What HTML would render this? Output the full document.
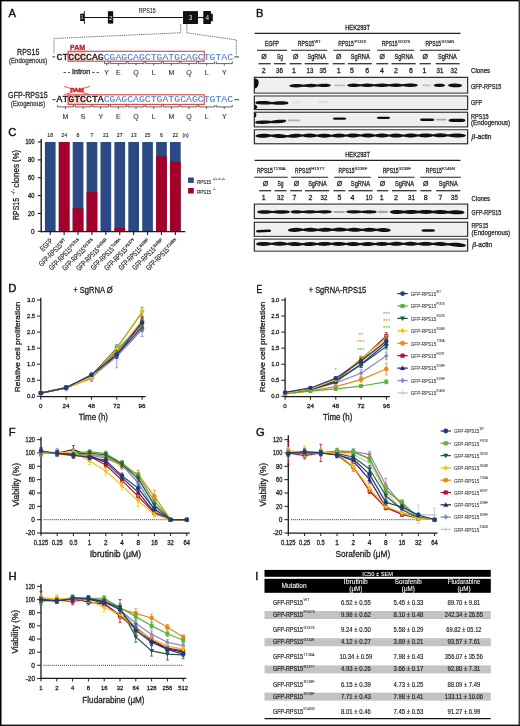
<!DOCTYPE html>
<html><head><meta charset="utf-8"><style>
html,body{margin:0;padding:0;background:#fff;width:520px;height:726px;overflow:hidden}
svg{display:block;will-change:transform;font-family:"Liberation Sans",sans-serif}
</style></head><body>
<svg width="520" height="726" viewBox="0 0 520 726">
<rect width="520" height="726" fill="#fff"/>
<text x="8.60" y="16.90" font-size="11.2" fill="#111" stroke="#111" stroke-width="0.4">A</text>
<text x="255.90" y="17.30" font-size="11.2" fill="#111" stroke="#111" stroke-width="0.4">B</text>
<text x="8.30" y="136.30" font-size="11.2" fill="#111" stroke="#111" stroke-width="0.4">C</text>
<text x="8.30" y="292.40" font-size="11.2" fill="#111" stroke="#111" stroke-width="0.4">D</text>
<text x="256.50" y="292.60" font-size="11.2" textLength="5.60" lengthAdjust="spacingAndGlyphs" fill="#111" stroke="#111" stroke-width="0.4">E</text>
<text x="8.80" y="436.30" font-size="11.2" fill="#111" stroke="#111" stroke-width="0.4">F</text>
<text x="255.90" y="436.30" font-size="11.2" fill="#111" stroke="#111" stroke-width="0.4">G</text>
<text x="8.60" y="579.60" font-size="11.2" fill="#111" stroke="#111" stroke-width="0.4">H</text>
<text x="255.20" y="580.00" font-size="11.2" fill="#111" stroke="#111" stroke-width="0.4">I</text>
<text x="138.80" y="12.60" font-size="6.8" textLength="16.80" lengthAdjust="spacingAndGlyphs" fill="#222" stroke="#222" stroke-width="0.1">RPS15</text>
<line x1="84.00" y1="17.50" x2="183.50" y2="17.50" stroke="#111" stroke-width="1.1"/>
<line x1="197.50" y1="17.50" x2="203.80" y2="17.50" stroke="#111" stroke-width="1.1"/>
<rect x="80.20" y="13.70" width="3.90" height="7.30" fill="#111"/>
<line x1="84.40" y1="11.10" x2="84.40" y2="23.90" stroke="#111" stroke-width="0.9"/>
<rect x="107.90" y="11.20" width="5.30" height="12.40" fill="#111"/>
<rect x="183.00" y="11.10" width="15.00" height="12.90" fill="#111"/>
<path d="M203.3,11.1 H210.9 V13.8 H212.8 V21.3 H210.9 V23.9 H203.3 Z" fill="#111"/>
<text x="82.20" y="19.30" font-size="4.8" text-anchor="middle" fill="#e8e8e8">1</text>
<text x="110.60" y="19.90" font-size="6.0" text-anchor="middle" fill="#e8e8e8">2</text>
<text x="190.50" y="20.00" font-size="6.4" text-anchor="middle" fill="#e8e8e8">3</text>
<text x="207.20" y="20.00" font-size="6.4" text-anchor="middle" fill="#e8e8e8">4</text>
<path d="M180.7,24 V32.8 L54,38.5 V53.8" fill="none" stroke="#444" stroke-width="0.8" stroke-dasharray="1.1,0.8"/>
<path d="M186.8,24 V32.8 L236.3,39.9 V54.8" fill="none" stroke="#444" stroke-width="0.8" stroke-dasharray="1.1,0.8"/>
<text x="17.10" y="55.00" font-size="9.0" textLength="22.20" lengthAdjust="spacingAndGlyphs" fill="#222" stroke="#222" stroke-width="0.28">RPS15</text>
<text x="8.90" y="62.50" font-size="6.6" textLength="38.50" lengthAdjust="spacingAndGlyphs" fill="#444" stroke="#444" stroke-width="0.28">(Endogenous)</text>
<rect x="68.10" y="51.30" width="18.40" height="9.90" fill="#f8d2d2"/>
<g transform="translate(0,59.6) scale(1,0.84) translate(0,-59.6)">
<text x="56.60 62.48 68.37 74.25 80.13 86.02 91.90 97.78" y="59.6" font-family="Liberation Mono" font-size="9.8" fill="#1a1a1a" stroke="#1a1a1a" stroke-width="0.4">CTCCCCAG</text>
<text x="103.66 109.55 115.43 121.31 127.20 133.08 138.96 144.84 150.73 156.61 162.49 168.38 174.26 180.14 186.03 191.91 197.79 203.67 209.56 215.44 221.32 227.21" y="59.6" font-family="Liberation Mono" font-size="9.8" fill="#4f7fd0" stroke="#4f7fd0" stroke-width="0.1">CGAGCAGCTGATGCAGCTGTAC</text>
</g>
<rect x="68.1" y="51.3" width="136.1" height="9.9" fill="none" stroke="#df4848" stroke-width="1.15"/>
<line x1="52.30" y1="56.90" x2="55.20" y2="56.90" stroke="#222" stroke-width="0.9"/>
<line x1="234.40" y1="56.90" x2="239.00" y2="56.90" stroke="#222" stroke-width="0.9"/>
<text x="70.00" y="49.80" font-size="6.5" textLength="15.00" lengthAdjust="spacingAndGlyphs" font-weight="bold" fill="#b92025" stroke="#b92025" stroke-width="0.28">PAM</text>
<text x="106.61" y="74.50" font-size="7.0" text-anchor="middle" fill="#333" stroke="#333" stroke-width="0.12">Y</text>
<text x="118.37" y="74.50" font-size="7.0" text-anchor="middle" fill="#333" stroke="#333" stroke-width="0.12">E</text>
<text x="136.02" y="74.50" font-size="7.0" text-anchor="middle" fill="#333" stroke="#333" stroke-width="0.12">Q</text>
<text x="153.67" y="74.50" font-size="7.0" text-anchor="middle" fill="#333" stroke="#333" stroke-width="0.12">L</text>
<text x="171.32" y="74.50" font-size="7.0" text-anchor="middle" fill="#333" stroke="#333" stroke-width="0.12">M</text>
<text x="188.97" y="74.50" font-size="7.0" text-anchor="middle" fill="#333" stroke="#333" stroke-width="0.12">Q</text>
<text x="206.62" y="74.50" font-size="7.0" text-anchor="middle" fill="#333" stroke="#333" stroke-width="0.12">L</text>
<text x="224.27" y="74.50" font-size="7.0" text-anchor="middle" fill="#333" stroke="#333" stroke-width="0.12">Y</text>
<path d="M104.46,61.4V63.6H108.75V61.4M106.61,63.6V65.5M110.35,61.4V63.6H126.40V61.4M118.37,63.6V65.5M128.00,61.4V63.6H144.04V61.4M136.02,63.6V65.5M145.65,61.4V63.6H161.69V61.4M153.67,63.6V65.5M163.29,61.4V63.6H179.34V61.4M171.32,63.6V65.5M180.94,61.4V63.6H196.99V61.4M188.97,63.6V65.5M198.59,61.4V63.6H214.64V61.4M206.62,63.6V65.5M216.24,61.4V63.6H232.29V61.4M224.27,63.6V65.5" fill="none" stroke="#3a3a3a" stroke-width="0.8"/>
<text x="63.50" y="73.90" font-size="7.0" textLength="35.30" lengthAdjust="spacingAndGlyphs" fill="#222" stroke="#222" stroke-width="0.28">- - Intron - -</text>
<text x="8.10" y="98.20" font-size="9.0" textLength="39.70" lengthAdjust="spacingAndGlyphs" fill="#222" stroke="#222" stroke-width="0.28">GFP-RPS15</text>
<text x="10.70" y="106.30" font-size="6.6" textLength="34.50" lengthAdjust="spacingAndGlyphs" fill="#444" stroke="#444" stroke-width="0.28">(Exogenous)</text>
<rect x="68.10" y="94.80" width="17.80" height="9.60" fill="#f8d2d2"/>
<g transform="translate(0,102.5) scale(1,0.84) translate(0,-102.5)">
<text x="56.60 62.48 68.37 74.25 80.13 86.02 91.90 97.78" y="102.5" font-family="Liberation Mono" font-size="9.8" fill="#1a1a1a" stroke="#1a1a1a" stroke-width="0.4">ATGTCCTA</text>
<text x="103.66 109.55 115.43 121.31 127.20 133.08 138.96 144.84 150.73 156.61 162.49 168.38 174.26 180.14 186.03 191.91 197.79 203.67 209.56 215.44 221.32 227.21" y="102.5" font-family="Liberation Mono" font-size="9.8" fill="#4f7fd0" stroke="#4f7fd0" stroke-width="0.1">CGAGCAGCTGATGCAGCTGTAC</text>
</g>
<rect x="68.1" y="94.8" width="136.1" height="9.6" fill="none" stroke="#df4848" stroke-width="1.15"/>
<line x1="52.30" y1="99.70" x2="55.60" y2="99.70" stroke="#222" stroke-width="0.9"/>
<line x1="234.40" y1="99.70" x2="239.00" y2="99.70" stroke="#222" stroke-width="0.9"/>
<text x="70.20" y="91.80" font-size="5.2" textLength="13.80" lengthAdjust="spacingAndGlyphs" font-weight="bold" fill="#c02025" stroke="#c02025" stroke-width="0.28">PAM</text>
<path d="M64.2,86.4 L89.8,94.7 M64.2,94.9 L89.9,86.2" fill="none" stroke="#d42a2a" stroke-width="0.8"/>
<text x="65.42" y="118.90" font-size="7.0" text-anchor="middle" fill="#333" stroke="#333" stroke-width="0.12">M</text>
<text x="83.07" y="118.90" font-size="7.0" text-anchor="middle" fill="#333" stroke="#333" stroke-width="0.12">S</text>
<text x="100.72" y="118.90" font-size="7.0" text-anchor="middle" fill="#333" stroke="#333" stroke-width="0.12">Y</text>
<text x="118.37" y="118.90" font-size="7.0" text-anchor="middle" fill="#333" stroke="#333" stroke-width="0.12">E</text>
<text x="136.02" y="118.90" font-size="7.0" text-anchor="middle" fill="#333" stroke="#333" stroke-width="0.12">Q</text>
<text x="153.67" y="118.90" font-size="7.0" text-anchor="middle" fill="#333" stroke="#333" stroke-width="0.12">L</text>
<text x="171.32" y="118.90" font-size="7.0" text-anchor="middle" fill="#333" stroke="#333" stroke-width="0.12">M</text>
<text x="188.97" y="118.90" font-size="7.0" text-anchor="middle" fill="#333" stroke="#333" stroke-width="0.12">Q</text>
<text x="206.62" y="118.90" font-size="7.0" text-anchor="middle" fill="#333" stroke="#333" stroke-width="0.12">L</text>
<text x="224.27" y="118.90" font-size="7.0" text-anchor="middle" fill="#333" stroke="#333" stroke-width="0.12">Y</text>
<path d="M57.40,105.0V106.9H73.45V105.0M65.42,106.9V109.0M75.05,105.0V106.9H91.10V105.0M83.07,106.9V109.0M92.70,105.0V106.9H108.75V105.0M100.72,106.9V109.0M110.35,105.0V106.9H126.40V105.0M118.37,106.9V109.0M128.00,105.0V106.9H144.04V105.0M136.02,106.9V109.0M145.65,105.0V106.9H161.69V105.0M153.67,106.9V109.0M163.29,105.0V106.9H179.34V105.0M171.32,106.9V109.0M180.94,105.0V106.9H196.99V105.0M188.97,106.9V109.0M198.59,105.0V106.9H214.64V105.0M206.62,106.9V109.0M216.24,105.0V106.9H232.29V105.0M224.27,106.9V109.0" fill="none" stroke="#3a3a3a" stroke-width="0.8"/>
<defs><filter id="bl" x="-10%" y="-100%" width="120%" height="300%"><feGaussianBlur stdDeviation="0.55"/></filter><filter id="bl2" x="-10%" y="-100%" width="120%" height="300%"><feGaussianBlur stdDeviation="0.9"/></filter></defs>
<text x="345.20" y="29.50" font-size="6.6" textLength="24.80" lengthAdjust="spacingAndGlyphs" fill="#222" stroke="#222" stroke-width="0.28">HEK293T</text>
<line x1="254.60" y1="33.40" x2="460.50" y2="33.40" stroke="#222" stroke-width="1.1"/>
<text x="265.00" y="45.90" font-size="6.7" textLength="14.00" lengthAdjust="spacingAndGlyphs" fill="#222" stroke="#222" stroke-width="0.28">EGFP</text>
<line x1="257.00" y1="50.30" x2="287.00" y2="50.30" stroke="#222" stroke-width="1.1"/>
<text x="263.90" y="59.20" font-size="7.0" text-anchor="middle" fill="#222" stroke="#222" stroke-width="0.28">Ø</text>
<line x1="258.50" y1="63.70" x2="270.80" y2="63.70" stroke="#333" stroke-width="1.3"/>
<text x="277.00" y="59.20" font-size="7.0" textLength="5.90" lengthAdjust="spacingAndGlyphs" fill="#222" stroke="#222" stroke-width="0.28">Sg</text>
<line x1="273.80" y1="63.70" x2="285.70" y2="63.70" stroke="#333" stroke-width="1.3"/>
<text x="263.80" y="73.00" font-size="7.0" text-anchor="middle" fill="#222" stroke="#222" stroke-width="0.28">2</text>
<text x="279.50" y="73.00" font-size="7.0" text-anchor="middle" textLength="6.80" lengthAdjust="spacingAndGlyphs" fill="#222" stroke="#222" stroke-width="0.28">36</text>
<text x="297.80" y="45.90" font-size="6.7" textLength="16.40" lengthAdjust="spacingAndGlyphs" fill="#222" stroke="#222" stroke-width="0.28">RPS15</text>
<text x="314.50" y="42.50" font-size="4.1" textLength="6.20" lengthAdjust="spacingAndGlyphs" fill="#222" stroke="#222" stroke-width="0.15">WT</text>
<line x1="291.30" y1="50.30" x2="327.30" y2="50.30" stroke="#222" stroke-width="1.1"/>
<text x="295.70" y="59.20" font-size="7.0" text-anchor="middle" fill="#222" stroke="#222" stroke-width="0.28">Ø</text>
<line x1="289.70" y1="63.70" x2="301.50" y2="63.70" stroke="#333" stroke-width="1.3"/>
<text x="307.60" y="59.20" font-size="7.0" textLength="18.40" lengthAdjust="spacingAndGlyphs" fill="#222" stroke="#222" stroke-width="0.28">SgRNA</text>
<line x1="304.60" y1="63.70" x2="328.50" y2="63.70" stroke="#333" stroke-width="1.3"/>
<text x="294.00" y="73.00" font-size="7.0" text-anchor="middle" fill="#222" stroke="#222" stroke-width="0.28">1</text>
<text x="310.00" y="73.00" font-size="7.0" text-anchor="middle" textLength="6.80" lengthAdjust="spacingAndGlyphs" fill="#222" stroke="#222" stroke-width="0.28">13</text>
<text x="323.00" y="73.00" font-size="7.0" text-anchor="middle" textLength="6.80" lengthAdjust="spacingAndGlyphs" fill="#222" stroke="#222" stroke-width="0.28">35</text>
<text x="338.20" y="45.90" font-size="6.7" textLength="15.50" lengthAdjust="spacingAndGlyphs" fill="#222" stroke="#222" stroke-width="0.28">RPS15</text>
<text x="354.50" y="42.50" font-size="4.1" textLength="11.50" lengthAdjust="spacingAndGlyphs" fill="#222" stroke="#222" stroke-width="0.15">P131S</text>
<line x1="333.30" y1="50.30" x2="370.20" y2="50.30" stroke="#222" stroke-width="1.1"/>
<text x="338.70" y="59.20" font-size="7.0" text-anchor="middle" fill="#222" stroke="#222" stroke-width="0.28">Ø</text>
<line x1="332.70" y1="63.70" x2="344.70" y2="63.70" stroke="#333" stroke-width="1.3"/>
<text x="350.80" y="59.20" font-size="7.0" textLength="18.90" lengthAdjust="spacingAndGlyphs" fill="#222" stroke="#222" stroke-width="0.28">SgRNA</text>
<line x1="347.80" y1="63.70" x2="371.90" y2="63.70" stroke="#333" stroke-width="1.3"/>
<text x="338.80" y="73.00" font-size="7.0" text-anchor="middle" fill="#222" stroke="#222" stroke-width="0.28">1</text>
<text x="352.00" y="73.00" font-size="7.0" text-anchor="middle" fill="#222" stroke="#222" stroke-width="0.28">5</text>
<text x="367.30" y="73.00" font-size="7.0" text-anchor="middle" fill="#222" stroke="#222" stroke-width="0.28">6</text>
<text x="381.90" y="45.90" font-size="6.7" textLength="15.50" lengthAdjust="spacingAndGlyphs" fill="#222" stroke="#222" stroke-width="0.28">RPS15</text>
<text x="398.00" y="42.50" font-size="4.1" textLength="12.00" lengthAdjust="spacingAndGlyphs" fill="#222" stroke="#222" stroke-width="0.15">G132S</text>
<line x1="377.30" y1="50.30" x2="414.20" y2="50.30" stroke="#222" stroke-width="1.1"/>
<text x="382.30" y="59.20" font-size="7.0" text-anchor="middle" fill="#222" stroke="#222" stroke-width="0.28">Ø</text>
<line x1="376.20" y1="63.70" x2="388.40" y2="63.70" stroke="#333" stroke-width="1.3"/>
<text x="394.50" y="59.20" font-size="7.0" textLength="18.70" lengthAdjust="spacingAndGlyphs" fill="#222" stroke="#222" stroke-width="0.28">SgRNA</text>
<line x1="391.50" y1="63.70" x2="415.70" y2="63.70" stroke="#333" stroke-width="1.3"/>
<text x="382.00" y="73.00" font-size="7.0" text-anchor="middle" fill="#222" stroke="#222" stroke-width="0.28">4</text>
<text x="396.00" y="73.00" font-size="7.0" text-anchor="middle" fill="#222" stroke="#222" stroke-width="0.28">2</text>
<text x="410.90" y="73.00" font-size="7.0" text-anchor="middle" fill="#222" stroke="#222" stroke-width="0.28">6</text>
<text x="425.40" y="45.90" font-size="6.7" textLength="15.50" lengthAdjust="spacingAndGlyphs" fill="#222" stroke="#222" stroke-width="0.28">RPS15</text>
<text x="441.60" y="42.50" font-size="4.1" textLength="12.50" lengthAdjust="spacingAndGlyphs" fill="#222" stroke="#222" stroke-width="0.15">G134R</text>
<line x1="419.70" y1="50.30" x2="460.00" y2="50.30" stroke="#222" stroke-width="1.1"/>
<text x="425.30" y="59.20" font-size="7.0" text-anchor="middle" fill="#222" stroke="#222" stroke-width="0.28">Ø</text>
<line x1="419.70" y1="63.70" x2="430.80" y2="63.70" stroke="#333" stroke-width="1.3"/>
<text x="437.90" y="59.20" font-size="7.0" textLength="19.00" lengthAdjust="spacingAndGlyphs" fill="#222" stroke="#222" stroke-width="0.28">SgRNA</text>
<line x1="435.70" y1="63.70" x2="459.70" y2="63.70" stroke="#333" stroke-width="1.3"/>
<text x="424.50" y="73.00" font-size="7.0" text-anchor="middle" fill="#222" stroke="#222" stroke-width="0.28">1</text>
<text x="440.00" y="73.00" font-size="7.0" text-anchor="middle" textLength="6.80" lengthAdjust="spacingAndGlyphs" fill="#222" stroke="#222" stroke-width="0.28">31</text>
<text x="454.00" y="73.00" font-size="7.0" text-anchor="middle" textLength="6.80" lengthAdjust="spacingAndGlyphs" fill="#222" stroke="#222" stroke-width="0.28">32</text>
<text x="345.20" y="156.50" font-size="6.6" textLength="24.80" lengthAdjust="spacingAndGlyphs" fill="#222" stroke="#222" stroke-width="0.28">HEK293T</text>
<line x1="254.60" y1="160.40" x2="460.50" y2="160.40" stroke="#222" stroke-width="1.1"/>
<text x="256.90" y="172.90" font-size="6.7" textLength="16.00" lengthAdjust="spacingAndGlyphs" fill="#222" stroke="#222" stroke-width="0.28">RPS15</text>
<text x="273.20" y="169.50" font-size="4.1" textLength="12.50" lengthAdjust="spacingAndGlyphs" fill="#222" stroke="#222" stroke-width="0.15">T136A</text>
<line x1="254.30" y1="177.30" x2="287.70" y2="177.30" stroke="#222" stroke-width="1.1"/>
<text x="265.60" y="186.20" font-size="7.0" text-anchor="middle" fill="#222" stroke="#222" stroke-width="0.28">Ø</text>
<line x1="259.20" y1="190.70" x2="271.20" y2="190.70" stroke="#333" stroke-width="1.3"/>
<text x="277.60" y="186.20" font-size="7.0" textLength="6.00" lengthAdjust="spacingAndGlyphs" fill="#222" stroke="#222" stroke-width="0.28">Sg</text>
<line x1="274.60" y1="190.70" x2="286.60" y2="190.70" stroke="#333" stroke-width="1.3"/>
<text x="263.80" y="200.00" font-size="7.0" text-anchor="middle" fill="#222" stroke="#222" stroke-width="0.28">1</text>
<text x="280.40" y="200.00" font-size="7.0" text-anchor="middle" textLength="6.80" lengthAdjust="spacingAndGlyphs" fill="#222" stroke="#222" stroke-width="0.28">32</text>
<text x="295.00" y="172.90" font-size="6.7" textLength="16.00" lengthAdjust="spacingAndGlyphs" fill="#222" stroke="#222" stroke-width="0.28">RPS15</text>
<text x="311.30" y="169.50" font-size="4.1" textLength="13.30" lengthAdjust="spacingAndGlyphs" fill="#222" stroke="#222" stroke-width="0.15">H137Y</text>
<line x1="291.20" y1="177.30" x2="328.20" y2="177.30" stroke="#222" stroke-width="1.1"/>
<text x="296.40" y="186.20" font-size="7.0" text-anchor="middle" fill="#222" stroke="#222" stroke-width="0.28">Ø</text>
<line x1="290.30" y1="190.70" x2="302.00" y2="190.70" stroke="#333" stroke-width="1.3"/>
<text x="308.20" y="186.20" font-size="7.0" textLength="18.40" lengthAdjust="spacingAndGlyphs" fill="#222" stroke="#222" stroke-width="0.28">SgRNA</text>
<line x1="305.00" y1="190.70" x2="329.20" y2="190.70" stroke="#333" stroke-width="1.3"/>
<text x="294.40" y="200.00" font-size="7.0" text-anchor="middle" fill="#222" stroke="#222" stroke-width="0.28">7</text>
<text x="310.50" y="200.00" font-size="7.0" text-anchor="middle" fill="#222" stroke="#222" stroke-width="0.28">2</text>
<text x="324.00" y="200.00" font-size="7.0" text-anchor="middle" textLength="6.80" lengthAdjust="spacingAndGlyphs" fill="#222" stroke="#222" stroke-width="0.28">32</text>
<text x="338.50" y="172.90" font-size="6.7" textLength="16.00" lengthAdjust="spacingAndGlyphs" fill="#222" stroke="#222" stroke-width="0.28">RPS15</text>
<text x="354.80" y="169.50" font-size="4.1" textLength="12.50" lengthAdjust="spacingAndGlyphs" fill="#222" stroke="#222" stroke-width="0.15">S138F</text>
<line x1="334.20" y1="177.30" x2="370.80" y2="177.30" stroke="#222" stroke-width="1.1"/>
<text x="339.50" y="186.20" font-size="7.0" text-anchor="middle" fill="#222" stroke="#222" stroke-width="0.28">Ø</text>
<line x1="333.50" y1="190.70" x2="345.30" y2="190.70" stroke="#333" stroke-width="1.3"/>
<text x="350.80" y="186.20" font-size="7.0" textLength="19.20" lengthAdjust="spacingAndGlyphs" fill="#222" stroke="#222" stroke-width="0.28">SgRNA</text>
<line x1="348.40" y1="190.70" x2="372.70" y2="190.70" stroke="#333" stroke-width="1.3"/>
<text x="339.50" y="200.00" font-size="7.0" text-anchor="middle" fill="#222" stroke="#222" stroke-width="0.28">5</text>
<text x="352.50" y="200.00" font-size="7.0" text-anchor="middle" fill="#222" stroke="#222" stroke-width="0.28">4</text>
<text x="369.00" y="200.00" font-size="7.0" text-anchor="middle" textLength="6.80" lengthAdjust="spacingAndGlyphs" fill="#222" stroke="#222" stroke-width="0.28">10</text>
<text x="382.70" y="172.90" font-size="6.7" textLength="16.00" lengthAdjust="spacingAndGlyphs" fill="#222" stroke="#222" stroke-width="0.28">RPS15</text>
<text x="399.00" y="169.50" font-size="4.1" textLength="12.00" lengthAdjust="spacingAndGlyphs" fill="#222" stroke="#222" stroke-width="0.15">S139F</text>
<line x1="378.00" y1="177.30" x2="414.60" y2="177.30" stroke="#222" stroke-width="1.1"/>
<text x="382.60" y="186.20" font-size="7.0" text-anchor="middle" fill="#222" stroke="#222" stroke-width="0.28">Ø</text>
<line x1="377.00" y1="190.70" x2="388.40" y2="190.70" stroke="#333" stroke-width="1.3"/>
<text x="395.00" y="186.20" font-size="7.0" textLength="19.00" lengthAdjust="spacingAndGlyphs" fill="#222" stroke="#222" stroke-width="0.28">SgRNA</text>
<line x1="392.00" y1="190.70" x2="416.60" y2="190.70" stroke="#333" stroke-width="1.3"/>
<text x="381.60" y="200.00" font-size="7.0" text-anchor="middle" fill="#222" stroke="#222" stroke-width="0.28">1</text>
<text x="396.00" y="200.00" font-size="7.0" text-anchor="middle" fill="#222" stroke="#222" stroke-width="0.28">2</text>
<text x="411.50" y="200.00" font-size="7.0" text-anchor="middle" textLength="6.80" lengthAdjust="spacingAndGlyphs" fill="#222" stroke="#222" stroke-width="0.28">31</text>
<text x="425.80" y="172.90" font-size="6.7" textLength="16.00" lengthAdjust="spacingAndGlyphs" fill="#222" stroke="#222" stroke-width="0.28">RPS15</text>
<text x="442.00" y="169.50" font-size="4.1" textLength="13.00" lengthAdjust="spacingAndGlyphs" fill="#222" stroke="#222" stroke-width="0.15">K145N</text>
<line x1="420.30" y1="177.30" x2="460.80" y2="177.30" stroke="#222" stroke-width="1.1"/>
<text x="425.70" y="186.20" font-size="7.0" text-anchor="middle" fill="#222" stroke="#222" stroke-width="0.28">Ø</text>
<line x1="420.30" y1="190.70" x2="431.50" y2="190.70" stroke="#333" stroke-width="1.3"/>
<text x="438.80" y="186.20" font-size="7.0" textLength="18.90" lengthAdjust="spacingAndGlyphs" fill="#222" stroke="#222" stroke-width="0.28">SgRNA</text>
<line x1="436.20" y1="190.70" x2="460.30" y2="190.70" stroke="#333" stroke-width="1.3"/>
<text x="425.70" y="200.00" font-size="7.0" text-anchor="middle" fill="#222" stroke="#222" stroke-width="0.28">8</text>
<text x="440.50" y="200.00" font-size="7.0" text-anchor="middle" fill="#222" stroke="#222" stroke-width="0.28">7</text>
<text x="454.50" y="200.00" font-size="7.0" text-anchor="middle" textLength="6.80" lengthAdjust="spacingAndGlyphs" fill="#222" stroke="#222" stroke-width="0.28">35</text>
<rect x="254.40" y="77.40" width="213.20" height="15.60" fill="#efefef" stroke="#2b2b2b" stroke-width="1.3"/>
<rect x="255.30" y="78.30" width="211.40" height="13.80" fill="none" stroke="#f6f6f6" stroke-width="0.7"/>
<rect x="254.40" y="96.10" width="213.20" height="13.40" fill="#efefef" stroke="#2b2b2b" stroke-width="1.3"/>
<rect x="255.30" y="97.00" width="211.40" height="11.60" fill="none" stroke="#f6f6f6" stroke-width="0.7"/>
<rect x="254.40" y="112.30" width="213.20" height="14.50" fill="#efefef" stroke="#2b2b2b" stroke-width="1.3"/>
<rect x="255.30" y="113.20" width="211.40" height="12.70" fill="none" stroke="#f6f6f6" stroke-width="0.7"/>
<rect x="254.40" y="129.90" width="213.20" height="13.80" fill="#efefef" stroke="#2b2b2b" stroke-width="1.3"/>
<rect x="255.30" y="130.80" width="211.40" height="12.00" fill="none" stroke="#f6f6f6" stroke-width="0.7"/>
<path d="M254.6,78.2 Q259.5,79 258.6,83.5 Q258,88 254.6,88.6 Z" fill="#111" filter="url(#bl)"/>
<path d="M289.20,85.80 L290.04,85.09 L290.87,84.67 L291.71,84.43 L292.54,84.32 L293.38,84.21 L294.22,84.13 L295.05,84.07 L295.89,84.03 L296.72,84.01 L297.56,84.02 L298.40,84.05 L299.23,84.11 L300.07,84.18 L300.90,84.27 L301.74,84.38 L302.58,84.49 L303.41,84.62 L304.25,84.59 L305.08,84.44 L305.92,84.29 L306.76,84.16 L307.59,84.05 L308.43,83.96 L309.26,83.89 L310.10,83.85 L310.94,83.84 L311.77,83.86 L312.61,83.91 L313.44,83.98 L314.28,84.08 L315.12,84.19 L315.95,84.31 L316.79,84.45 L317.62,84.44 L318.46,84.29 L319.30,84.15 L320.13,84.02 L320.97,83.90 L321.80,83.81 L322.64,83.74 L323.48,83.70 L324.31,83.68 L325.15,83.69 L325.98,83.73 L326.82,83.79 L327.66,83.87 L328.49,83.97 L329.33,84.20 L330.16,84.60 L331.00,85.30 L331.00,85.30 L330.16,86.02 L329.33,86.44 L328.49,86.69 L327.66,86.81 L326.82,86.91 L325.98,86.99 L325.15,87.05 L324.31,87.08 L323.48,87.08 L322.64,87.06 L321.80,87.01 L320.97,86.94 L320.13,86.84 L319.30,86.73 L318.46,86.61 L317.62,86.48 L316.79,86.49 L315.95,86.65 L315.12,86.79 L314.28,86.92 L313.44,87.04 L312.61,87.13 L311.77,87.20 L310.94,87.24 L310.10,87.25 L309.26,87.23 L308.43,87.18 L307.59,87.11 L306.76,87.02 L305.92,86.91 L305.08,86.78 L304.25,86.65 L303.41,86.64 L302.58,86.79 L301.74,86.92 L300.90,87.05 L300.07,87.16 L299.23,87.25 L298.40,87.33 L297.56,87.38 L296.72,87.41 L295.89,87.41 L295.05,87.39 L294.22,87.35 L293.38,87.29 L292.54,87.20 L291.71,87.11 L290.87,86.89 L290.04,86.49 L289.20,85.80Z" fill="#111" opacity="1.0"/>
<path d="M333.80,85.40 Q333.80,84.44 335.71,84.44 L343.49,84.44 Q345.40,84.44 345.40,85.40 Q345.40,86.36 343.49,86.36 L335.71,86.36 Q333.80,86.36 333.80,85.40Z" fill="#111" opacity="0.22" filter="url(#bl)"/>
<path d="M347.00,85.30 L347.84,84.59 L348.67,84.17 L349.51,83.94 L350.34,83.82 L351.18,83.73 L352.01,83.66 L352.85,83.61 L353.68,83.59 L354.52,83.60 L355.35,83.64 L356.19,83.70 L357.02,83.78 L357.86,83.89 L358.69,84.01 L359.53,84.15 L360.36,84.29 L361.20,84.23 L362.04,84.08 L362.87,83.95 L363.71,83.83 L364.54,83.73 L365.38,83.65 L366.21,83.60 L367.05,83.57 L367.88,83.58 L368.72,83.60 L369.55,83.66 L370.39,83.74 L371.22,83.84 L372.06,83.96 L372.89,84.09 L373.73,84.23 L374.56,84.25 L375.40,84.12 L376.24,84.00 L377.07,83.88 L377.91,83.78 L378.74,83.69 L379.58,83.63 L380.41,83.58 L381.25,83.56 L382.08,83.55 L382.92,83.57 L383.75,83.62 L384.59,83.68 L385.42,83.76 L386.26,83.86 L387.09,83.97 L387.93,84.10 L388.76,84.22 L389.60,84.22 L390.44,84.08 L391.27,83.94 L392.11,83.82 L392.94,83.71 L393.78,83.63 L394.61,83.57 L395.45,83.54 L396.28,83.53 L397.12,83.56 L397.95,83.61 L398.79,83.68 L399.62,83.78 L400.46,83.90 L401.29,84.03 L402.13,84.17 L402.96,84.23 L403.80,84.10 L404.64,83.98 L405.47,83.86 L406.31,83.76 L407.14,83.67 L407.98,83.60 L408.81,83.55 L409.65,83.52 L410.48,83.51 L411.32,83.52 L412.15,83.56 L412.99,83.61 L413.82,83.69 L414.66,83.78 L415.49,83.88 L416.33,84.10 L417.16,84.50 L418.00,85.20 L418.00,85.20 L417.16,85.90 L416.33,86.30 L415.49,86.52 L414.66,86.63 L413.82,86.72 L412.99,86.80 L412.15,86.86 L411.32,86.89 L410.48,86.91 L409.65,86.90 L408.81,86.88 L407.98,86.83 L407.14,86.76 L406.31,86.67 L405.47,86.57 L404.64,86.46 L403.80,86.34 L402.96,86.21 L402.13,86.27 L401.29,86.41 L400.46,86.55 L399.62,86.67 L398.79,86.77 L397.95,86.85 L397.12,86.90 L396.28,86.93 L395.45,86.93 L394.61,86.90 L393.78,86.84 L392.94,86.76 L392.11,86.66 L391.27,86.54 L390.44,86.40 L389.60,86.26 L388.76,86.26 L387.93,86.39 L387.09,86.51 L386.26,86.63 L385.42,86.73 L384.59,86.81 L383.75,86.88 L382.92,86.93 L382.08,86.95 L381.25,86.95 L380.41,86.93 L379.58,86.88 L378.74,86.82 L377.91,86.73 L377.07,86.63 L376.24,86.52 L375.40,86.40 L374.56,86.27 L373.73,86.29 L372.89,86.44 L372.06,86.57 L371.22,86.69 L370.39,86.80 L369.55,86.88 L368.72,86.93 L367.88,86.97 L367.05,86.97 L366.21,86.94 L365.38,86.89 L364.54,86.82 L363.71,86.72 L362.87,86.60 L362.04,86.47 L361.20,86.33 L360.36,86.27 L359.53,86.42 L358.69,86.55 L357.86,86.68 L357.02,86.79 L356.19,86.88 L355.35,86.94 L354.52,86.98 L353.68,86.99 L352.85,86.97 L352.01,86.93 L351.18,86.86 L350.34,86.77 L349.51,86.66 L348.67,86.42 L347.84,86.01 L347.00,85.30Z" fill="#111" opacity="1.0"/>
<path d="M422.00,85.40 Q422.00,84.44 423.91,84.44 L429.09,84.44 Q431.00,84.44 431.00,85.40 Q431.00,86.36 429.09,86.36 L423.91,86.36 Q422.00,86.36 422.00,85.40Z" fill="#111" opacity="0.2" filter="url(#bl)"/>
<path d="M433.50,85.30 L434.34,84.56 L435.19,84.14 L436.03,83.93 L436.87,83.83 L437.71,83.76 L438.56,83.72 L439.40,83.70 L440.24,83.72 L441.09,83.76 L441.93,83.83 L442.77,83.93 L443.61,84.14 L444.46,84.56 L445.30,85.30 L445.30,85.30 L444.46,86.04 L443.61,86.46 L442.77,86.67 L441.93,86.77 L441.09,86.84 L440.24,86.88 L439.40,86.90 L438.56,86.88 L437.71,86.84 L436.87,86.77 L436.03,86.67 L435.19,86.46 L434.34,86.04 L433.50,85.30Z" fill="#111" opacity="1.0"/>
<path d="M447.90,85.30 L448.75,84.56 L449.59,84.12 L450.44,83.88 L451.29,83.76 L452.14,83.67 L452.98,83.60 L453.83,83.56 L454.68,83.55 L455.52,83.56 L456.37,83.61 L457.22,83.69 L458.06,83.79 L458.91,83.92 L459.76,84.07 L460.61,84.35 L461.45,84.82 L462.30,85.60 L462.30,85.60 L461.45,86.34 L460.61,86.78 L459.76,87.02 L458.91,87.14 L458.06,87.23 L457.22,87.30 L456.37,87.34 L455.52,87.35 L454.68,87.34 L453.83,87.29 L452.98,87.21 L452.14,87.11 L451.29,86.98 L450.44,86.83 L449.59,86.55 L448.75,86.08 L447.90,85.30Z" fill="#111" opacity="1.0"/>
<path d="M255.00,102.70 L255.84,101.80 L256.68,101.39 L257.52,101.29 L258.36,101.19 L259.20,101.11 L260.04,101.04 L260.88,100.98 L261.72,100.94 L262.56,100.91 L263.40,100.90 L264.24,100.91 L265.08,100.93 L265.92,101.02 L266.76,101.12 L267.60,101.24 L268.44,101.37 L269.28,101.51 L270.12,101.65 L270.96,101.81 L271.80,101.96 L272.64,101.91 L273.48,101.80 L274.32,101.69 L275.16,101.59 L276.00,101.50 L276.84,101.42 L277.68,101.35 L278.52,101.30 L279.36,101.27 L280.20,101.25 L281.04,101.25 L281.88,101.27 L282.72,101.31 L283.56,101.36 L284.40,101.43 L285.24,101.50 L286.08,101.59 L286.92,101.69 L287.76,102.10 L288.60,103.00 L288.60,103.00 L287.76,103.91 L286.92,104.33 L286.08,104.44 L285.24,104.54 L284.40,104.62 L283.56,104.70 L282.72,104.76 L281.88,104.81 L281.04,104.84 L280.20,104.85 L279.36,104.84 L278.52,104.82 L277.68,104.78 L276.84,104.73 L276.00,104.66 L275.16,104.58 L274.32,104.48 L273.48,104.38 L272.64,104.28 L271.80,104.21 L270.96,104.27 L270.12,104.33 L269.28,104.38 L268.44,104.42 L267.60,104.46 L266.76,104.48 L265.92,104.48 L265.08,104.47 L264.24,104.49 L263.40,104.50 L262.56,104.49 L261.72,104.46 L260.88,104.42 L260.04,104.36 L259.20,104.29 L258.36,104.21 L257.52,104.11 L256.68,104.01 L255.84,103.60 L255.00,102.70Z" fill="#111" opacity="1.0"/>
<path d="M254.6,104.2 Q257.6,105.5 257.2,107.2 Q256.5,109 254.6,109.3 Z" fill="#111" filter="url(#bl)"/>
<path d="M292.00,102.50 Q292.00,101.72 293.57,101.72 L298.43,101.72 Q300.00,101.72 300.00,102.50 Q300.00,103.28 298.43,103.28 L293.57,103.28 Q292.00,103.28 292.00,102.50Z" fill="#111" opacity="0.08" filter="url(#bl)"/>
<path d="M318.00,102.00 Q318.00,101.22 319.57,101.22 L326.43,101.22 Q328.00,101.22 328.00,102.00 Q328.00,102.78 326.43,102.78 L319.57,102.78 Q318.00,102.78 318.00,102.00Z" fill="#111" opacity="0.1" filter="url(#bl)"/>
<path d="M254.6,112.8 L256.4,113.2 L256.0,117 L254.6,117.2 Z" fill="#111" filter="url(#bl)"/>
<path d="M255.00,122.40 L255.85,121.48 L256.70,121.06 L257.55,120.95 L258.39,120.85 L259.24,120.75 L260.09,120.67 L260.94,120.60 L261.79,120.55 L262.64,120.51 L263.49,120.49 L264.34,120.48 L265.18,120.49 L266.03,120.52 L266.88,120.56 L267.73,120.61 L268.58,120.67 L269.43,120.74 L270.28,120.81 L271.12,120.88 L271.97,120.74 L272.82,120.57 L273.67,120.42 L274.52,120.27 L275.37,120.13 L276.22,120.01 L277.06,119.90 L277.91,119.82 L278.76,119.75 L279.61,119.69 L280.46,119.66 L281.31,119.64 L282.16,119.64 L283.01,119.66 L283.85,119.68 L284.70,119.72 L285.55,120.05 L286.40,120.90 L286.40,120.90 L285.55,121.87 L284.70,122.33 L283.85,122.48 L283.01,122.63 L282.16,122.76 L281.31,122.88 L280.46,122.99 L279.61,123.08 L278.76,123.15 L277.91,123.20 L277.06,123.23 L276.22,123.24 L275.37,123.24 L274.52,123.23 L273.67,123.20 L272.82,123.17 L271.97,123.13 L271.12,123.10 L270.28,123.23 L269.43,123.34 L268.58,123.45 L267.73,123.56 L266.88,123.65 L266.03,123.73 L265.18,123.80 L264.34,123.85 L263.49,123.89 L262.64,123.91 L261.79,123.91 L260.94,123.90 L260.09,123.87 L259.24,123.83 L258.39,123.78 L257.55,123.72 L256.70,123.65 L255.85,123.28 L255.00,122.40Z" fill="#111" opacity="1.0"/>
<path d="M287.50,120.30 Q287.50,119.47 289.15,119.47 L298.85,119.47 Q300.50,119.47 300.50,120.30 Q300.50,121.13 298.85,121.13 L289.15,121.13 Q287.50,121.13 287.50,120.30Z" fill="#111" opacity="0.28" filter="url(#bl)"/>
<path d="M332.90,118.70 Q332.90,117.57 335.16,117.57 L344.04,117.57 Q346.30,117.57 346.30,118.70 Q346.30,119.83 344.04,119.83 L335.16,119.83 Q332.90,119.83 332.90,118.70Z" fill="#111" opacity="1.0" filter="url(#bl)"/>
<path d="M376.70,117.80 Q376.70,116.71 378.88,116.71 L388.02,116.71 Q390.20,116.71 390.20,117.80 Q390.20,118.89 388.02,118.89 L378.88,118.89 Q376.70,118.89 376.70,117.80Z" fill="#111" opacity="1.0" filter="url(#bl)"/>
<path d="M420.00,119.70 Q420.00,118.44 422.52,118.44 L431.88,118.44 Q434.40,118.44 434.40,119.70 Q434.40,120.96 431.88,120.96 L422.52,120.96 Q420.00,120.96 420.00,119.70Z" fill="#111" opacity="1.0" filter="url(#bl)"/>
<path d="M435.80,119.70 Q435.80,118.83 437.54,118.83 L444.76,118.83 Q446.50,118.83 446.50,119.70 Q446.50,120.57 444.76,120.57 L437.54,120.57 Q435.80,120.57 435.80,119.70Z" fill="#111" opacity="0.32" filter="url(#bl)"/>
<path d="M448.60,120.30 Q448.60,118.69 451.82,118.69 L462.18,118.69 Q465.40,118.69 465.40,120.30 Q465.40,121.91 462.18,121.91 L451.82,121.91 Q448.60,121.91 448.60,120.30Z" fill="#111" opacity="1.0" filter="url(#bl)"/>
<path d="M255.20,135.99 L256.03,135.25 L256.87,134.78 L257.70,134.49 L258.54,134.33 L259.37,134.18 L260.20,134.05 L261.04,133.94 L261.87,133.86 L262.71,133.80 L263.54,133.77 L264.37,133.77 L265.21,133.79 L266.04,133.84 L266.88,133.92 L267.71,134.01 L268.54,134.12 L269.38,134.25 L270.21,134.40 L271.05,134.61 L271.88,134.66 L272.71,134.53 L273.55,134.40 L274.38,134.29 L275.22,134.19 L276.05,134.11 L276.88,134.06 L277.72,134.02 L278.55,134.02 L279.39,134.04 L280.22,134.09 L281.05,134.16 L281.89,134.27 L282.72,134.40 L283.56,134.55 L284.39,134.72 L285.22,134.88 L286.06,135.00 L286.89,135.12 L287.73,135.16 L288.56,134.93 L289.39,134.71 L290.23,134.50 L291.06,134.31 L291.90,134.15 L292.73,134.00 L293.56,133.89 L294.40,133.81 L295.23,133.76 L296.07,133.74 L296.90,133.75 L297.73,133.79 L298.57,133.86 L299.40,133.95 L300.24,134.07 L301.07,134.25 L301.90,134.43 L302.74,134.51 L303.57,134.33 L304.41,134.16 L305.24,134.00 L306.07,133.86 L306.91,133.74 L307.74,133.65 L308.58,133.59 L309.41,133.57 L310.24,133.57 L311.08,133.62 L311.91,133.69 L312.75,133.80 L313.58,133.93 L314.41,134.09 L315.25,134.26 L316.08,134.45 L316.92,134.64 L317.75,134.50 L318.58,134.32 L319.42,134.15 L320.25,134.01 L321.09,133.88 L321.92,133.78 L322.75,133.71 L323.59,133.67 L324.42,133.66 L325.26,133.69 L326.09,133.76 L326.92,133.85 L327.76,133.97 L328.59,134.12 L329.43,134.29 L330.26,134.47 L331.09,134.65 L331.93,134.63 L332.76,134.44 L333.60,134.25 L334.43,134.08 L335.26,133.93 L336.10,133.81 L336.93,133.71 L337.77,133.65 L338.60,133.61 L339.43,133.62 L340.27,133.65 L341.10,133.72 L341.94,133.82 L342.77,133.95 L343.60,134.09 L344.44,134.26 L345.27,134.43 L346.11,134.57 L346.94,134.37 L347.77,134.18 L348.61,134.00 L349.44,133.84 L350.28,133.71 L351.11,133.60 L351.94,133.52 L352.78,133.48 L353.61,133.47 L354.45,133.49 L355.28,133.55 L356.11,133.63 L356.95,133.75 L357.78,133.89 L358.62,134.05 L359.45,134.22 L360.28,134.40 L361.12,134.32 L361.95,134.14 L362.78,133.97 L363.62,133.81 L364.45,133.68 L365.29,133.57 L366.12,133.50 L366.95,133.45 L367.79,133.44 L368.62,133.46 L369.46,133.52 L370.29,133.61 L371.12,133.72 L371.96,133.87 L372.79,134.03 L373.63,134.21 L374.46,134.40 L375.29,134.46 L376.13,134.27 L376.96,134.09 L377.80,133.92 L378.63,133.78 L379.46,133.66 L380.30,133.58 L381.13,133.53 L381.97,133.51 L382.80,133.53 L383.63,133.59 L384.47,133.68 L385.30,133.80 L386.14,133.95 L386.97,134.12 L387.80,134.31 L388.64,134.51 L389.47,134.49 L390.31,134.31 L391.14,134.14 L391.97,133.98 L392.81,133.84 L393.64,133.73 L394.48,133.65 L395.31,133.60 L396.14,133.58 L396.98,133.60 L397.81,133.65 L398.65,133.73 L399.48,133.84 L400.31,133.98 L401.15,134.13 L401.98,134.30 L402.82,134.47 L403.65,134.59 L404.48,134.39 L405.32,134.21 L406.15,134.03 L406.99,133.88 L407.82,133.75 L408.65,133.64 L409.49,133.57 L410.32,133.53 L411.16,133.52 L411.99,133.55 L412.82,133.61 L413.66,133.70 L414.49,133.82 L415.33,133.96 L416.16,134.12 L416.99,134.30 L417.83,134.48 L418.66,134.36 L419.50,134.18 L420.33,134.01 L421.16,133.85 L422.00,133.70 L422.83,133.59 L423.67,133.50 L424.50,133.44 L425.33,133.41 L426.17,133.41 L427.00,133.45 L427.84,133.51 L428.67,133.61 L429.50,133.73 L430.34,133.87 L431.17,134.02 L432.01,134.19 L432.84,134.37 L433.67,134.25 L434.51,134.06 L435.34,133.89 L436.18,133.73 L437.01,133.59 L437.84,133.47 L438.68,133.39 L439.51,133.33 L440.35,133.30 L441.18,133.32 L442.01,133.38 L442.85,133.46 L443.68,133.57 L444.52,133.70 L445.35,133.86 L446.18,134.03 L447.02,134.22 L447.85,134.41 L448.69,134.33 L449.52,134.19 L450.35,134.05 L451.19,133.93 L452.02,133.82 L452.86,133.72 L453.69,133.63 L454.52,133.57 L455.36,133.52 L456.19,133.50 L457.03,133.50 L457.86,133.52 L458.69,133.56 L459.53,133.62 L460.36,133.70 L461.20,133.80 L462.03,133.91 L462.86,134.04 L463.70,134.18 L464.53,134.44 L465.37,134.88 L466.20,135.60 L466.20,135.60 L465.37,136.30 L464.53,136.72 L463.70,136.96 L462.86,137.09 L462.03,137.20 L461.20,137.29 L460.36,137.37 L459.53,137.43 L458.69,137.48 L457.86,137.50 L457.03,137.50 L456.19,137.47 L455.36,137.43 L454.52,137.37 L453.69,137.28 L452.86,137.18 L452.02,137.06 L451.19,136.93 L450.35,136.78 L449.52,136.63 L448.69,136.47 L447.85,136.37 L447.02,136.55 L446.18,136.71 L445.35,136.86 L444.52,137.00 L443.68,137.12 L442.85,137.21 L442.01,137.27 L441.18,137.30 L440.35,137.30 L439.51,137.28 L438.68,137.23 L437.84,137.16 L437.01,137.05 L436.18,136.93 L435.34,136.78 L434.51,136.62 L433.67,136.45 L432.84,136.34 L432.01,136.53 L431.17,136.71 L430.34,136.88 L429.50,137.03 L428.67,137.16 L427.84,137.27 L427.00,137.35 L426.17,137.39 L425.33,137.41 L424.50,137.39 L423.67,137.35 L422.83,137.27 L422.00,137.17 L421.16,137.04 L420.33,136.89 L419.50,136.73 L418.66,136.56 L417.83,136.46 L416.99,136.65 L416.16,136.84 L415.33,137.01 L414.49,137.16 L413.66,137.30 L412.82,137.40 L411.99,137.47 L411.16,137.51 L410.32,137.52 L409.49,137.49 L408.65,137.43 L407.82,137.34 L406.99,137.22 L406.15,137.07 L405.32,136.91 L404.48,136.74 L403.65,136.56 L402.82,136.68 L401.98,136.87 L401.15,137.05 L400.31,137.22 L399.48,137.35 L398.65,137.45 L397.81,137.53 L396.98,137.57 L396.14,137.58 L395.31,137.55 L394.48,137.50 L393.64,137.41 L392.81,137.29 L391.97,137.14 L391.14,136.98 L390.31,136.79 L389.47,136.60 L388.64,136.58 L387.80,136.77 L386.97,136.95 L386.14,137.11 L385.30,137.25 L384.47,137.37 L383.63,137.45 L382.80,137.50 L381.97,137.51 L381.13,137.49 L380.30,137.43 L379.46,137.33 L378.63,137.21 L377.80,137.06 L376.96,136.88 L376.13,136.69 L375.29,136.50 L374.46,136.54 L373.63,136.73 L372.79,136.90 L371.96,137.05 L371.12,137.19 L370.29,137.30 L369.46,137.38 L368.62,137.42 L367.79,137.44 L366.95,137.42 L366.12,137.37 L365.29,137.28 L364.45,137.17 L363.62,137.02 L362.78,136.86 L361.95,136.68 L361.12,136.50 L360.28,136.40 L359.45,136.59 L358.62,136.78 L357.78,136.96 L356.95,137.11 L356.11,137.24 L355.28,137.35 L354.45,137.42 L353.61,137.46 L352.78,137.47 L351.94,137.44 L351.11,137.38 L350.28,137.29 L349.44,137.17 L348.61,137.03 L347.77,136.87 L346.94,136.69 L346.11,136.51 L345.27,136.66 L344.44,136.85 L343.60,137.04 L342.77,137.20 L341.94,137.34 L341.10,137.46 L340.27,137.54 L339.43,137.59 L338.60,137.61 L337.77,137.60 L336.93,137.55 L336.10,137.47 L335.26,137.36 L334.43,137.23 L333.60,137.07 L332.76,136.91 L331.93,136.73 L331.09,136.73 L330.26,136.93 L329.43,137.10 L328.59,137.26 L327.76,137.40 L326.92,137.51 L326.09,137.59 L325.26,137.64 L324.42,137.66 L323.59,137.65 L322.75,137.60 L321.92,137.52 L321.09,137.40 L320.25,137.27 L319.42,137.10 L318.58,136.93 L317.75,136.74 L316.92,136.58 L316.08,136.76 L315.25,136.94 L314.41,137.10 L313.58,137.25 L312.75,137.37 L311.91,137.47 L311.08,137.53 L310.24,137.56 L309.41,137.56 L308.58,137.52 L307.74,137.45 L306.91,137.35 L306.07,137.22 L305.24,137.07 L304.41,136.90 L303.57,136.72 L302.74,136.52 L301.90,136.59 L301.07,136.77 L300.24,136.93 L299.40,137.12 L298.57,137.30 L297.73,137.45 L296.90,137.58 L296.07,137.68 L295.23,137.75 L294.40,137.79 L293.56,137.80 L292.73,137.77 L291.90,137.72 L291.06,137.64 L290.23,137.54 L289.39,137.42 L288.56,137.29 L287.73,137.15 L286.89,137.27 L286.06,137.49 L285.22,137.69 L284.39,137.82 L283.56,137.92 L282.72,137.99 L281.89,138.04 L281.05,138.07 L280.22,138.07 L279.39,138.04 L278.55,137.98 L277.72,137.90 L276.88,137.79 L276.05,137.65 L275.22,137.49 L274.38,137.32 L273.55,137.13 L272.71,136.92 L271.88,136.72 L271.05,136.69 L270.21,136.82 L269.38,136.98 L268.54,137.16 L267.71,137.31 L266.88,137.45 L266.04,137.57 L265.21,137.66 L264.37,137.73 L263.54,137.77 L262.71,137.79 L261.87,137.77 L261.04,137.74 L260.20,137.67 L259.37,137.59 L258.54,137.49 L257.70,137.36 L256.87,137.12 L256.03,136.69 L255.20,135.99Z" fill="#111" opacity="1.0"/>
<text x="471.00" y="73.00" font-size="7.1" textLength="19.20" lengthAdjust="spacingAndGlyphs" fill="#222" stroke="#222" stroke-width="0.25">Clones</text>
<text x="471.00" y="88.90" font-size="7.1" textLength="30.40" lengthAdjust="spacingAndGlyphs" fill="#222" stroke="#222" stroke-width="0.25">GFP-RPS15</text>
<text x="471.00" y="105.00" font-size="7.1" textLength="11.00" lengthAdjust="spacingAndGlyphs" fill="#222" stroke="#222" stroke-width="0.25">GFP</text>
<text x="471.00" y="118.80" font-size="7.1" textLength="17.70" lengthAdjust="spacingAndGlyphs" fill="#222" stroke="#222" stroke-width="0.25">RPS15</text>
<text x="471.00" y="125.30" font-size="7.1" textLength="39.20" lengthAdjust="spacingAndGlyphs" fill="#222" stroke="#222" stroke-width="0.25">(Endogenous)</text>
<text x="471.5" y="139.0" font-size="7.1" fill="#222" stroke="#222" stroke-width="0.25" textLength="20" lengthAdjust="spacingAndGlyphs"><tspan font-style="italic">β</tspan>-actin</text>
<rect x="254.40" y="204.20" width="213.20" height="14.30" fill="#efefef" stroke="#2b2b2b" stroke-width="1.3"/>
<rect x="255.30" y="205.10" width="211.40" height="12.50" fill="none" stroke="#f6f6f6" stroke-width="0.7"/>
<rect x="254.40" y="222.30" width="213.20" height="13.90" fill="#efefef" stroke="#2b2b2b" stroke-width="1.3"/>
<rect x="255.30" y="223.20" width="211.40" height="12.10" fill="none" stroke="#f6f6f6" stroke-width="0.7"/>
<rect x="254.40" y="239.20" width="213.20" height="11.80" fill="#efefef" stroke="#2b2b2b" stroke-width="1.3"/>
<rect x="255.30" y="240.10" width="211.40" height="10.00" fill="none" stroke="#f6f6f6" stroke-width="0.7"/>
<path d="M257.00,212.00 L257.85,211.28 L258.70,210.85 L259.55,210.62 L260.41,210.50 L261.26,210.39 L262.11,210.31 L262.96,210.24 L263.81,210.20 L264.66,210.18 L265.51,210.18 L266.36,210.21 L267.22,210.27 L268.07,210.34 L268.92,210.44 L269.77,210.55 L270.62,210.68 L271.47,210.81 L272.32,210.96 L273.17,210.91 L274.03,210.78 L274.88,210.66 L275.73,210.54 L276.58,210.44 L277.43,210.34 L278.28,210.26 L279.13,210.20 L279.98,210.16 L280.84,210.13 L281.69,210.13 L282.54,210.14 L283.39,210.17 L284.24,210.22 L285.09,210.29 L285.94,210.38 L286.79,210.47 L287.65,210.58 L288.50,210.79 L289.35,211.20 L290.20,211.90 L290.20,211.90 L289.35,212.61 L288.50,213.02 L287.65,213.23 L286.79,213.35 L285.94,213.45 L285.09,213.54 L284.24,213.61 L283.39,213.67 L282.54,213.71 L281.69,213.72 L280.84,213.72 L279.98,213.70 L279.13,213.66 L278.28,213.61 L277.43,213.53 L276.58,213.44 L275.73,213.34 L274.88,213.23 L274.03,213.11 L273.17,212.99 L272.32,212.95 L271.47,213.10 L270.62,213.24 L269.77,213.37 L268.92,213.49 L268.07,213.59 L267.22,213.67 L266.36,213.73 L265.51,213.77 L264.66,213.78 L263.81,213.76 L262.96,213.72 L262.11,213.66 L261.26,213.58 L260.41,213.48 L259.55,213.36 L258.70,213.14 L257.85,212.71 L257.00,212.00Z" fill="#111" opacity="1.0"/>
<path d="M290.20,211.90 L291.04,211.20 L291.87,210.78 L292.71,210.56 L293.54,210.45 L294.38,210.37 L295.22,210.32 L296.05,210.29 L296.89,210.29 L297.72,210.32 L298.56,210.37 L299.40,210.46 L300.23,210.56 L301.07,210.68 L301.90,210.81 L302.74,210.90 L303.58,210.78 L304.41,210.67 L305.25,210.56 L306.08,210.47 L306.92,210.39 L307.76,210.32 L308.59,210.28 L309.43,210.26 L310.26,210.25 L311.10,210.27 L311.94,210.31 L312.77,210.37 L313.61,210.45 L314.44,210.54 L315.28,210.64 L316.12,210.75 L316.95,210.87 L317.79,210.79 L318.62,210.68 L319.46,210.57 L320.30,210.47 L321.13,210.39 L321.97,210.32 L322.80,210.27 L323.64,210.23 L324.48,210.22 L325.31,210.22 L326.15,210.25 L326.98,210.30 L327.82,210.36 L328.66,210.44 L329.49,210.53 L330.33,210.73 L331.16,211.11 L332.00,211.80 L332.00,211.80 L331.16,212.49 L330.33,212.88 L329.49,213.08 L328.66,213.18 L327.82,213.26 L326.98,213.33 L326.15,213.38 L325.31,213.41 L324.48,213.42 L323.64,213.41 L322.80,213.38 L321.97,213.33 L321.13,213.26 L320.30,213.18 L319.46,213.09 L318.62,212.99 L317.79,212.88 L316.95,212.81 L316.12,212.93 L315.28,213.04 L314.44,213.15 L313.61,213.24 L312.77,213.32 L311.94,213.38 L311.10,213.43 L310.26,213.45 L309.43,213.45 L308.59,213.43 L307.76,213.39 L306.92,213.33 L306.08,213.26 L305.25,213.17 L304.41,213.06 L303.58,212.95 L302.74,212.84 L301.90,212.94 L301.07,213.07 L300.23,213.19 L299.40,213.30 L298.56,213.39 L297.72,213.45 L296.89,213.48 L296.05,213.48 L295.22,213.46 L294.38,213.41 L293.54,213.33 L292.71,213.23 L291.87,213.01 L291.04,212.60 L290.20,211.90Z" fill="#111" opacity="1.0"/>
<path d="M333.00,211.90 Q333.00,210.90 335.00,210.90 L343.30,210.90 Q345.30,210.90 345.30,211.90 Q345.30,212.90 343.30,212.90 L335.00,212.90 Q333.00,212.90 333.00,211.90Z" fill="#111" opacity="0.3" filter="url(#bl)"/>
<path d="M346.00,211.80 L346.84,211.12 L347.68,210.74 L348.51,210.54 L349.35,210.45 L350.19,210.38 L351.03,210.31 L351.86,210.27 L352.70,210.24 L353.54,210.23 L354.38,210.23 L355.22,210.26 L356.05,210.30 L356.89,210.36 L357.73,210.43 L358.57,210.52 L359.41,210.62 L360.24,210.72 L361.08,210.83 L361.92,210.86 L362.76,210.75 L363.59,210.65 L364.43,210.55 L365.27,210.47 L366.11,210.40 L366.95,210.34 L367.78,210.30 L368.62,210.28 L369.46,210.28 L370.30,210.29 L371.14,210.33 L371.97,210.38 L372.81,210.45 L373.65,210.53 L374.49,210.62 L375.32,210.83 L376.16,211.21 L377.00,211.90 L377.00,211.90 L376.16,212.58 L375.32,212.96 L374.49,213.16 L373.65,213.25 L372.81,213.33 L371.97,213.39 L371.14,213.44 L370.30,213.46 L369.46,213.48 L368.62,213.47 L367.78,213.44 L366.95,213.39 L366.11,213.33 L365.27,213.25 L364.43,213.16 L363.59,213.06 L362.76,212.96 L361.92,212.84 L361.08,212.87 L360.24,212.97 L359.41,213.07 L358.57,213.16 L357.73,213.24 L356.89,213.31 L356.05,213.37 L355.22,213.40 L354.38,213.42 L353.54,213.42 L352.70,213.41 L351.86,213.37 L351.03,213.32 L350.19,213.25 L349.35,213.17 L348.51,213.07 L347.68,212.87 L346.84,212.49 L346.00,211.80Z" fill="#111" opacity="1.0"/>
<path d="M377.50,211.90 Q377.50,210.86 379.59,210.86 L386.11,210.86 Q388.20,210.86 388.20,211.90 Q388.20,212.94 386.11,212.94 L379.59,212.94 Q377.50,212.94 377.50,211.90Z" fill="#111" opacity="0.32" filter="url(#bl)"/>
<path d="M389.70,212.00 L390.54,211.12 L391.38,210.63 L392.22,210.38 L393.07,210.26 L393.91,210.15 L394.75,210.07 L395.59,210.02 L396.43,209.99 L397.27,209.98 L398.12,210.01 L398.96,210.06 L399.80,210.13 L400.64,210.22 L401.48,210.34 L402.32,210.47 L403.17,210.60 L404.01,210.75 L404.85,210.63 L405.69,210.49 L406.53,210.36 L407.37,210.24 L408.21,210.13 L409.06,210.05 L409.90,209.99 L410.74,209.95 L411.58,209.95 L412.42,209.97 L413.26,210.01 L414.11,210.08 L414.95,210.17 L415.79,210.28 L416.63,210.40 L417.47,210.54 L418.31,210.68 L419.16,210.63 L420.00,210.49 L420.84,210.35 L421.68,210.23 L422.52,210.12 L423.36,210.03 L424.20,209.96 L425.05,209.92 L425.89,209.91 L426.73,209.92 L427.57,209.96 L428.41,210.02 L429.25,210.11 L430.10,210.22 L430.94,210.35 L431.78,210.50 L432.62,210.65 L433.46,210.69 L434.30,210.56 L435.14,210.44 L435.99,210.33 L436.83,210.24 L437.67,210.16 L438.51,210.10 L439.35,210.06 L440.19,210.05 L441.04,210.06 L441.88,210.10 L442.72,210.16 L443.56,210.24 L444.40,210.35 L445.24,210.47 L446.09,210.60 L446.93,210.75 L447.77,210.90 L448.61,210.89 L449.45,210.78 L450.29,210.67 L451.13,210.57 L451.98,210.48 L452.82,210.40 L453.66,210.34 L454.50,210.30 L455.34,210.28 L456.18,210.28 L457.03,210.30 L457.87,210.34 L458.71,210.39 L459.55,210.47 L460.39,210.56 L461.23,210.67 L462.08,210.79 L462.92,211.04 L463.76,211.53 L464.60,212.40 L464.60,212.40 L463.76,213.25 L462.92,213.71 L462.08,213.93 L461.23,214.03 L460.39,214.11 L459.55,214.18 L458.71,214.24 L457.87,214.27 L457.03,214.28 L456.18,214.28 L455.34,214.25 L454.50,214.21 L453.66,214.14 L452.82,214.06 L451.98,213.96 L451.13,213.84 L450.29,213.72 L449.45,213.58 L448.61,213.45 L447.77,213.41 L446.93,213.54 L446.09,213.66 L445.24,213.77 L444.40,213.87 L443.56,213.95 L442.72,214.01 L441.88,214.04 L441.04,214.06 L440.19,214.04 L439.35,214.01 L438.51,213.95 L437.67,213.86 L436.83,213.76 L435.99,213.64 L435.14,213.51 L434.30,213.36 L433.46,213.21 L432.62,213.22 L431.78,213.35 L430.94,213.47 L430.10,213.59 L429.25,213.69 L428.41,213.78 L427.57,213.85 L426.73,213.89 L425.89,213.91 L425.05,213.90 L424.20,213.86 L423.36,213.80 L422.52,213.72 L421.68,213.62 L420.84,213.50 L420.00,213.36 L419.16,213.22 L418.31,213.18 L417.47,213.32 L416.63,213.46 L415.79,213.59 L414.95,213.71 L414.11,213.80 L413.26,213.87 L412.42,213.92 L411.58,213.94 L410.74,213.94 L409.90,213.91 L409.06,213.86 L408.21,213.78 L407.37,213.68 L406.53,213.56 L405.69,213.43 L404.85,213.29 L404.01,213.18 L403.17,213.33 L402.32,213.47 L401.48,213.60 L400.64,213.72 L399.80,213.82 L398.96,213.90 L398.12,213.95 L397.27,213.98 L396.43,213.98 L395.59,213.95 L394.75,213.90 L393.91,213.83 L393.07,213.73 L392.22,213.61 L391.38,213.36 L390.54,212.87 L389.70,212.00Z" fill="#111" opacity="1.0"/>
<path d="M256.00,231.20 Q256.00,229.94 258.52,229.94 L268.68,229.44 Q271.20,229.44 271.20,230.70 Q271.20,231.96 268.68,231.96 L258.52,232.46 Q256.00,232.46 256.00,231.20Z" fill="#111" opacity="1.0" filter="url(#bl)"/>
<path d="M287.60,230.20 L288.43,229.41 L289.27,228.91 L290.10,228.61 L290.94,228.44 L291.77,228.28 L292.60,228.15 L293.44,228.04 L294.27,227.95 L295.10,227.90 L295.94,227.87 L296.77,227.87 L297.61,227.91 L298.44,227.96 L299.27,228.04 L300.11,228.14 L300.94,228.30 L301.78,228.47 L302.61,228.65 L303.44,228.64 L304.28,228.48 L305.11,228.32 L305.95,228.18 L306.78,228.06 L307.61,227.95 L308.45,227.88 L309.28,227.83 L310.11,227.80 L310.95,227.81 L311.78,227.85 L312.62,227.92 L313.45,228.02 L314.28,228.14 L315.12,228.28 L315.95,228.44 L316.79,228.62 L317.62,228.80 L318.45,228.79 L319.29,228.62 L320.12,228.45 L320.95,228.29 L321.79,228.14 L322.62,228.02 L323.46,227.92 L324.29,227.86 L325.12,227.82 L325.96,227.82 L326.79,227.85 L327.63,227.92 L328.46,228.01 L329.29,228.12 L330.13,228.26 L330.96,228.41 L331.80,228.57 L332.63,228.68 L333.46,228.49 L334.30,228.31 L335.13,228.13 L335.96,227.98 L336.80,227.85 L337.63,227.74 L338.47,227.66 L339.30,227.62 L340.13,227.61 L340.97,227.65 L341.80,227.72 L342.64,227.83 L343.47,227.96 L344.30,228.11 L345.14,228.28 L345.97,228.47 L346.80,228.66 L347.64,228.58 L348.47,228.42 L349.31,228.28 L350.14,228.14 L350.97,228.03 L351.81,227.93 L352.64,227.86 L353.48,227.83 L354.31,227.82 L355.14,227.84 L355.98,227.89 L356.81,227.97 L357.65,228.07 L358.48,228.20 L359.31,228.36 L360.15,228.52 L360.98,228.68 L361.81,228.85 L362.65,228.74 L363.48,228.56 L364.32,228.39 L365.15,228.23 L365.98,228.10 L366.82,227.99 L367.65,227.91 L368.49,227.86 L369.32,227.84 L370.15,227.85 L370.99,227.90 L371.82,227.97 L372.65,228.08 L373.49,228.20 L374.32,228.35 L375.16,228.52 L375.99,228.72 L376.82,228.79 L377.66,228.63 L378.49,228.49 L379.33,228.36 L380.16,228.25 L380.99,228.16 L381.83,228.10 L382.66,228.07 L383.50,228.07 L384.33,228.10 L385.16,228.16 L386.00,228.26 L386.83,228.38 L387.66,228.53 L388.50,228.71 L389.33,229.01 L390.17,229.51 L391.00,230.30 L391.00,230.30 L390.17,231.04 L389.33,231.48 L388.50,231.74 L387.66,231.86 L386.83,231.96 L386.00,232.03 L385.16,232.07 L384.33,232.08 L383.50,232.06 L382.66,232.01 L381.83,231.93 L380.99,231.81 L380.16,231.67 L379.33,231.51 L378.49,231.33 L377.66,231.13 L376.82,230.93 L375.99,230.94 L375.16,231.09 L374.32,231.26 L373.49,231.42 L372.65,231.56 L371.82,231.67 L370.99,231.76 L370.15,231.81 L369.32,231.84 L368.49,231.83 L367.65,231.79 L366.82,231.72 L365.98,231.62 L365.15,231.50 L364.32,231.35 L363.48,231.19 L362.65,231.02 L361.81,230.93 L360.98,231.11 L360.15,231.28 L359.31,231.42 L358.48,231.55 L357.65,231.66 L356.81,231.74 L355.98,231.79 L355.14,231.82 L354.31,231.81 L353.48,231.78 L352.64,231.71 L351.81,231.62 L350.97,231.50 L350.14,231.36 L349.31,231.20 L348.47,231.03 L347.64,230.85 L346.80,230.74 L345.97,230.91 L345.14,231.07 L344.30,231.22 L343.47,231.34 L342.64,231.45 L341.80,231.53 L340.97,231.58 L340.13,231.60 L339.30,231.61 L338.47,231.58 L337.63,231.53 L336.80,231.45 L335.96,231.34 L335.13,231.21 L334.30,231.07 L333.46,230.91 L332.63,230.74 L331.80,230.88 L330.96,231.06 L330.13,231.24 L329.29,231.40 L328.46,231.54 L327.63,231.66 L326.79,231.74 L325.96,231.80 L325.12,231.82 L324.29,231.81 L323.46,231.77 L322.62,231.70 L321.79,231.60 L320.95,231.48 L320.12,231.34 L319.29,231.17 L318.45,230.98 L317.62,230.96 L316.79,231.12 L315.95,231.28 L315.12,231.42 L314.28,231.54 L313.45,231.65 L312.62,231.73 L311.78,231.78 L310.95,231.81 L310.11,231.80 L309.28,231.76 L308.45,231.69 L307.61,231.60 L306.78,231.48 L305.95,231.34 L305.11,231.18 L304.28,231.01 L303.44,230.83 L302.61,230.81 L301.78,230.96 L300.94,231.12 L300.11,231.26 L299.27,231.42 L298.44,231.56 L297.61,231.69 L296.77,231.79 L295.94,231.86 L295.10,231.90 L294.27,231.91 L293.44,231.89 L292.60,231.85 L291.77,231.78 L290.94,231.69 L290.10,231.59 L289.27,231.35 L288.43,230.92 L287.60,230.20Z" fill="#111" opacity="1.0"/>
<path d="M421.50,230.60 Q421.50,229.34 424.02,229.34 L432.48,229.34 Q435.00,229.34 435.00,230.60 Q435.00,231.86 432.48,231.86 L424.02,231.86 Q421.50,231.86 421.50,230.60Z" fill="#111" opacity="1.0" filter="url(#bl)"/>
<path d="M255.80,244.00 L256.63,243.26 L257.47,242.80 L258.30,242.51 L259.14,242.36 L259.97,242.22 L260.81,242.10 L261.64,242.01 L262.48,241.95 L263.31,241.91 L264.15,241.90 L264.98,241.92 L265.82,241.97 L266.65,242.05 L267.49,242.15 L268.32,242.27 L269.16,242.41 L269.99,242.56 L270.83,242.72 L271.66,242.82 L272.50,242.64 L273.33,242.46 L274.17,242.30 L275.00,242.15 L275.84,242.01 L276.67,241.90 L277.51,241.81 L278.34,241.75 L279.18,241.71 L280.01,241.71 L280.85,241.76 L281.68,241.84 L282.52,241.94 L283.35,242.07 L284.19,242.22 L285.02,242.38 L285.86,242.56 L286.69,242.75 L287.53,242.93 L288.36,242.77 L289.20,242.61 L290.03,242.47 L290.87,242.34 L291.70,242.23 L292.54,242.15 L293.37,242.09 L294.21,242.07 L295.04,242.08 L295.88,242.11 L296.71,242.18 L297.55,242.28 L298.38,242.41 L299.22,242.56 L300.05,242.73 L300.89,242.89 L301.72,243.06 L302.56,243.20 L303.39,243.00 L304.23,242.81 L305.06,242.63 L305.90,242.47 L306.73,242.33 L307.57,242.21 L308.40,242.13 L309.23,242.08 L310.07,242.07 L310.90,242.09 L311.74,242.14 L312.57,242.22 L313.41,242.33 L314.24,242.47 L315.08,242.62 L315.91,242.79 L316.75,242.97 L317.58,242.88 L318.42,242.69 L319.25,242.50 L320.09,242.33 L320.92,242.18 L321.76,242.06 L322.59,241.97 L323.43,241.90 L324.26,241.88 L325.10,241.88 L325.93,241.92 L326.77,242.00 L327.60,242.10 L328.44,242.22 L329.27,242.37 L330.11,242.54 L330.94,242.73 L331.78,242.80 L332.61,242.63 L333.45,242.45 L334.28,242.30 L335.12,242.16 L335.95,242.05 L336.79,241.96 L337.62,241.91 L338.46,241.89 L339.29,241.90 L340.13,241.95 L340.96,242.03 L341.80,242.14 L342.63,242.28 L343.47,242.44 L344.30,242.62 L345.14,242.81 L345.97,243.00 L346.81,242.84 L347.64,242.66 L348.48,242.50 L349.31,242.35 L350.15,242.23 L350.98,242.13 L351.82,242.07 L352.65,242.04 L353.49,242.04 L354.32,242.07 L355.16,242.14 L355.99,242.24 L356.83,242.37 L357.66,242.52 L358.50,242.69 L359.33,242.88 L360.17,243.07 L361.00,243.03 L361.83,242.84 L362.67,242.65 L363.50,242.49 L364.34,242.34 L365.17,242.22 L366.01,242.13 L366.84,242.07 L367.68,242.04 L368.51,242.05 L369.35,242.09 L370.18,242.17 L371.02,242.27 L371.85,242.40 L372.69,242.55 L373.52,242.72 L374.36,242.90 L375.19,242.99 L376.03,242.79 L376.86,242.60 L377.70,242.42 L378.53,242.26 L379.37,242.13 L380.20,242.03 L381.04,241.97 L381.87,241.94 L382.71,241.94 L383.54,241.99 L384.38,242.06 L385.21,242.17 L386.05,242.31 L386.88,242.47 L387.72,242.64 L388.55,242.83 L389.39,242.84 L390.22,242.65 L391.06,242.46 L391.89,242.30 L392.73,242.15 L393.56,242.02 L394.40,241.93 L395.23,241.86 L396.07,241.83 L396.90,241.83 L397.74,241.87 L398.57,241.94 L399.41,242.04 L400.24,242.17 L401.08,242.33 L401.91,242.50 L402.75,242.69 L403.58,242.84 L404.42,242.65 L405.25,242.47 L406.09,242.31 L406.92,242.16 L407.76,242.03 L408.59,241.93 L409.43,241.87 L410.26,241.83 L411.10,241.83 L411.93,241.86 L412.77,241.93 L413.60,242.03 L414.43,242.15 L415.27,242.30 L416.10,242.47 L416.94,242.65 L417.77,242.84 L418.61,242.76 L419.44,242.59 L420.28,242.42 L421.11,242.27 L421.95,242.13 L422.78,242.02 L423.62,241.94 L424.45,241.89 L425.29,241.86 L426.12,241.87 L426.96,241.92 L427.79,241.99 L428.63,242.09 L429.46,242.22 L430.30,242.36 L431.13,242.53 L431.97,242.70 L432.80,242.89 L433.64,242.79 L434.47,242.62 L435.31,242.45 L436.14,242.30 L436.98,242.17 L437.81,242.06 L438.65,241.97 L439.48,241.92 L440.32,241.92 L441.15,241.96 L441.99,242.04 L442.82,242.15 L443.66,242.29 L444.49,242.46 L445.33,242.64 L446.16,242.84 L447.00,243.06 L447.83,243.28 L448.67,243.23 L449.50,243.12 L450.34,243.02 L451.17,242.92 L452.01,242.84 L452.84,242.77 L453.68,242.72 L454.51,242.68 L455.35,242.68 L456.18,242.72 L457.02,242.78 L457.85,242.87 L458.69,242.97 L459.52,243.10 L460.36,243.25 L461.19,243.41 L462.03,243.60 L462.86,243.79 L463.70,244.00 L464.53,244.33 L465.37,244.83 L466.20,245.60 L466.20,245.60 L465.37,246.25 L464.53,246.61 L463.70,246.78 L462.86,246.84 L462.03,246.88 L461.19,246.91 L460.36,246.93 L459.52,246.92 L458.69,246.90 L457.85,246.85 L457.02,246.78 L456.18,246.69 L455.35,246.58 L454.51,246.47 L453.68,246.36 L452.84,246.23 L452.01,246.08 L451.17,245.92 L450.34,245.74 L449.50,245.56 L448.67,245.38 L447.83,245.25 L447.00,245.40 L446.16,245.53 L445.33,245.66 L444.49,245.76 L443.66,245.85 L442.82,245.91 L441.99,245.94 L441.15,245.94 L440.32,245.91 L439.48,245.87 L438.65,245.82 L437.81,245.73 L436.98,245.62 L436.14,245.48 L435.31,245.33 L434.47,245.16 L433.64,244.97 L432.80,244.88 L431.97,245.06 L431.13,245.23 L430.30,245.39 L429.46,245.53 L428.63,245.65 L427.79,245.75 L426.96,245.82 L426.12,245.86 L425.29,245.86 L424.45,245.84 L423.62,245.78 L422.78,245.69 L421.95,245.58 L421.11,245.44 L420.28,245.28 L419.44,245.11 L418.61,244.93 L417.77,244.85 L416.94,245.03 L416.10,245.21 L415.27,245.37 L414.43,245.52 L413.60,245.64 L412.77,245.73 L411.93,245.80 L411.10,245.82 L410.26,245.82 L409.43,245.78 L408.59,245.71 L407.76,245.61 L406.92,245.48 L406.09,245.32 L405.25,245.15 L404.42,244.97 L403.58,244.78 L402.75,244.93 L401.91,245.11 L401.08,245.28 L400.24,245.43 L399.41,245.57 L398.57,245.68 L397.74,245.76 L396.90,245.81 L396.07,245.83 L395.23,245.81 L394.40,245.76 L393.56,245.68 L392.73,245.56 L391.89,245.43 L391.06,245.27 L390.22,245.10 L389.39,244.92 L388.55,244.94 L387.72,245.14 L386.88,245.33 L386.05,245.50 L385.21,245.65 L384.38,245.77 L383.54,245.86 L382.71,245.92 L381.87,245.94 L381.04,245.92 L380.20,245.86 L379.37,245.78 L378.53,245.66 L377.70,245.51 L376.86,245.35 L376.03,245.17 L375.19,244.98 L374.36,245.09 L373.52,245.28 L372.69,245.46 L371.85,245.62 L371.02,245.76 L370.18,245.88 L369.35,245.97 L368.51,246.02 L367.68,246.04 L366.84,246.03 L366.01,245.98 L365.17,245.90 L364.34,245.79 L363.50,245.66 L362.67,245.51 L361.83,245.34 L361.00,245.16 L360.17,245.12 L359.33,245.31 L358.50,245.48 L357.66,245.63 L356.83,245.77 L355.99,245.88 L355.16,245.96 L354.32,246.02 L353.49,246.03 L352.65,246.02 L351.82,245.97 L350.98,245.89 L350.15,245.77 L349.31,245.63 L348.48,245.47 L347.64,245.29 L346.81,245.10 L345.97,244.92 L345.14,245.10 L344.30,245.27 L343.47,245.43 L342.63,245.58 L341.80,245.70 L340.96,245.79 L340.13,245.85 L339.29,245.89 L338.46,245.88 L337.62,245.85 L336.79,245.77 L335.95,245.67 L335.12,245.54 L334.28,245.39 L333.45,245.21 L332.61,245.03 L331.78,244.83 L330.94,244.89 L330.11,245.06 L329.27,245.25 L328.44,245.42 L327.60,245.57 L326.77,245.69 L325.93,245.79 L325.10,245.85 L324.26,245.88 L323.43,245.87 L322.59,245.83 L321.76,245.76 L320.92,245.66 L320.09,245.53 L319.25,245.39 L318.42,245.22 L317.58,245.05 L316.75,244.98 L315.91,245.18 L315.08,245.37 L314.24,245.55 L313.41,245.71 L312.57,245.84 L311.74,245.95 L310.90,246.02 L310.07,246.06 L309.23,246.07 L308.40,246.04 L307.57,245.98 L306.73,245.89 L305.90,245.78 L305.06,245.64 L304.23,245.48 L303.39,245.31 L302.56,245.13 L301.72,245.30 L300.89,245.49 L300.05,245.66 L299.22,245.80 L298.38,245.91 L297.55,245.99 L296.71,246.05 L295.88,246.08 L295.04,246.08 L294.21,246.04 L293.37,245.97 L292.54,245.88 L291.70,245.75 L290.87,245.60 L290.03,245.43 L289.20,245.25 L288.36,245.05 L287.53,244.84 L286.69,244.98 L285.86,245.13 L285.02,245.27 L284.19,245.39 L283.35,245.50 L282.52,245.58 L281.68,245.65 L280.85,245.68 L280.01,245.70 L279.18,245.71 L278.34,245.69 L277.51,245.65 L276.67,245.58 L275.84,245.49 L275.00,245.38 L274.17,245.25 L273.33,245.10 L272.50,244.95 L271.66,244.79 L270.83,244.90 L269.99,245.09 L269.16,245.26 L268.32,245.42 L267.49,245.56 L266.65,245.68 L265.82,245.78 L264.98,245.85 L264.15,245.89 L263.31,245.90 L262.48,245.89 L261.64,245.84 L260.81,245.77 L259.97,245.68 L259.14,245.56 L258.30,245.42 L257.47,245.16 L256.63,244.72 L255.80,244.00Z" fill="#111" opacity="1.0"/>
<text x="471.50" y="200.80" font-size="7.1" textLength="18.60" lengthAdjust="spacingAndGlyphs" fill="#222" stroke="#222" stroke-width="0.25">Clones</text>
<text x="471.50" y="215.20" font-size="7.1" textLength="29.70" lengthAdjust="spacingAndGlyphs" fill="#222" stroke="#222" stroke-width="0.25">GFP-RPS15</text>
<text x="471.50" y="227.70" font-size="7.1" textLength="16.80" lengthAdjust="spacingAndGlyphs" fill="#222" stroke="#222" stroke-width="0.25">RPS15</text>
<text x="471.50" y="234.60" font-size="7.1" textLength="38.50" lengthAdjust="spacingAndGlyphs" fill="#222" stroke="#222" stroke-width="0.25">(Endogenous)</text>
<text x="472.3" y="247.3" font-size="7.1" fill="#222" stroke="#222" stroke-width="0.25" textLength="19.8" lengthAdjust="spacingAndGlyphs"><tspan font-style="italic">β</tspan>-actin</text>
<rect x="44.90" y="142.00" width="10.70" height="89.30" fill="#2b4a85"/>
<text x="50.25" y="137.40" font-size="5.2" text-anchor="middle" fill="#222" stroke="#222" stroke-width="0.1">18</text>
<rect x="58.80" y="142.00" width="10.70" height="89.30" fill="#2b4a85"/>
<rect x="58.80" y="142.00" width="10.70" height="89.30" fill="#a3002b"/>
<text x="64.15" y="137.40" font-size="5.2" text-anchor="middle" fill="#222" stroke="#222" stroke-width="0.1">24</text>
<rect x="72.70" y="142.00" width="10.70" height="89.30" fill="#2b4a85"/>
<rect x="72.70" y="208.26" width="10.70" height="23.04" fill="#a3002b"/>
<text x="78.05" y="137.40" font-size="5.2" text-anchor="middle" fill="#222" stroke="#222" stroke-width="0.1">8</text>
<rect x="86.60" y="142.00" width="10.70" height="89.30" fill="#2b4a85"/>
<rect x="86.60" y="192.01" width="10.70" height="39.29" fill="#a3002b"/>
<text x="91.95" y="137.40" font-size="5.2" text-anchor="middle" fill="#222" stroke="#222" stroke-width="0.1">7</text>
<rect x="100.50" y="142.00" width="10.70" height="89.30" fill="#2b4a85"/>
<text x="105.85" y="137.40" font-size="5.2" text-anchor="middle" fill="#222" stroke="#222" stroke-width="0.1">21</text>
<rect x="114.40" y="142.00" width="10.70" height="89.30" fill="#2b4a85"/>
<rect x="114.40" y="227.73" width="10.70" height="3.57" fill="#a3002b"/>
<text x="119.75" y="137.40" font-size="5.2" text-anchor="middle" fill="#222" stroke="#222" stroke-width="0.1">27</text>
<rect x="128.30" y="142.00" width="10.70" height="89.30" fill="#2b4a85"/>
<text x="133.65" y="137.40" font-size="5.2" text-anchor="middle" fill="#222" stroke="#222" stroke-width="0.1">13</text>
<rect x="142.20" y="142.00" width="10.70" height="89.30" fill="#2b4a85"/>
<text x="147.55" y="137.40" font-size="5.2" text-anchor="middle" fill="#222" stroke="#222" stroke-width="0.1">25</text>
<rect x="156.10" y="142.00" width="10.70" height="89.30" fill="#2b4a85"/>
<rect x="156.10" y="156.29" width="10.70" height="75.01" fill="#a3002b"/>
<text x="161.45" y="137.40" font-size="5.2" text-anchor="middle" fill="#222" stroke="#222" stroke-width="0.1">6</text>
<rect x="170.00" y="142.00" width="10.70" height="89.30" fill="#2b4a85"/>
<rect x="170.00" y="161.65" width="10.70" height="69.65" fill="#a3002b"/>
<text x="175.35" y="137.40" font-size="5.2" text-anchor="middle" fill="#222" stroke="#222" stroke-width="0.1">22</text>
<text x="182.60" y="137.40" font-size="5.0" fill="#222" stroke="#222" stroke-width="0.1">(n)</text>
<line x1="41.20" y1="138.90" x2="41.20" y2="232.30" stroke="#1a1a1a" stroke-width="1.4"/>
<line x1="40.50" y1="231.60" x2="185.30" y2="231.60" stroke="#1a1a1a" stroke-width="1.4"/>
<line x1="37.80" y1="231.30" x2="41.20" y2="231.30" stroke="#1a1a1a" stroke-width="1.1"/>
<text x="34.50" y="233.50" font-size="6.4" text-anchor="end" fill="#222" stroke="#222" stroke-width="0.28">0</text>
<line x1="37.80" y1="213.44" x2="41.20" y2="213.44" stroke="#1a1a1a" stroke-width="1.1"/>
<text x="34.50" y="215.64" font-size="6.4" text-anchor="end" textLength="6.50" lengthAdjust="spacingAndGlyphs" fill="#222" stroke="#222" stroke-width="0.28">20</text>
<line x1="37.80" y1="195.58" x2="41.20" y2="195.58" stroke="#1a1a1a" stroke-width="1.1"/>
<text x="34.50" y="197.78" font-size="6.4" text-anchor="end" textLength="6.50" lengthAdjust="spacingAndGlyphs" fill="#222" stroke="#222" stroke-width="0.28">40</text>
<line x1="37.80" y1="177.72" x2="41.20" y2="177.72" stroke="#1a1a1a" stroke-width="1.1"/>
<text x="34.50" y="179.92" font-size="6.4" text-anchor="end" textLength="6.50" lengthAdjust="spacingAndGlyphs" fill="#222" stroke="#222" stroke-width="0.28">60</text>
<line x1="37.80" y1="159.86" x2="41.20" y2="159.86" stroke="#1a1a1a" stroke-width="1.1"/>
<text x="34.50" y="162.06" font-size="6.4" text-anchor="end" textLength="6.50" lengthAdjust="spacingAndGlyphs" fill="#222" stroke="#222" stroke-width="0.28">80</text>
<line x1="37.80" y1="142.00" x2="41.20" y2="142.00" stroke="#1a1a1a" stroke-width="1.1"/>
<text x="34.50" y="144.20" font-size="6.4" text-anchor="end" textLength="9.10" lengthAdjust="spacingAndGlyphs" fill="#222" stroke="#222" stroke-width="0.28">100</text>
<line x1="50.25" y1="231.60" x2="50.25" y2="235.00" stroke="#1a1a1a" stroke-width="1.1"/>
<line x1="64.15" y1="231.60" x2="64.15" y2="235.00" stroke="#1a1a1a" stroke-width="1.1"/>
<line x1="78.05" y1="231.60" x2="78.05" y2="235.00" stroke="#1a1a1a" stroke-width="1.1"/>
<line x1="91.95" y1="231.60" x2="91.95" y2="235.00" stroke="#1a1a1a" stroke-width="1.1"/>
<line x1="105.85" y1="231.60" x2="105.85" y2="235.00" stroke="#1a1a1a" stroke-width="1.1"/>
<line x1="119.75" y1="231.60" x2="119.75" y2="235.00" stroke="#1a1a1a" stroke-width="1.1"/>
<line x1="133.65" y1="231.60" x2="133.65" y2="235.00" stroke="#1a1a1a" stroke-width="1.1"/>
<line x1="147.55" y1="231.60" x2="147.55" y2="235.00" stroke="#1a1a1a" stroke-width="1.1"/>
<line x1="161.45" y1="231.60" x2="161.45" y2="235.00" stroke="#1a1a1a" stroke-width="1.1"/>
<line x1="175.35" y1="231.60" x2="175.35" y2="235.00" stroke="#1a1a1a" stroke-width="1.1"/>
<g transform="translate(18.5,220.0) rotate(-90)" fill="#1a1a1a" stroke="#1a1a1a" stroke-width="0.25"><text x="0" y="0" font-size="8.3" textLength="22" lengthAdjust="spacingAndGlyphs">RPS15</text><text x="25.1" y="-3.6" font-size="4.6" textLength="5.5" lengthAdjust="spacingAndGlyphs" stroke-width="0.12">-/-</text><text x="32.5" y="0" font-size="8.3" textLength="23.5" lengthAdjust="spacingAndGlyphs">clones</text><text x="58.1" y="0" font-size="8.3" textLength="12" lengthAdjust="spacingAndGlyphs">(%)</text></g>
<rect x="188.10" y="177.50" width="5.70" height="5.40" fill="#2b4a85"/>
<rect x="188.10" y="188.00" width="5.70" height="5.50" fill="#a3002b"/>
<text x="197.00" y="183.60" font-size="6.2" textLength="14.10" lengthAdjust="spacingAndGlyphs" fill="#222" stroke="#222" stroke-width="0.15">RPS15</text>
<text x="212.90" y="179.60" font-size="3.2" textLength="12.10" lengthAdjust="spacingAndGlyphs" fill="#333" stroke="#333" stroke-width="0.06">+/+ or +/-</text>
<text x="197.00" y="194.20" font-size="6.2" textLength="14.10" lengthAdjust="spacingAndGlyphs" fill="#222" stroke="#222" stroke-width="0.15">RPS15</text>
<text x="212.90" y="190.20" font-size="3.2" textLength="2.60" lengthAdjust="spacingAndGlyphs" fill="#333" stroke="#333" stroke-width="0.06">-/-</text>
<g transform="translate(53.25,241.6) rotate(-45)" fill="#1a1a1a" stroke="#1a1a1a" stroke-width="0.15"><text x="0" y="0" font-size="7.6" text-anchor="end" textLength="14.5" lengthAdjust="spacingAndGlyphs">EGFP</text></g>
<g transform="translate(67.15,241.6) rotate(-45)" fill="#1a1a1a" stroke="#1a1a1a" stroke-width="0.15"><text x="-6.51" y="0" font-size="7.6" text-anchor="end" textLength="29.3" lengthAdjust="spacingAndGlyphs">GFP-RPS15</text><text x="-6.01" y="-2.6" font-size="4.2" textLength="6.01" lengthAdjust="spacingAndGlyphs" stroke-width="0.18">WT</text></g>
<g transform="translate(81.05,241.6) rotate(-45)" fill="#1a1a1a" stroke="#1a1a1a" stroke-width="0.15"><text x="-12.10" y="0" font-size="7.6" text-anchor="end" textLength="29.3" lengthAdjust="spacingAndGlyphs">GFP-RPS15</text><text x="-11.60" y="-2.6" font-size="4.2" textLength="11.60" lengthAdjust="spacingAndGlyphs" stroke-width="0.18">P131S</text></g>
<g transform="translate(94.95,241.6) rotate(-45)" fill="#1a1a1a" stroke="#1a1a1a" stroke-width="0.15"><text x="-12.53" y="0" font-size="7.6" text-anchor="end" textLength="29.3" lengthAdjust="spacingAndGlyphs">GFP-RPS15</text><text x="-12.03" y="-2.6" font-size="4.2" textLength="12.03" lengthAdjust="spacingAndGlyphs" stroke-width="0.18">G132S</text></g>
<g transform="translate(108.85,241.6) rotate(-45)" fill="#1a1a1a" stroke="#1a1a1a" stroke-width="0.15"><text x="-12.74" y="0" font-size="7.6" text-anchor="end" textLength="29.3" lengthAdjust="spacingAndGlyphs">GFP-RPS15</text><text x="-12.24" y="-2.6" font-size="4.2" textLength="12.24" lengthAdjust="spacingAndGlyphs" stroke-width="0.18">G134R</text></g>
<g transform="translate(122.75,241.6) rotate(-45)" fill="#1a1a1a" stroke="#1a1a1a" stroke-width="0.15"><text x="-11.88" y="0" font-size="7.6" text-anchor="end" textLength="29.3" lengthAdjust="spacingAndGlyphs">GFP-RPS15</text><text x="-11.38" y="-2.6" font-size="4.2" textLength="11.38" lengthAdjust="spacingAndGlyphs" stroke-width="0.18">T136A</text></g>
<g transform="translate(136.65,241.6) rotate(-45)" fill="#1a1a1a" stroke="#1a1a1a" stroke-width="0.15"><text x="-12.31" y="0" font-size="7.6" text-anchor="end" textLength="29.3" lengthAdjust="spacingAndGlyphs">GFP-RPS15</text><text x="-11.81" y="-2.6" font-size="4.2" textLength="11.81" lengthAdjust="spacingAndGlyphs" stroke-width="0.18">H137Y</text></g>
<g transform="translate(150.55,241.6) rotate(-45)" fill="#1a1a1a" stroke="#1a1a1a" stroke-width="0.15"><text x="-11.88" y="0" font-size="7.6" text-anchor="end" textLength="29.3" lengthAdjust="spacingAndGlyphs">GFP-RPS15</text><text x="-11.38" y="-2.6" font-size="4.2" textLength="11.38" lengthAdjust="spacingAndGlyphs" stroke-width="0.18">S138F</text></g>
<g transform="translate(164.45,241.6) rotate(-45)" fill="#1a1a1a" stroke="#1a1a1a" stroke-width="0.15"><text x="-11.88" y="0" font-size="7.6" text-anchor="end" textLength="29.3" lengthAdjust="spacingAndGlyphs">GFP-RPS15</text><text x="-11.38" y="-2.6" font-size="4.2" textLength="11.38" lengthAdjust="spacingAndGlyphs" stroke-width="0.18">S139F</text></g>
<g transform="translate(178.35,241.6) rotate(-45)" fill="#1a1a1a" stroke="#1a1a1a" stroke-width="0.15"><text x="-12.31" y="0" font-size="7.6" text-anchor="end" textLength="29.3" lengthAdjust="spacingAndGlyphs">GFP-RPS15</text><text x="-11.81" y="-2.6" font-size="4.2" textLength="11.81" lengthAdjust="spacingAndGlyphs" stroke-width="0.18">K145N</text></g>
<line x1="40.80" y1="297.70" x2="40.80" y2="397.20" stroke="#1a1a1a" stroke-width="1.3"/>
<line x1="40.30" y1="396.60" x2="145.60" y2="396.60" stroke="#1a1a1a" stroke-width="1.3"/>
<line x1="36.90" y1="396.30" x2="40.80" y2="396.30" stroke="#1a1a1a" stroke-width="1.0"/>
<text x="35.10" y="398.40" font-size="6.0" text-anchor="end" textLength="8.20" lengthAdjust="spacingAndGlyphs" fill="#222" stroke="#222" stroke-width="0.28">0.0</text>
<line x1="36.90" y1="380.25" x2="40.80" y2="380.25" stroke="#1a1a1a" stroke-width="1.0"/>
<text x="35.10" y="382.35" font-size="6.0" text-anchor="end" textLength="8.20" lengthAdjust="spacingAndGlyphs" fill="#222" stroke="#222" stroke-width="0.28">0.5</text>
<line x1="36.90" y1="364.20" x2="40.80" y2="364.20" stroke="#1a1a1a" stroke-width="1.0"/>
<text x="35.10" y="366.30" font-size="6.0" text-anchor="end" textLength="8.20" lengthAdjust="spacingAndGlyphs" fill="#222" stroke="#222" stroke-width="0.28">1.0</text>
<line x1="36.90" y1="348.15" x2="40.80" y2="348.15" stroke="#1a1a1a" stroke-width="1.0"/>
<text x="35.10" y="350.25" font-size="6.0" text-anchor="end" textLength="8.20" lengthAdjust="spacingAndGlyphs" fill="#222" stroke="#222" stroke-width="0.28">1.5</text>
<line x1="36.90" y1="332.10" x2="40.80" y2="332.10" stroke="#1a1a1a" stroke-width="1.0"/>
<text x="35.10" y="334.20" font-size="6.0" text-anchor="end" textLength="8.20" lengthAdjust="spacingAndGlyphs" fill="#222" stroke="#222" stroke-width="0.28">2.0</text>
<line x1="36.90" y1="316.05" x2="40.80" y2="316.05" stroke="#1a1a1a" stroke-width="1.0"/>
<text x="35.10" y="318.15" font-size="6.0" text-anchor="end" textLength="8.20" lengthAdjust="spacingAndGlyphs" fill="#222" stroke="#222" stroke-width="0.28">2.5</text>
<line x1="36.90" y1="300.00" x2="40.80" y2="300.00" stroke="#1a1a1a" stroke-width="1.0"/>
<text x="35.10" y="302.10" font-size="6.0" text-anchor="end" textLength="8.20" lengthAdjust="spacingAndGlyphs" fill="#222" stroke="#222" stroke-width="0.28">3.0</text>
<line x1="40.80" y1="396.60" x2="40.80" y2="399.70" stroke="#1a1a1a" stroke-width="1.0"/>
<text x="40.80" y="408.20" font-size="6.2" text-anchor="middle" fill="#222" stroke="#222" stroke-width="0.28">0</text>
<line x1="66.13" y1="396.60" x2="66.13" y2="399.70" stroke="#1a1a1a" stroke-width="1.0"/>
<text x="66.13" y="408.20" font-size="6.2" text-anchor="middle" textLength="7.00" lengthAdjust="spacingAndGlyphs" fill="#222" stroke="#222" stroke-width="0.28">24</text>
<line x1="91.46" y1="396.60" x2="91.46" y2="399.70" stroke="#1a1a1a" stroke-width="1.0"/>
<text x="91.46" y="408.20" font-size="6.2" text-anchor="middle" textLength="7.00" lengthAdjust="spacingAndGlyphs" fill="#222" stroke="#222" stroke-width="0.28">48</text>
<line x1="116.79" y1="396.60" x2="116.79" y2="399.70" stroke="#1a1a1a" stroke-width="1.0"/>
<text x="116.79" y="408.20" font-size="6.2" text-anchor="middle" textLength="7.00" lengthAdjust="spacingAndGlyphs" fill="#222" stroke="#222" stroke-width="0.28">72</text>
<line x1="142.12" y1="396.60" x2="142.12" y2="399.70" stroke="#1a1a1a" stroke-width="1.0"/>
<text x="142.12" y="408.20" font-size="6.2" text-anchor="middle" textLength="7.00" lengthAdjust="spacingAndGlyphs" fill="#222" stroke="#222" stroke-width="0.28">96</text>
<text x="78.80" y="420.40" font-size="8.2" textLength="29.20" lengthAdjust="spacingAndGlyphs" fill="#222" stroke="#222" stroke-width="0.28">Time (h)</text>
<text x="73.20" y="293.20" font-size="8.2" textLength="39.60" lengthAdjust="spacingAndGlyphs" fill="#222" stroke="#222" stroke-width="0.28">+ SgRNA Ø</text>
<text transform="translate(20.00,392.20) rotate(-90)" font-size="7.9" fill="#222" stroke="#222" stroke-width="0.28" textLength="90.6" lengthAdjust="spacingAndGlyphs">Relative cell proliferation</text>
<path d="M40.80,393.09 L66.13,388.28 L91.46,376.40 L116.79,355.21 L142.12,328.25" fill="none" stroke="#c6c6c6" stroke-width="1.2" stroke-linejoin="round"/>
<path d="M40.80,392.45V393.73M39.30,392.45H42.30M39.30,393.73H42.30" stroke="#c6c6c6" stroke-width="0.8" fill="none"/>
<path d="M66.13,386.99V389.56M64.63,386.99H67.63M64.63,389.56H67.63" stroke="#c6c6c6" stroke-width="0.8" fill="none"/>
<path d="M91.46,374.79V378.00M89.96,374.79H92.96M89.96,378.00H92.96" stroke="#c6c6c6" stroke-width="0.8" fill="none"/>
<path d="M116.79,352.00V358.42M115.29,352.00H118.29M115.29,358.42H118.29" stroke="#c6c6c6" stroke-width="0.8" fill="none"/>
<path d="M142.12,324.40V332.10M140.62,324.40H143.62M140.62,332.10H143.62" stroke="#c6c6c6" stroke-width="0.8" fill="none"/>
<path d="M38.65,393.09H42.95M40.80,390.94V395.24" stroke="#c6c6c6" stroke-width="0.9"/>
<path d="M63.98,388.28H68.28M66.13,386.13V390.43" stroke="#c6c6c6" stroke-width="0.9"/>
<path d="M89.31,376.40H93.61M91.46,374.25V378.55" stroke="#c6c6c6" stroke-width="0.9"/>
<path d="M114.64,355.21H118.94M116.79,353.06V357.36" stroke="#c6c6c6" stroke-width="0.9"/>
<path d="M139.97,328.25H144.27M142.12,326.10V330.40" stroke="#c6c6c6" stroke-width="0.9"/>
<path d="M40.80,393.09 L66.13,388.28 L91.46,377.04 L116.79,356.50 L142.12,329.53" fill="none" stroke="#8c86cc" stroke-width="1.2" stroke-linejoin="round"/>
<path d="M40.80,392.45V393.73M39.30,392.45H42.30M39.30,393.73H42.30" stroke="#8c86cc" stroke-width="0.8" fill="none"/>
<path d="M66.13,385.71V390.84M64.63,385.71H67.63M64.63,390.84H67.63" stroke="#8c86cc" stroke-width="0.8" fill="none"/>
<path d="M91.46,373.19V380.89M89.96,373.19H92.96M89.96,380.89H92.96" stroke="#8c86cc" stroke-width="0.8" fill="none"/>
<path d="M116.79,345.26V367.73M115.29,345.26H118.29M115.29,367.73H118.29" stroke="#8c86cc" stroke-width="0.8" fill="none"/>
<path d="M142.12,322.47V336.59M140.62,322.47H143.62M140.62,336.59H143.62" stroke="#8c86cc" stroke-width="0.8" fill="none"/>
<path d="M40.80,390.51L42.95,393.09L40.80,395.67L38.65,393.09Z" fill="#8c86cc"/>
<path d="M66.13,385.70L68.28,388.28L66.13,390.86L63.98,388.28Z" fill="#8c86cc"/>
<path d="M91.46,374.46L93.61,377.04L91.46,379.62L89.31,377.04Z" fill="#8c86cc"/>
<path d="M116.79,353.92L118.94,356.50L116.79,359.08L114.64,356.50Z" fill="#8c86cc"/>
<path d="M142.12,326.95L144.27,329.53L142.12,332.11L139.97,329.53Z" fill="#8c86cc"/>
<path d="M40.80,393.09 L66.13,387.95 L91.46,376.40 L116.79,354.57 L142.12,326.96" fill="none" stroke="#3c1f6c" stroke-width="1.2" stroke-linejoin="round"/>
<path d="M40.80,392.45V393.73M39.30,392.45H42.30M39.30,393.73H42.30" stroke="#3c1f6c" stroke-width="0.8" fill="none"/>
<path d="M66.13,386.67V389.24M64.63,386.67H67.63M64.63,389.24H67.63" stroke="#3c1f6c" stroke-width="0.8" fill="none"/>
<path d="M91.46,374.79V378.00M89.96,374.79H92.96M89.96,378.00H92.96" stroke="#3c1f6c" stroke-width="0.8" fill="none"/>
<path d="M116.79,351.36V357.78M115.29,351.36H118.29M115.29,357.78H118.29" stroke="#3c1f6c" stroke-width="0.8" fill="none"/>
<path d="M142.12,323.11V330.82M140.62,323.11H143.62M140.62,330.82H143.62" stroke="#3c1f6c" stroke-width="0.8" fill="none"/>
<path d="M38.43,394.81L43.16,394.81L40.80,390.73Z" fill="#3c1f6c"/>
<path d="M63.76,389.67L68.49,389.67L66.13,385.59Z" fill="#3c1f6c"/>
<path d="M89.09,378.12L93.82,378.12L91.46,374.03Z" fill="#3c1f6c"/>
<path d="M114.42,356.29L119.15,356.29L116.79,352.20Z" fill="#3c1f6c"/>
<path d="M139.75,328.68L144.49,328.68L142.12,324.60Z" fill="#3c1f6c"/>
<path d="M40.80,393.09 L66.13,387.63 L91.46,376.08 L116.79,350.72 L142.12,323.75" fill="none" stroke="#b0102d" stroke-width="1.2" stroke-linejoin="round"/>
<path d="M40.80,392.45V393.73M39.30,392.45H42.30M39.30,393.73H42.30" stroke="#b0102d" stroke-width="0.8" fill="none"/>
<path d="M66.13,386.35V388.92M64.63,386.35H67.63M64.63,388.92H67.63" stroke="#b0102d" stroke-width="0.8" fill="none"/>
<path d="M91.46,374.47V377.68M89.96,374.47H92.96M89.96,377.68H92.96" stroke="#b0102d" stroke-width="0.8" fill="none"/>
<path d="M116.79,347.51V353.93M115.29,347.51H118.29M115.29,353.93H118.29" stroke="#b0102d" stroke-width="0.8" fill="none"/>
<path d="M142.12,318.94V328.57M140.62,318.94H143.62M140.62,328.57H143.62" stroke="#b0102d" stroke-width="0.8" fill="none"/>
<rect x="38.86" y="391.16" width="3.87" height="3.87" fill="#b0102d"/>
<rect x="64.19" y="385.70" width="3.87" height="3.87" fill="#b0102d"/>
<rect x="89.52" y="374.14" width="3.87" height="3.87" fill="#b0102d"/>
<rect x="114.85" y="348.78" width="3.87" height="3.87" fill="#b0102d"/>
<rect x="140.19" y="321.82" width="3.87" height="3.87" fill="#b0102d"/>
<path d="M40.80,393.09 L66.13,387.95 L91.46,378.32 L116.79,352.64 L142.12,320.54" fill="none" stroke="#e88a17" stroke-width="1.2" stroke-linejoin="round"/>
<path d="M40.80,392.45V393.73M39.30,392.45H42.30M39.30,393.73H42.30" stroke="#e88a17" stroke-width="0.8" fill="none"/>
<path d="M66.13,386.35V389.56M64.63,386.35H67.63M64.63,389.56H67.63" stroke="#e88a17" stroke-width="0.8" fill="none"/>
<path d="M91.46,375.11V381.53M89.96,375.11H92.96M89.96,381.53H92.96" stroke="#e88a17" stroke-width="0.8" fill="none"/>
<path d="M116.79,348.79V356.50M115.29,348.79H118.29M115.29,356.50H118.29" stroke="#e88a17" stroke-width="0.8" fill="none"/>
<path d="M142.12,315.73V325.36M140.62,315.73H143.62M140.62,325.36H143.62" stroke="#e88a17" stroke-width="0.8" fill="none"/>
<circle cx="40.80" cy="393.09" r="2.26" fill="#e88a17"/>
<circle cx="66.13" cy="387.95" r="2.26" fill="#e88a17"/>
<circle cx="91.46" cy="378.32" r="2.26" fill="#e88a17"/>
<circle cx="116.79" cy="352.64" r="2.26" fill="#e88a17"/>
<circle cx="142.12" cy="320.54" r="2.26" fill="#e88a17"/>
<path d="M40.80,393.09 L66.13,387.95 L91.46,376.40 L116.79,349.75 L142.12,325.68" fill="none" stroke="#5cb040" stroke-width="1.2" stroke-linejoin="round"/>
<path d="M40.80,392.45V393.73M39.30,392.45H42.30M39.30,393.73H42.30" stroke="#5cb040" stroke-width="0.8" fill="none"/>
<path d="M66.13,386.67V389.24M64.63,386.67H67.63M64.63,389.24H67.63" stroke="#5cb040" stroke-width="0.8" fill="none"/>
<path d="M91.46,374.79V378.00M89.96,374.79H92.96M89.96,378.00H92.96" stroke="#5cb040" stroke-width="0.8" fill="none"/>
<path d="M116.79,346.55V352.97M115.29,346.55H118.29M115.29,352.97H118.29" stroke="#5cb040" stroke-width="0.8" fill="none"/>
<path d="M142.12,319.90V331.46M140.62,319.90H143.62M140.62,331.46H143.62" stroke="#5cb040" stroke-width="0.8" fill="none"/>
<rect x="38.86" y="391.16" width="3.87" height="3.87" fill="#5cb040"/>
<rect x="64.19" y="386.02" width="3.87" height="3.87" fill="#5cb040"/>
<rect x="89.52" y="374.46" width="3.87" height="3.87" fill="#5cb040"/>
<rect x="114.85" y="347.82" width="3.87" height="3.87" fill="#5cb040"/>
<rect x="140.19" y="323.75" width="3.87" height="3.87" fill="#5cb040"/>
<path d="M40.80,393.09 L66.13,387.63 L91.46,375.76 L116.79,348.15 L142.12,312.20" fill="none" stroke="#1f5a47" stroke-width="1.2" stroke-linejoin="round"/>
<path d="M40.80,392.45V393.73M39.30,392.45H42.30M39.30,393.73H42.30" stroke="#1f5a47" stroke-width="0.8" fill="none"/>
<path d="M66.13,386.03V389.24M64.63,386.03H67.63M64.63,389.24H67.63" stroke="#1f5a47" stroke-width="0.8" fill="none"/>
<path d="M91.46,374.15V377.36M89.96,374.15H92.96M89.96,377.36H92.96" stroke="#1f5a47" stroke-width="0.8" fill="none"/>
<path d="M116.79,344.94V351.36M115.29,344.94H118.29M115.29,351.36H118.29" stroke="#1f5a47" stroke-width="0.8" fill="none"/>
<path d="M142.12,307.38V317.01M140.62,307.38H143.62M140.62,317.01H143.62" stroke="#1f5a47" stroke-width="0.8" fill="none"/>
<path d="M38.43,391.37L43.16,391.37L40.80,395.46Z" fill="#1f5a47"/>
<path d="M63.76,385.91L68.49,385.91L66.13,390.00Z" fill="#1f5a47"/>
<path d="M89.09,374.04L93.82,374.04L91.46,378.12Z" fill="#1f5a47"/>
<path d="M114.42,346.43L119.15,346.43L116.79,350.51Z" fill="#1f5a47"/>
<path d="M139.75,310.48L144.49,310.48L142.12,314.56Z" fill="#1f5a47"/>
<path d="M40.80,393.09 L66.13,387.63 L91.46,377.04 L116.79,348.79 L142.12,311.24" fill="none" stroke="#f2c316" stroke-width="1.2" stroke-linejoin="round"/>
<path d="M40.80,392.45V393.73M39.30,392.45H42.30M39.30,393.73H42.30" stroke="#f2c316" stroke-width="0.8" fill="none"/>
<path d="M66.13,386.35V388.92M64.63,386.35H67.63M64.63,388.92H67.63" stroke="#f2c316" stroke-width="0.8" fill="none"/>
<path d="M91.46,375.44V378.65M89.96,375.44H92.96M89.96,378.65H92.96" stroke="#f2c316" stroke-width="0.8" fill="none"/>
<path d="M116.79,345.58V352.00M115.29,345.58H118.29M115.29,352.00H118.29" stroke="#f2c316" stroke-width="0.8" fill="none"/>
<path d="M142.12,307.38V315.09M140.62,307.38H143.62M140.62,315.09H143.62" stroke="#f2c316" stroke-width="0.8" fill="none"/>
<path d="M40.80,390.51L42.95,393.09L40.80,395.67L38.65,393.09Z" fill="#f2c316"/>
<path d="M66.13,385.05L68.28,387.63L66.13,390.21L63.98,387.63Z" fill="#f2c316"/>
<path d="M91.46,374.46L93.61,377.04L91.46,379.62L89.31,377.04Z" fill="#f2c316"/>
<path d="M116.79,346.21L118.94,348.79L116.79,351.37L114.64,348.79Z" fill="#f2c316"/>
<path d="M142.12,308.66L144.27,311.24L142.12,313.81L139.97,311.24Z" fill="#f2c316"/>
<path d="M40.80,393.09 L66.13,387.63 L91.46,374.79 L116.79,354.57 L142.12,322.47" fill="none" stroke="#1f3c7c" stroke-width="1.2" stroke-linejoin="round"/>
<path d="M40.80,392.13V394.05M39.30,392.13H42.30M39.30,394.05H42.30" stroke="#1f3c7c" stroke-width="0.8" fill="none"/>
<path d="M66.13,386.03V389.24M64.63,386.03H67.63M64.63,389.24H67.63" stroke="#1f3c7c" stroke-width="0.8" fill="none"/>
<path d="M91.46,373.19V376.40M89.96,373.19H92.96M89.96,376.40H92.96" stroke="#1f3c7c" stroke-width="0.8" fill="none"/>
<path d="M116.79,350.72V358.42M115.29,350.72H118.29M115.29,358.42H118.29" stroke="#1f3c7c" stroke-width="0.8" fill="none"/>
<path d="M142.12,317.66V327.29M140.62,317.66H143.62M140.62,327.29H143.62" stroke="#1f3c7c" stroke-width="0.8" fill="none"/>
<circle cx="40.80" cy="393.09" r="2.26" fill="#1f3c7c"/>
<circle cx="66.13" cy="387.63" r="2.26" fill="#1f3c7c"/>
<circle cx="91.46" cy="374.79" r="2.26" fill="#1f3c7c"/>
<circle cx="116.79" cy="354.57" r="2.26" fill="#1f3c7c"/>
<circle cx="142.12" cy="322.47" r="2.26" fill="#1f3c7c"/>
<line x1="285.10" y1="297.70" x2="285.10" y2="397.20" stroke="#1a1a1a" stroke-width="1.3"/>
<line x1="284.60" y1="396.60" x2="389.90" y2="396.60" stroke="#1a1a1a" stroke-width="1.3"/>
<line x1="281.20" y1="396.30" x2="285.10" y2="396.30" stroke="#1a1a1a" stroke-width="1.0"/>
<text x="279.40" y="398.40" font-size="6.0" text-anchor="end" textLength="8.20" lengthAdjust="spacingAndGlyphs" fill="#222" stroke="#222" stroke-width="0.28">0.0</text>
<line x1="281.20" y1="380.25" x2="285.10" y2="380.25" stroke="#1a1a1a" stroke-width="1.0"/>
<text x="279.40" y="382.35" font-size="6.0" text-anchor="end" textLength="8.20" lengthAdjust="spacingAndGlyphs" fill="#222" stroke="#222" stroke-width="0.28">0.5</text>
<line x1="281.20" y1="364.20" x2="285.10" y2="364.20" stroke="#1a1a1a" stroke-width="1.0"/>
<text x="279.40" y="366.30" font-size="6.0" text-anchor="end" textLength="8.20" lengthAdjust="spacingAndGlyphs" fill="#222" stroke="#222" stroke-width="0.28">1.0</text>
<line x1="281.20" y1="348.15" x2="285.10" y2="348.15" stroke="#1a1a1a" stroke-width="1.0"/>
<text x="279.40" y="350.25" font-size="6.0" text-anchor="end" textLength="8.20" lengthAdjust="spacingAndGlyphs" fill="#222" stroke="#222" stroke-width="0.28">1.5</text>
<line x1="281.20" y1="332.10" x2="285.10" y2="332.10" stroke="#1a1a1a" stroke-width="1.0"/>
<text x="279.40" y="334.20" font-size="6.0" text-anchor="end" textLength="8.20" lengthAdjust="spacingAndGlyphs" fill="#222" stroke="#222" stroke-width="0.28">2.0</text>
<line x1="281.20" y1="316.05" x2="285.10" y2="316.05" stroke="#1a1a1a" stroke-width="1.0"/>
<text x="279.40" y="318.15" font-size="6.0" text-anchor="end" textLength="8.20" lengthAdjust="spacingAndGlyphs" fill="#222" stroke="#222" stroke-width="0.28">2.5</text>
<line x1="281.20" y1="300.00" x2="285.10" y2="300.00" stroke="#1a1a1a" stroke-width="1.0"/>
<text x="279.40" y="302.10" font-size="6.0" text-anchor="end" textLength="8.20" lengthAdjust="spacingAndGlyphs" fill="#222" stroke="#222" stroke-width="0.28">3.0</text>
<line x1="285.10" y1="396.60" x2="285.10" y2="399.70" stroke="#1a1a1a" stroke-width="1.0"/>
<text x="285.10" y="408.20" font-size="6.2" text-anchor="middle" fill="#222" stroke="#222" stroke-width="0.28">0</text>
<line x1="310.43" y1="396.60" x2="310.43" y2="399.70" stroke="#1a1a1a" stroke-width="1.0"/>
<text x="310.43" y="408.20" font-size="6.2" text-anchor="middle" textLength="7.00" lengthAdjust="spacingAndGlyphs" fill="#222" stroke="#222" stroke-width="0.28">24</text>
<line x1="335.76" y1="396.60" x2="335.76" y2="399.70" stroke="#1a1a1a" stroke-width="1.0"/>
<text x="335.76" y="408.20" font-size="6.2" text-anchor="middle" textLength="7.00" lengthAdjust="spacingAndGlyphs" fill="#222" stroke="#222" stroke-width="0.28">48</text>
<line x1="361.09" y1="396.60" x2="361.09" y2="399.70" stroke="#1a1a1a" stroke-width="1.0"/>
<text x="361.09" y="408.20" font-size="6.2" text-anchor="middle" textLength="7.00" lengthAdjust="spacingAndGlyphs" fill="#222" stroke="#222" stroke-width="0.28">72</text>
<line x1="386.42" y1="396.60" x2="386.42" y2="399.70" stroke="#1a1a1a" stroke-width="1.0"/>
<text x="386.42" y="408.20" font-size="6.2" text-anchor="middle" textLength="7.00" lengthAdjust="spacingAndGlyphs" fill="#222" stroke="#222" stroke-width="0.28">96</text>
<text x="323.10" y="420.40" font-size="8.2" textLength="29.20" lengthAdjust="spacingAndGlyphs" fill="#222" stroke="#222" stroke-width="0.28">Time (h)</text>
<text x="308.70" y="293.20" font-size="8.2" textLength="57.50" lengthAdjust="spacingAndGlyphs" fill="#222" stroke="#222" stroke-width="0.28">+ SgRNA-RPS15</text>
<text transform="translate(264.60,392.20) rotate(-90)" font-size="7.9" fill="#222" stroke="#222" stroke-width="0.28" textLength="90.6" lengthAdjust="spacingAndGlyphs">Relative cell proliferation</text>
<path d="M285.10,393.09 L310.40,389.24 L335.70,380.89 L361.00,361.63 L386.30,341.73" fill="none" stroke="#c6c6c6" stroke-width="1.2" stroke-linejoin="round"/>
<path d="M285.10,392.45V393.73M283.60,392.45H286.60M283.60,393.73H286.60" stroke="#c6c6c6" stroke-width="0.8" fill="none"/>
<path d="M310.40,388.28V390.20M308.90,388.28H311.90M308.90,390.20H311.90" stroke="#c6c6c6" stroke-width="0.8" fill="none"/>
<path d="M335.70,379.61V382.18M334.20,379.61H337.20M334.20,382.18H337.20" stroke="#c6c6c6" stroke-width="0.8" fill="none"/>
<path d="M361.00,358.42V364.84M359.50,358.42H362.50M359.50,364.84H362.50" stroke="#c6c6c6" stroke-width="0.8" fill="none"/>
<path d="M386.30,338.52V344.94M384.80,338.52H387.80M384.80,344.94H387.80" stroke="#c6c6c6" stroke-width="0.8" fill="none"/>
<path d="M282.95,393.09H287.25M285.10,390.94V395.24" stroke="#c6c6c6" stroke-width="0.9"/>
<path d="M308.25,389.24H312.55M310.40,387.09V391.39" stroke="#c6c6c6" stroke-width="0.9"/>
<path d="M333.55,380.89H337.85M335.70,378.74V383.04" stroke="#c6c6c6" stroke-width="0.9"/>
<path d="M358.85,361.63H363.15M361.00,359.48V363.78" stroke="#c6c6c6" stroke-width="0.9"/>
<path d="M384.15,341.73H388.45M386.30,339.58V343.88" stroke="#c6c6c6" stroke-width="0.9"/>
<path d="M285.10,393.09 L310.40,389.88 L335.70,382.82 L361.00,373.19 L386.30,355.85" fill="none" stroke="#8c86cc" stroke-width="1.2" stroke-linejoin="round"/>
<path d="M285.10,392.45V393.73M283.60,392.45H286.60M283.60,393.73H286.60" stroke="#8c86cc" stroke-width="0.8" fill="none"/>
<path d="M310.40,388.92V390.84M308.90,388.92H311.90M308.90,390.84H311.90" stroke="#8c86cc" stroke-width="0.8" fill="none"/>
<path d="M335.70,381.53V384.10M334.20,381.53H337.20M334.20,384.10H337.20" stroke="#8c86cc" stroke-width="0.8" fill="none"/>
<path d="M361.00,369.34V377.04M359.50,369.34H362.50M359.50,377.04H362.50" stroke="#8c86cc" stroke-width="0.8" fill="none"/>
<path d="M386.30,352.00V359.71M384.80,352.00H387.80M384.80,359.71H387.80" stroke="#8c86cc" stroke-width="0.8" fill="none"/>
<path d="M285.10,390.51L287.25,393.09L285.10,395.67L282.95,393.09Z" fill="#8c86cc"/>
<path d="M310.40,387.30L312.55,389.88L310.40,392.46L308.25,389.88Z" fill="#8c86cc"/>
<path d="M335.70,380.24L337.85,382.82L335.70,385.40L333.55,382.82Z" fill="#8c86cc"/>
<path d="M361.00,370.61L363.15,373.19L361.00,375.77L358.85,373.19Z" fill="#8c86cc"/>
<path d="M386.30,353.27L388.45,355.85L386.30,358.43L384.15,355.85Z" fill="#8c86cc"/>
<path d="M285.10,393.09 L310.40,389.88 L335.70,381.86 L361.00,364.20 L386.30,343.34" fill="none" stroke="#3c1f6c" stroke-width="1.2" stroke-linejoin="round"/>
<path d="M285.10,392.45V393.73M283.60,392.45H286.60M283.60,393.73H286.60" stroke="#3c1f6c" stroke-width="0.8" fill="none"/>
<path d="M310.40,388.92V390.84M308.90,388.92H311.90M308.90,390.84H311.90" stroke="#3c1f6c" stroke-width="0.8" fill="none"/>
<path d="M335.70,380.57V383.14M334.20,380.57H337.20M334.20,383.14H337.20" stroke="#3c1f6c" stroke-width="0.8" fill="none"/>
<path d="M361.00,360.99V367.41M359.50,360.99H362.50M359.50,367.41H362.50" stroke="#3c1f6c" stroke-width="0.8" fill="none"/>
<path d="M386.30,339.48V347.19M384.80,339.48H387.80M384.80,347.19H387.80" stroke="#3c1f6c" stroke-width="0.8" fill="none"/>
<path d="M282.74,394.81L287.47,394.81L285.10,390.73Z" fill="#3c1f6c"/>
<path d="M308.04,391.60L312.77,391.60L310.40,387.51Z" fill="#3c1f6c"/>
<path d="M333.34,383.58L338.07,383.58L335.70,379.49Z" fill="#3c1f6c"/>
<path d="M358.63,365.92L363.37,365.92L361.00,361.83Z" fill="#3c1f6c"/>
<path d="M383.94,345.06L388.67,345.06L386.30,340.97Z" fill="#3c1f6c"/>
<path d="M285.10,393.09 L310.40,389.24 L335.70,380.25 L361.00,359.71 L386.30,335.95" fill="none" stroke="#b0102d" stroke-width="1.2" stroke-linejoin="round"/>
<path d="M285.10,392.45V393.73M283.60,392.45H286.60M283.60,393.73H286.60" stroke="#b0102d" stroke-width="0.8" fill="none"/>
<path d="M310.40,388.28V390.20M308.90,388.28H311.90M308.90,390.20H311.90" stroke="#b0102d" stroke-width="0.8" fill="none"/>
<path d="M335.70,378.97V381.53M334.20,378.97H337.20M334.20,381.53H337.20" stroke="#b0102d" stroke-width="0.8" fill="none"/>
<path d="M361.00,356.50V362.92M359.50,356.50H362.50M359.50,362.92H362.50" stroke="#b0102d" stroke-width="0.8" fill="none"/>
<path d="M386.30,332.74V339.16M384.80,332.74H387.80M384.80,339.16H387.80" stroke="#b0102d" stroke-width="0.8" fill="none"/>
<rect x="283.17" y="391.16" width="3.87" height="3.87" fill="#b0102d"/>
<rect x="308.47" y="387.30" width="3.87" height="3.87" fill="#b0102d"/>
<rect x="333.77" y="378.31" width="3.87" height="3.87" fill="#b0102d"/>
<rect x="359.06" y="357.77" width="3.87" height="3.87" fill="#b0102d"/>
<rect x="384.37" y="334.02" width="3.87" height="3.87" fill="#b0102d"/>
<path d="M285.10,393.73 L310.40,390.84 L335.70,386.67 L361.00,379.61 L386.30,369.01" fill="none" stroke="#e88a17" stroke-width="1.2" stroke-linejoin="round"/>
<path d="M285.10,393.09V394.37M283.60,393.09H286.60M283.60,394.37H286.60" stroke="#e88a17" stroke-width="0.8" fill="none"/>
<path d="M310.40,389.88V391.81M308.90,389.88H311.90M308.90,391.81H311.90" stroke="#e88a17" stroke-width="0.8" fill="none"/>
<path d="M335.70,385.39V387.95M334.20,385.39H337.20M334.20,387.95H337.20" stroke="#e88a17" stroke-width="0.8" fill="none"/>
<path d="M361.00,377.04V382.18M359.50,377.04H362.50M359.50,382.18H362.50" stroke="#e88a17" stroke-width="0.8" fill="none"/>
<path d="M386.30,363.24V374.79M384.80,363.24H387.80M384.80,374.79H387.80" stroke="#e88a17" stroke-width="0.8" fill="none"/>
<circle cx="285.10" cy="393.73" r="2.26" fill="#e88a17"/>
<circle cx="310.40" cy="390.84" r="2.26" fill="#e88a17"/>
<circle cx="335.70" cy="386.67" r="2.26" fill="#e88a17"/>
<circle cx="361.00" cy="379.61" r="2.26" fill="#e88a17"/>
<circle cx="386.30" cy="369.01" r="2.26" fill="#e88a17"/>
<path d="M285.10,393.73 L310.40,391.16 L335.70,388.92 L361.00,386.03 L386.30,381.86" fill="none" stroke="#5cb040" stroke-width="1.2" stroke-linejoin="round"/>
<path d="M285.10,393.09V394.37M283.60,393.09H286.60M283.60,394.37H286.60" stroke="#5cb040" stroke-width="0.8" fill="none"/>
<path d="M310.40,390.52V391.81M308.90,390.52H311.90M308.90,391.81H311.90" stroke="#5cb040" stroke-width="0.8" fill="none"/>
<path d="M335.70,387.95V389.88M334.20,387.95H337.20M334.20,389.88H337.20" stroke="#5cb040" stroke-width="0.8" fill="none"/>
<path d="M361.00,385.06V386.99M359.50,385.06H362.50M359.50,386.99H362.50" stroke="#5cb040" stroke-width="0.8" fill="none"/>
<path d="M386.30,379.93V383.78M384.80,379.93H387.80M384.80,383.78H387.80" stroke="#5cb040" stroke-width="0.8" fill="none"/>
<rect x="283.17" y="391.80" width="3.87" height="3.87" fill="#5cb040"/>
<rect x="308.47" y="389.23" width="3.87" height="3.87" fill="#5cb040"/>
<rect x="333.77" y="386.98" width="3.87" height="3.87" fill="#5cb040"/>
<rect x="359.06" y="384.09" width="3.87" height="3.87" fill="#5cb040"/>
<rect x="384.37" y="379.92" width="3.87" height="3.87" fill="#5cb040"/>
<path d="M285.10,393.09 L310.40,389.56 L335.70,380.89 L361.00,364.84 L386.30,346.55" fill="none" stroke="#1f5a47" stroke-width="1.2" stroke-linejoin="round"/>
<path d="M285.10,392.45V393.73M283.60,392.45H286.60M283.60,393.73H286.60" stroke="#1f5a47" stroke-width="0.8" fill="none"/>
<path d="M310.40,388.60V390.52M308.90,388.60H311.90M308.90,390.52H311.90" stroke="#1f5a47" stroke-width="0.8" fill="none"/>
<path d="M335.70,379.61V382.18M334.20,379.61H337.20M334.20,382.18H337.20" stroke="#1f5a47" stroke-width="0.8" fill="none"/>
<path d="M361.00,362.27V367.41M359.50,362.27H362.50M359.50,367.41H362.50" stroke="#1f5a47" stroke-width="0.8" fill="none"/>
<path d="M386.30,343.98V349.11M384.80,343.98H387.80M384.80,349.11H387.80" stroke="#1f5a47" stroke-width="0.8" fill="none"/>
<path d="M282.74,391.37L287.47,391.37L285.10,395.46Z" fill="#1f5a47"/>
<path d="M308.04,387.84L312.77,387.84L310.40,391.92Z" fill="#1f5a47"/>
<path d="M333.34,379.17L338.07,379.17L335.70,383.26Z" fill="#1f5a47"/>
<path d="M358.63,363.12L363.37,363.12L361.00,367.21Z" fill="#1f5a47"/>
<path d="M383.94,344.82L388.67,344.82L386.30,348.91Z" fill="#1f5a47"/>
<path d="M285.10,393.09 L310.40,389.24 L335.70,379.61 L361.00,358.42 L386.30,338.52" fill="none" stroke="#f2c316" stroke-width="1.2" stroke-linejoin="round"/>
<path d="M285.10,392.45V393.73M283.60,392.45H286.60M283.60,393.73H286.60" stroke="#f2c316" stroke-width="0.8" fill="none"/>
<path d="M310.40,388.28V390.20M308.90,388.28H311.90M308.90,390.20H311.90" stroke="#f2c316" stroke-width="0.8" fill="none"/>
<path d="M335.70,378.32V380.89M334.20,378.32H337.20M334.20,380.89H337.20" stroke="#f2c316" stroke-width="0.8" fill="none"/>
<path d="M361.00,355.85V360.99M359.50,355.85H362.50M359.50,360.99H362.50" stroke="#f2c316" stroke-width="0.8" fill="none"/>
<path d="M386.30,335.31V341.73M384.80,335.31H387.80M384.80,341.73H387.80" stroke="#f2c316" stroke-width="0.8" fill="none"/>
<path d="M285.10,390.51L287.25,393.09L285.10,395.67L282.95,393.09Z" fill="#f2c316"/>
<path d="M310.40,386.66L312.55,389.24L310.40,391.82L308.25,389.24Z" fill="#f2c316"/>
<path d="M335.70,377.03L337.85,379.61L335.70,382.19L333.55,379.61Z" fill="#f2c316"/>
<path d="M361.00,355.84L363.15,358.42L361.00,361.00L358.85,358.42Z" fill="#f2c316"/>
<path d="M386.30,335.94L388.45,338.52L386.30,341.10L384.15,338.52Z" fill="#f2c316"/>
<path d="M285.10,392.45 L310.40,387.95 L335.70,378.32 L361.00,360.99 L386.30,341.09" fill="none" stroke="#1f3c7c" stroke-width="1.2" stroke-linejoin="round"/>
<path d="M285.10,391.49V393.41M283.60,391.49H286.60M283.60,393.41H286.60" stroke="#1f3c7c" stroke-width="0.8" fill="none"/>
<path d="M310.40,386.99V388.92M308.90,386.99H311.90M308.90,388.92H311.90" stroke="#1f3c7c" stroke-width="0.8" fill="none"/>
<path d="M335.70,377.04V379.61M334.20,377.04H337.20M334.20,379.61H337.20" stroke="#1f3c7c" stroke-width="0.8" fill="none"/>
<path d="M361.00,357.78V364.20M359.50,357.78H362.50M359.50,364.20H362.50" stroke="#1f3c7c" stroke-width="0.8" fill="none"/>
<path d="M386.30,337.88V344.30M384.80,337.88H387.80M384.80,344.30H387.80" stroke="#1f3c7c" stroke-width="0.8" fill="none"/>
<circle cx="285.10" cy="392.45" r="2.26" fill="#1f3c7c"/>
<circle cx="310.40" cy="387.95" r="2.26" fill="#1f3c7c"/>
<circle cx="335.70" cy="378.32" r="2.26" fill="#1f3c7c"/>
<circle cx="361.00" cy="360.99" r="2.26" fill="#1f3c7c"/>
<circle cx="386.30" cy="341.09" r="2.26" fill="#1f3c7c"/>
<text x="335.60" y="372.20" font-size="5.2" fill="#5cb040" text-anchor="middle" textLength="2.4" lengthAdjust="spacingAndGlyphs">*</text>
<text x="360.80" y="336.60" font-size="5.2" fill="#8c86cc" text-anchor="middle" textLength="4.8" lengthAdjust="spacingAndGlyphs">**</text>
<text x="360.80" y="343.50" font-size="5.2" fill="#e88a17" text-anchor="middle" textLength="7.2" lengthAdjust="spacingAndGlyphs">***</text>
<text x="360.80" y="351.50" font-size="5.2" fill="#5cb040" text-anchor="middle" textLength="7.2" lengthAdjust="spacingAndGlyphs">***</text>
<text x="386.50" y="316.30" font-size="5.2" fill="#8c86cc" text-anchor="middle" textLength="7.2" lengthAdjust="spacingAndGlyphs">***</text>
<text x="386.50" y="323.10" font-size="5.2" fill="#e88a17" text-anchor="middle" textLength="7.2" lengthAdjust="spacingAndGlyphs">***</text>
<text x="386.50" y="329.70" font-size="5.2" fill="#5cb040" text-anchor="middle" textLength="7.2" lengthAdjust="spacingAndGlyphs">***</text>
<line x1="397.40" y1="293.60" x2="407.70" y2="293.60" stroke="#1f3c7c" stroke-width="1.3"/>
<circle cx="402.55" cy="293.60" r="2.42" fill="#1f3c7c"/>
<text x="410.80" y="295.90" font-size="6.1" textLength="25.40" lengthAdjust="spacingAndGlyphs" fill="#2a2a2a" stroke="#2a2a2a" stroke-width="0.06">GFP-RPS15</text>
<text x="436.60" y="292.60" font-size="3.2" textLength="4.20" lengthAdjust="spacingAndGlyphs" fill="#333" stroke="#333" stroke-width="0.06">WT</text>
<line x1="397.40" y1="306.02" x2="407.70" y2="306.02" stroke="#5cb040" stroke-width="1.3"/>
<rect x="400.48" y="303.95" width="4.14" height="4.14" fill="#5cb040"/>
<text x="410.80" y="308.32" font-size="6.1" textLength="25.40" lengthAdjust="spacingAndGlyphs" fill="#2a2a2a" stroke="#2a2a2a" stroke-width="0.06">GFP-RPS15</text>
<text x="436.60" y="305.02" font-size="3.2" textLength="8.00" lengthAdjust="spacingAndGlyphs" fill="#333" stroke="#333" stroke-width="0.06">P131S</text>
<line x1="397.40" y1="318.44" x2="407.70" y2="318.44" stroke="#1f5a47" stroke-width="1.3"/>
<path d="M400.02,316.60L405.08,316.60L402.55,320.97Z" fill="#1f5a47"/>
<text x="410.80" y="320.74" font-size="6.1" textLength="25.40" lengthAdjust="spacingAndGlyphs" fill="#2a2a2a" stroke="#2a2a2a" stroke-width="0.06">GFP-RPS15</text>
<text x="436.60" y="317.44" font-size="3.2" textLength="8.00" lengthAdjust="spacingAndGlyphs" fill="#333" stroke="#333" stroke-width="0.06">G132S</text>
<line x1="397.40" y1="330.86" x2="407.70" y2="330.86" stroke="#f2c316" stroke-width="1.3"/>
<path d="M402.55,328.10L404.85,330.86L402.55,333.62L400.25,330.86Z" fill="#f2c316"/>
<text x="410.80" y="333.16" font-size="6.1" textLength="25.40" lengthAdjust="spacingAndGlyphs" fill="#2a2a2a" stroke="#2a2a2a" stroke-width="0.06">GFP-RPS15</text>
<text x="436.60" y="329.86" font-size="3.2" textLength="8.00" lengthAdjust="spacingAndGlyphs" fill="#333" stroke="#333" stroke-width="0.06">G134R</text>
<line x1="397.40" y1="343.28" x2="407.70" y2="343.28" stroke="#e88a17" stroke-width="1.3"/>
<circle cx="402.55" cy="343.28" r="2.42" fill="#e88a17"/>
<text x="410.80" y="345.58" font-size="6.1" textLength="25.40" lengthAdjust="spacingAndGlyphs" fill="#2a2a2a" stroke="#2a2a2a" stroke-width="0.06">GFP-RPS15</text>
<text x="436.60" y="342.28" font-size="3.2" textLength="8.00" lengthAdjust="spacingAndGlyphs" fill="#333" stroke="#333" stroke-width="0.06">T136A</text>
<line x1="397.40" y1="355.70" x2="407.70" y2="355.70" stroke="#b0102d" stroke-width="1.3"/>
<rect x="400.48" y="353.63" width="4.14" height="4.14" fill="#b0102d"/>
<text x="410.80" y="358.00" font-size="6.1" textLength="25.40" lengthAdjust="spacingAndGlyphs" fill="#2a2a2a" stroke="#2a2a2a" stroke-width="0.06">GFP-RPS15</text>
<text x="436.60" y="354.70" font-size="3.2" textLength="8.00" lengthAdjust="spacingAndGlyphs" fill="#333" stroke="#333" stroke-width="0.06">H137Y</text>
<line x1="397.40" y1="368.12" x2="407.70" y2="368.12" stroke="#3c1f6c" stroke-width="1.3"/>
<path d="M400.02,369.96L405.08,369.96L402.55,365.59Z" fill="#3c1f6c"/>
<text x="410.80" y="370.42" font-size="6.1" textLength="25.40" lengthAdjust="spacingAndGlyphs" fill="#2a2a2a" stroke="#2a2a2a" stroke-width="0.06">GFP-RPS15</text>
<text x="436.60" y="367.12" font-size="3.2" textLength="8.00" lengthAdjust="spacingAndGlyphs" fill="#333" stroke="#333" stroke-width="0.06">S138F</text>
<line x1="397.40" y1="380.54" x2="407.70" y2="380.54" stroke="#8c86cc" stroke-width="1.3"/>
<path d="M402.55,377.78L404.85,380.54L402.55,383.30L400.25,380.54Z" fill="#8c86cc"/>
<text x="410.80" y="382.84" font-size="6.1" textLength="25.40" lengthAdjust="spacingAndGlyphs" fill="#2a2a2a" stroke="#2a2a2a" stroke-width="0.06">GFP-RPS15</text>
<text x="436.60" y="379.54" font-size="3.2" textLength="8.00" lengthAdjust="spacingAndGlyphs" fill="#333" stroke="#333" stroke-width="0.06">S139F</text>
<line x1="397.40" y1="392.96" x2="407.70" y2="392.96" stroke="#c6c6c6" stroke-width="1.3"/>
<path d="M400.25,392.96H404.85M402.55,390.66V395.26" stroke="#c6c6c6" stroke-width="0.9"/>
<text x="410.80" y="395.26" font-size="6.1" textLength="25.40" lengthAdjust="spacingAndGlyphs" fill="#2a2a2a" stroke="#2a2a2a" stroke-width="0.06">GFP-RPS15</text>
<text x="436.60" y="391.96" font-size="3.2" textLength="8.00" lengthAdjust="spacingAndGlyphs" fill="#333" stroke="#333" stroke-width="0.06">K145N</text>
<line x1="41.00" y1="436.90" x2="41.00" y2="533.64" stroke="#1a1a1a" stroke-width="1.3"/>
<line x1="40.50" y1="533.04" x2="189.80" y2="533.04" stroke="#1a1a1a" stroke-width="1.3"/>
<line x1="37.10" y1="533.04" x2="41.00" y2="533.04" stroke="#1a1a1a" stroke-width="1.0"/>
<text x="35.00" y="535.34" font-size="6.6" text-anchor="end" textLength="9.40" lengthAdjust="spacingAndGlyphs" fill="#222" stroke="#222" stroke-width="0.28">-20</text>
<line x1="37.10" y1="519.70" x2="41.00" y2="519.70" stroke="#1a1a1a" stroke-width="1.0"/>
<text x="35.00" y="522.00" font-size="6.6" text-anchor="end" fill="#222" stroke="#222" stroke-width="0.28">0</text>
<line x1="37.10" y1="506.36" x2="41.00" y2="506.36" stroke="#1a1a1a" stroke-width="1.0"/>
<text x="35.00" y="508.66" font-size="6.6" text-anchor="end" textLength="6.30" lengthAdjust="spacingAndGlyphs" fill="#222" stroke="#222" stroke-width="0.28">20</text>
<line x1="37.10" y1="493.02" x2="41.00" y2="493.02" stroke="#1a1a1a" stroke-width="1.0"/>
<text x="35.00" y="495.32" font-size="6.6" text-anchor="end" textLength="6.30" lengthAdjust="spacingAndGlyphs" fill="#222" stroke="#222" stroke-width="0.28">40</text>
<line x1="37.10" y1="479.68" x2="41.00" y2="479.68" stroke="#1a1a1a" stroke-width="1.0"/>
<text x="35.00" y="481.98" font-size="6.6" text-anchor="end" textLength="6.30" lengthAdjust="spacingAndGlyphs" fill="#222" stroke="#222" stroke-width="0.28">60</text>
<line x1="37.10" y1="466.34" x2="41.00" y2="466.34" stroke="#1a1a1a" stroke-width="1.0"/>
<text x="35.00" y="468.64" font-size="6.6" text-anchor="end" textLength="6.30" lengthAdjust="spacingAndGlyphs" fill="#222" stroke="#222" stroke-width="0.28">80</text>
<line x1="37.10" y1="453.00" x2="41.00" y2="453.00" stroke="#1a1a1a" stroke-width="1.0"/>
<text x="35.00" y="455.30" font-size="6.6" text-anchor="end" textLength="9.40" lengthAdjust="spacingAndGlyphs" fill="#222" stroke="#222" stroke-width="0.28">100</text>
<line x1="37.10" y1="439.66" x2="41.00" y2="439.66" stroke="#1a1a1a" stroke-width="1.0"/>
<text x="35.00" y="441.96" font-size="6.6" text-anchor="end" textLength="9.40" lengthAdjust="spacingAndGlyphs" fill="#222" stroke="#222" stroke-width="0.28">120</text>
<line x1="41.00" y1="533.04" x2="41.00" y2="536.04" stroke="#1a1a1a" stroke-width="1.0"/>
<text x="41.00" y="544.54" font-size="6.4" text-anchor="middle" textLength="14.40" lengthAdjust="spacingAndGlyphs" fill="#222" stroke="#222" stroke-width="0.28">0.125</text>
<line x1="57.20" y1="533.04" x2="57.20" y2="536.04" stroke="#1a1a1a" stroke-width="1.0"/>
<text x="57.20" y="544.54" font-size="6.4" text-anchor="middle" textLength="11.15" lengthAdjust="spacingAndGlyphs" fill="#222" stroke="#222" stroke-width="0.28">0.25</text>
<line x1="73.40" y1="533.04" x2="73.40" y2="536.04" stroke="#1a1a1a" stroke-width="1.0"/>
<text x="73.40" y="544.54" font-size="6.4" text-anchor="middle" textLength="7.90" lengthAdjust="spacingAndGlyphs" fill="#222" stroke="#222" stroke-width="0.28">0.5</text>
<line x1="89.60" y1="533.04" x2="89.60" y2="536.04" stroke="#1a1a1a" stroke-width="1.0"/>
<text x="89.60" y="544.54" font-size="6.4" text-anchor="middle" fill="#222" stroke="#222" stroke-width="0.28">1</text>
<line x1="105.80" y1="533.04" x2="105.80" y2="536.04" stroke="#1a1a1a" stroke-width="1.0"/>
<text x="105.80" y="544.54" font-size="6.4" text-anchor="middle" fill="#222" stroke="#222" stroke-width="0.28">2</text>
<line x1="122.00" y1="533.04" x2="122.00" y2="536.04" stroke="#1a1a1a" stroke-width="1.0"/>
<text x="122.00" y="544.54" font-size="6.4" text-anchor="middle" fill="#222" stroke="#222" stroke-width="0.28">4</text>
<line x1="138.20" y1="533.04" x2="138.20" y2="536.04" stroke="#1a1a1a" stroke-width="1.0"/>
<text x="138.20" y="544.54" font-size="6.4" text-anchor="middle" fill="#222" stroke="#222" stroke-width="0.28">8</text>
<line x1="154.40" y1="533.04" x2="154.40" y2="536.04" stroke="#1a1a1a" stroke-width="1.0"/>
<text x="154.40" y="544.54" font-size="6.4" text-anchor="middle" textLength="6.50" lengthAdjust="spacingAndGlyphs" fill="#222" stroke="#222" stroke-width="0.28">16</text>
<line x1="170.60" y1="533.04" x2="170.60" y2="536.04" stroke="#1a1a1a" stroke-width="1.0"/>
<text x="170.60" y="544.54" font-size="6.4" text-anchor="middle" textLength="6.50" lengthAdjust="spacingAndGlyphs" fill="#222" stroke="#222" stroke-width="0.28">32</text>
<line x1="186.80" y1="533.04" x2="186.80" y2="536.04" stroke="#1a1a1a" stroke-width="1.0"/>
<text x="186.80" y="544.54" font-size="6.4" text-anchor="middle" textLength="6.50" lengthAdjust="spacingAndGlyphs" fill="#222" stroke="#222" stroke-width="0.28">64</text>
<line x1="43.50" y1="519.70" x2="170.60" y2="519.70" stroke="#222" stroke-width="0.95" stroke-dasharray="1,1.05"/>
<text x="89.70" y="557.34" font-size="8.7" textLength="51.50" lengthAdjust="spacingAndGlyphs" fill="#222" stroke="#222" stroke-width="0.28">Ibrutinib (μM)</text>
<text transform="translate(18.60,506.60) rotate(-90)" font-size="8.7" fill="#222" stroke="#222" stroke-width="0.28" textLength="43.5" lengthAdjust="spacingAndGlyphs">Viability (%)</text>
<path d="M41.00,453.00 L57.20,453.00 L73.40,453.00 L89.60,453.67 L105.80,457.00 L122.00,463.67 L138.20,481.01 L154.40,506.36 L170.60,519.70 L186.80,519.70" fill="none" stroke="#c6c6c6" stroke-width="1.2" stroke-linejoin="round"/>
<path d="M41.00,449.67V456.34M39.50,449.67H42.50M39.50,456.34H42.50" stroke="#c6c6c6" stroke-width="0.8" fill="none"/>
<path d="M57.20,450.33V455.67M55.70,450.33H58.70M55.70,455.67H58.70" stroke="#c6c6c6" stroke-width="0.8" fill="none"/>
<path d="M73.40,450.33V455.67M71.90,450.33H74.90M71.90,455.67H74.90" stroke="#c6c6c6" stroke-width="0.8" fill="none"/>
<path d="M89.60,451.67V455.67M88.10,451.67H91.10M88.10,455.67H91.10" stroke="#c6c6c6" stroke-width="0.8" fill="none"/>
<path d="M105.80,454.33V459.67M104.30,454.33H107.30M104.30,459.67H107.30" stroke="#c6c6c6" stroke-width="0.8" fill="none"/>
<path d="M122.00,461.00V466.34M120.50,461.00H123.50M120.50,466.34H123.50" stroke="#c6c6c6" stroke-width="0.8" fill="none"/>
<path d="M138.20,477.68V484.35M136.70,477.68H139.70M136.70,484.35H139.70" stroke="#c6c6c6" stroke-width="0.8" fill="none"/>
<path d="M154.40,504.36V508.36M152.90,504.36H155.90M152.90,508.36H155.90" stroke="#c6c6c6" stroke-width="0.8" fill="none"/>
<path d="M38.85,453.00H43.15M41.00,450.85V455.15" stroke="#c6c6c6" stroke-width="0.9"/>
<path d="M55.05,453.00H59.35M57.20,450.85V455.15" stroke="#c6c6c6" stroke-width="0.9"/>
<path d="M71.25,453.00H75.55M73.40,450.85V455.15" stroke="#c6c6c6" stroke-width="0.9"/>
<path d="M87.45,453.67H91.75M89.60,451.52V455.82" stroke="#c6c6c6" stroke-width="0.9"/>
<path d="M103.65,457.00H107.95M105.80,454.85V459.15" stroke="#c6c6c6" stroke-width="0.9"/>
<path d="M119.85,463.67H124.15M122.00,461.52V465.82" stroke="#c6c6c6" stroke-width="0.9"/>
<path d="M136.05,481.01H140.35M138.20,478.86V483.16" stroke="#c6c6c6" stroke-width="0.9"/>
<path d="M152.25,506.36H156.55M154.40,504.21V508.51" stroke="#c6c6c6" stroke-width="0.9"/>
<path d="M168.45,519.70H172.75M170.60,517.55V521.85" stroke="#c6c6c6" stroke-width="0.9"/>
<path d="M184.65,519.70H188.95M186.80,517.55V521.85" stroke="#c6c6c6" stroke-width="0.9"/>
<path d="M41.00,453.00 L57.20,452.33 L73.40,453.00 L89.60,455.00 L105.80,458.34 L122.00,465.01 L138.20,483.02 L154.40,509.70 L170.60,519.70 L186.80,519.70" fill="none" stroke="#8c86cc" stroke-width="1.2" stroke-linejoin="round"/>
<path d="M41.00,450.33V455.67M39.50,450.33H42.50M39.50,455.67H42.50" stroke="#8c86cc" stroke-width="0.8" fill="none"/>
<path d="M57.20,448.33V456.34M55.70,448.33H58.70M55.70,456.34H58.70" stroke="#8c86cc" stroke-width="0.8" fill="none"/>
<path d="M73.40,450.33V455.67M71.90,450.33H74.90M71.90,455.67H74.90" stroke="#8c86cc" stroke-width="0.8" fill="none"/>
<path d="M89.60,452.33V457.67M88.10,452.33H91.10M88.10,457.67H91.10" stroke="#8c86cc" stroke-width="0.8" fill="none"/>
<path d="M105.80,455.67V461.00M104.30,455.67H107.30M104.30,461.00H107.30" stroke="#8c86cc" stroke-width="0.8" fill="none"/>
<path d="M122.00,461.00V469.01M120.50,461.00H123.50M120.50,469.01H123.50" stroke="#8c86cc" stroke-width="0.8" fill="none"/>
<path d="M138.20,479.01V487.02M136.70,479.01H139.70M136.70,487.02H139.70" stroke="#8c86cc" stroke-width="0.8" fill="none"/>
<path d="M154.40,507.03V512.36M152.90,507.03H155.90M152.90,512.36H155.90" stroke="#8c86cc" stroke-width="0.8" fill="none"/>
<path d="M41.00,450.42L43.15,453.00L41.00,455.58L38.85,453.00Z" fill="#8c86cc"/>
<path d="M57.20,449.75L59.35,452.33L57.20,454.91L55.05,452.33Z" fill="#8c86cc"/>
<path d="M73.40,450.42L75.55,453.00L73.40,455.58L71.25,453.00Z" fill="#8c86cc"/>
<path d="M89.60,452.42L91.75,455.00L89.60,457.58L87.45,455.00Z" fill="#8c86cc"/>
<path d="M105.80,455.76L107.95,458.34L105.80,460.92L103.65,458.34Z" fill="#8c86cc"/>
<path d="M122.00,462.43L124.15,465.01L122.00,467.59L119.85,465.01Z" fill="#8c86cc"/>
<path d="M138.20,480.44L140.35,483.02L138.20,485.60L136.05,483.02Z" fill="#8c86cc"/>
<path d="M154.40,507.12L156.55,509.70L154.40,512.28L152.25,509.70Z" fill="#8c86cc"/>
<path d="M170.60,517.12L172.75,519.70L170.60,522.28L168.45,519.70Z" fill="#8c86cc"/>
<path d="M186.80,517.12L188.95,519.70L186.80,522.28L184.65,519.70Z" fill="#8c86cc"/>
<path d="M41.00,452.33 L57.20,453.00 L73.40,449.67 L89.60,455.67 L105.80,462.34 L122.00,477.68 L138.20,492.35 L154.40,512.36 L170.60,519.70 L186.80,519.70" fill="none" stroke="#3c1f6c" stroke-width="1.2" stroke-linejoin="round"/>
<path d="M41.00,449.67V455.00M39.50,449.67H42.50M39.50,455.00H42.50" stroke="#3c1f6c" stroke-width="0.8" fill="none"/>
<path d="M57.20,450.33V455.67M55.70,450.33H58.70M55.70,455.67H58.70" stroke="#3c1f6c" stroke-width="0.8" fill="none"/>
<path d="M73.40,445.66V453.67M71.90,445.66H74.90M71.90,453.67H74.90" stroke="#3c1f6c" stroke-width="0.8" fill="none"/>
<path d="M89.60,453.00V458.34M88.10,453.00H91.10M88.10,458.34H91.10" stroke="#3c1f6c" stroke-width="0.8" fill="none"/>
<path d="M105.80,459.67V465.01M104.30,459.67H107.30M104.30,465.01H107.30" stroke="#3c1f6c" stroke-width="0.8" fill="none"/>
<path d="M122.00,474.34V481.01M120.50,474.34H123.50M120.50,481.01H123.50" stroke="#3c1f6c" stroke-width="0.8" fill="none"/>
<path d="M138.20,489.02V495.69M136.70,489.02H139.70M136.70,495.69H139.70" stroke="#3c1f6c" stroke-width="0.8" fill="none"/>
<path d="M154.40,510.36V514.36M152.90,510.36H155.90M152.90,514.36H155.90" stroke="#3c1f6c" stroke-width="0.8" fill="none"/>
<path d="M38.63,454.05L43.37,454.05L41.00,449.97Z" fill="#3c1f6c"/>
<path d="M54.84,454.72L59.57,454.72L57.20,450.64Z" fill="#3c1f6c"/>
<path d="M71.04,451.39L75.77,451.39L73.40,447.30Z" fill="#3c1f6c"/>
<path d="M87.23,457.39L91.96,457.39L89.60,453.30Z" fill="#3c1f6c"/>
<path d="M103.44,464.06L108.16,464.06L105.80,459.97Z" fill="#3c1f6c"/>
<path d="M119.64,479.40L124.36,479.40L122.00,475.31Z" fill="#3c1f6c"/>
<path d="M135.83,494.07L140.56,494.07L138.20,489.99Z" fill="#3c1f6c"/>
<path d="M152.03,514.08L156.76,514.08L154.40,510.00Z" fill="#3c1f6c"/>
<path d="M168.23,521.42L172.97,521.42L170.60,517.34Z" fill="#3c1f6c"/>
<path d="M184.43,521.42L189.16,521.42L186.80,517.34Z" fill="#3c1f6c"/>
<path d="M41.00,451.67 L57.20,453.67 L73.40,455.67 L89.60,456.34 L105.80,465.01 L122.00,480.35 L138.20,496.36 L154.40,513.03 L170.60,519.70 L186.80,519.70" fill="none" stroke="#b0102d" stroke-width="1.2" stroke-linejoin="round"/>
<path d="M41.00,448.33V455.00M39.50,448.33H42.50M39.50,455.00H42.50" stroke="#b0102d" stroke-width="0.8" fill="none"/>
<path d="M57.20,451.00V456.34M55.70,451.00H58.70M55.70,456.34H58.70" stroke="#b0102d" stroke-width="0.8" fill="none"/>
<path d="M73.40,453.00V458.34M71.90,453.00H74.90M71.90,458.34H74.90" stroke="#b0102d" stroke-width="0.8" fill="none"/>
<path d="M89.60,454.33V458.34M88.10,454.33H91.10M88.10,458.34H91.10" stroke="#b0102d" stroke-width="0.8" fill="none"/>
<path d="M105.80,462.34V467.67M104.30,462.34H107.30M104.30,467.67H107.30" stroke="#b0102d" stroke-width="0.8" fill="none"/>
<path d="M122.00,477.68V483.02M120.50,477.68H123.50M120.50,483.02H123.50" stroke="#b0102d" stroke-width="0.8" fill="none"/>
<path d="M138.20,493.02V499.69M136.70,493.02H139.70M136.70,499.69H139.70" stroke="#b0102d" stroke-width="0.8" fill="none"/>
<path d="M154.40,511.03V515.03M152.90,511.03H155.90M152.90,515.03H155.90" stroke="#b0102d" stroke-width="0.8" fill="none"/>
<rect x="39.06" y="449.73" width="3.87" height="3.87" fill="#b0102d"/>
<rect x="55.27" y="451.73" width="3.87" height="3.87" fill="#b0102d"/>
<rect x="71.47" y="453.73" width="3.87" height="3.87" fill="#b0102d"/>
<rect x="87.66" y="454.40" width="3.87" height="3.87" fill="#b0102d"/>
<rect x="103.86" y="463.07" width="3.87" height="3.87" fill="#b0102d"/>
<rect x="120.06" y="478.41" width="3.87" height="3.87" fill="#b0102d"/>
<rect x="136.26" y="494.42" width="3.87" height="3.87" fill="#b0102d"/>
<rect x="152.46" y="511.10" width="3.87" height="3.87" fill="#b0102d"/>
<rect x="168.66" y="517.77" width="3.87" height="3.87" fill="#b0102d"/>
<rect x="184.86" y="517.77" width="3.87" height="3.87" fill="#b0102d"/>
<path d="M41.00,452.33 L57.20,453.00 L73.40,453.67 L89.60,454.33 L105.80,456.34 L122.00,466.34 L138.20,474.34 L154.40,496.36 L170.60,519.70 L186.80,519.70" fill="none" stroke="#e88a17" stroke-width="1.2" stroke-linejoin="round"/>
<path d="M41.00,449.67V455.00M39.50,449.67H42.50M39.50,455.00H42.50" stroke="#e88a17" stroke-width="0.8" fill="none"/>
<path d="M57.20,449.67V456.34M55.70,449.67H58.70M55.70,456.34H58.70" stroke="#e88a17" stroke-width="0.8" fill="none"/>
<path d="M73.40,450.33V457.00M71.90,450.33H74.90M71.90,457.00H74.90" stroke="#e88a17" stroke-width="0.8" fill="none"/>
<path d="M89.60,451.67V457.00M88.10,451.67H91.10M88.10,457.00H91.10" stroke="#e88a17" stroke-width="0.8" fill="none"/>
<path d="M105.80,453.67V459.00M104.30,453.67H107.30M104.30,459.00H107.30" stroke="#e88a17" stroke-width="0.8" fill="none"/>
<path d="M122.00,463.67V469.01M120.50,463.67H123.50M120.50,469.01H123.50" stroke="#e88a17" stroke-width="0.8" fill="none"/>
<path d="M138.20,470.34V478.35M136.70,470.34H139.70M136.70,478.35H139.70" stroke="#e88a17" stroke-width="0.8" fill="none"/>
<path d="M154.40,490.35V502.36M152.90,490.35H155.90M152.90,502.36H155.90" stroke="#e88a17" stroke-width="0.8" fill="none"/>
<circle cx="41.00" cy="452.33" r="2.26" fill="#e88a17"/>
<circle cx="57.20" cy="453.00" r="2.26" fill="#e88a17"/>
<circle cx="73.40" cy="453.67" r="2.26" fill="#e88a17"/>
<circle cx="89.60" cy="454.33" r="2.26" fill="#e88a17"/>
<circle cx="105.80" cy="456.34" r="2.26" fill="#e88a17"/>
<circle cx="122.00" cy="466.34" r="2.26" fill="#e88a17"/>
<circle cx="138.20" cy="474.34" r="2.26" fill="#e88a17"/>
<circle cx="154.40" cy="496.36" r="2.26" fill="#e88a17"/>
<circle cx="170.60" cy="519.70" r="2.26" fill="#e88a17"/>
<circle cx="186.80" cy="519.70" r="2.26" fill="#e88a17"/>
<path d="M41.00,453.00 L57.20,453.67 L73.40,453.00 L89.60,451.67 L105.80,453.67 L122.00,463.01 L138.20,475.68 L154.40,501.02 L170.60,519.70 L186.80,519.70" fill="none" stroke="#5cb040" stroke-width="1.2" stroke-linejoin="round"/>
<path d="M41.00,449.67V456.34M39.50,449.67H42.50M39.50,456.34H42.50" stroke="#5cb040" stroke-width="0.8" fill="none"/>
<path d="M57.20,451.00V456.34M55.70,451.00H58.70M55.70,456.34H58.70" stroke="#5cb040" stroke-width="0.8" fill="none"/>
<path d="M73.40,450.33V455.67M71.90,450.33H74.90M71.90,455.67H74.90" stroke="#5cb040" stroke-width="0.8" fill="none"/>
<path d="M89.60,449.67V453.67M88.10,449.67H91.10M88.10,453.67H91.10" stroke="#5cb040" stroke-width="0.8" fill="none"/>
<path d="M105.80,451.00V456.34M104.30,451.00H107.30M104.30,456.34H107.30" stroke="#5cb040" stroke-width="0.8" fill="none"/>
<path d="M122.00,460.34V465.67M120.50,460.34H123.50M120.50,465.67H123.50" stroke="#5cb040" stroke-width="0.8" fill="none"/>
<path d="M138.20,472.34V479.01M136.70,472.34H139.70M136.70,479.01H139.70" stroke="#5cb040" stroke-width="0.8" fill="none"/>
<path d="M154.40,499.02V503.03M152.90,499.02H155.90M152.90,503.03H155.90" stroke="#5cb040" stroke-width="0.8" fill="none"/>
<rect x="39.06" y="451.07" width="3.87" height="3.87" fill="#5cb040"/>
<rect x="55.27" y="451.73" width="3.87" height="3.87" fill="#5cb040"/>
<rect x="71.47" y="451.07" width="3.87" height="3.87" fill="#5cb040"/>
<rect x="87.66" y="449.73" width="3.87" height="3.87" fill="#5cb040"/>
<rect x="103.86" y="451.73" width="3.87" height="3.87" fill="#5cb040"/>
<rect x="120.06" y="461.07" width="3.87" height="3.87" fill="#5cb040"/>
<rect x="136.26" y="473.74" width="3.87" height="3.87" fill="#5cb040"/>
<rect x="152.46" y="499.09" width="3.87" height="3.87" fill="#5cb040"/>
<rect x="168.66" y="517.77" width="3.87" height="3.87" fill="#5cb040"/>
<rect x="184.86" y="517.77" width="3.87" height="3.87" fill="#5cb040"/>
<path d="M41.00,452.33 L57.20,453.00 L73.40,454.33 L89.60,453.00 L105.80,455.00 L122.00,464.34 L138.20,478.35 L154.40,505.03 L170.60,519.70 L186.80,519.70" fill="none" stroke="#1f5a47" stroke-width="1.2" stroke-linejoin="round"/>
<path d="M41.00,449.00V455.67M39.50,449.00H42.50M39.50,455.67H42.50" stroke="#1f5a47" stroke-width="0.8" fill="none"/>
<path d="M57.20,450.33V455.67M55.70,450.33H58.70M55.70,455.67H58.70" stroke="#1f5a47" stroke-width="0.8" fill="none"/>
<path d="M73.40,451.67V457.00M71.90,451.67H74.90M71.90,457.00H74.90" stroke="#1f5a47" stroke-width="0.8" fill="none"/>
<path d="M89.60,451.00V455.00M88.10,451.00H91.10M88.10,455.00H91.10" stroke="#1f5a47" stroke-width="0.8" fill="none"/>
<path d="M105.80,452.33V457.67M104.30,452.33H107.30M104.30,457.67H107.30" stroke="#1f5a47" stroke-width="0.8" fill="none"/>
<path d="M122.00,461.67V467.01M120.50,461.67H123.50M120.50,467.01H123.50" stroke="#1f5a47" stroke-width="0.8" fill="none"/>
<path d="M138.20,475.01V481.68M136.70,475.01H139.70M136.70,481.68H139.70" stroke="#1f5a47" stroke-width="0.8" fill="none"/>
<path d="M154.40,503.03V507.03M152.90,503.03H155.90M152.90,507.03H155.90" stroke="#1f5a47" stroke-width="0.8" fill="none"/>
<path d="M38.63,450.61L43.37,450.61L41.00,454.70Z" fill="#1f5a47"/>
<path d="M54.84,451.28L59.57,451.28L57.20,455.37Z" fill="#1f5a47"/>
<path d="M71.04,452.61L75.77,452.61L73.40,456.70Z" fill="#1f5a47"/>
<path d="M87.23,451.28L91.96,451.28L89.60,455.37Z" fill="#1f5a47"/>
<path d="M103.44,453.28L108.16,453.28L105.80,457.37Z" fill="#1f5a47"/>
<path d="M119.64,462.62L124.36,462.62L122.00,466.70Z" fill="#1f5a47"/>
<path d="M135.83,476.63L140.56,476.63L138.20,480.71Z" fill="#1f5a47"/>
<path d="M152.03,503.31L156.76,503.31L154.40,507.39Z" fill="#1f5a47"/>
<path d="M168.23,517.98L172.97,517.98L170.60,522.07Z" fill="#1f5a47"/>
<path d="M184.43,517.98L189.16,517.98L186.80,522.07Z" fill="#1f5a47"/>
<path d="M41.00,453.00 L57.20,452.33 L73.40,452.33 L89.60,461.00 L105.80,471.01 L122.00,485.68 L138.20,501.02 L154.40,514.36 L170.60,519.70 L186.80,519.70" fill="none" stroke="#f2c316" stroke-width="1.2" stroke-linejoin="round"/>
<path d="M41.00,451.00V455.00M39.50,451.00H42.50M39.50,455.00H42.50" stroke="#f2c316" stroke-width="0.8" fill="none"/>
<path d="M57.20,449.67V455.00M55.70,449.67H58.70M55.70,455.00H58.70" stroke="#f2c316" stroke-width="0.8" fill="none"/>
<path d="M73.40,449.00V455.67M71.90,449.00H74.90M71.90,455.67H74.90" stroke="#f2c316" stroke-width="0.8" fill="none"/>
<path d="M89.60,457.67V464.34M88.10,457.67H91.10M88.10,464.34H91.10" stroke="#f2c316" stroke-width="0.8" fill="none"/>
<path d="M105.80,467.01V475.01M104.30,467.01H107.30M104.30,475.01H107.30" stroke="#f2c316" stroke-width="0.8" fill="none"/>
<path d="M122.00,481.68V489.69M120.50,481.68H123.50M120.50,489.69H123.50" stroke="#f2c316" stroke-width="0.8" fill="none"/>
<path d="M138.20,495.69V506.36M136.70,495.69H139.70M136.70,506.36H139.70" stroke="#f2c316" stroke-width="0.8" fill="none"/>
<path d="M154.40,511.70V517.03M152.90,511.70H155.90M152.90,517.03H155.90" stroke="#f2c316" stroke-width="0.8" fill="none"/>
<path d="M41.00,450.42L43.15,453.00L41.00,455.58L38.85,453.00Z" fill="#f2c316"/>
<path d="M57.20,449.75L59.35,452.33L57.20,454.91L55.05,452.33Z" fill="#f2c316"/>
<path d="M73.40,449.75L75.55,452.33L73.40,454.91L71.25,452.33Z" fill="#f2c316"/>
<path d="M89.60,458.42L91.75,461.00L89.60,463.58L87.45,461.00Z" fill="#f2c316"/>
<path d="M105.80,468.43L107.95,471.01L105.80,473.59L103.65,471.01Z" fill="#f2c316"/>
<path d="M122.00,483.10L124.15,485.68L122.00,488.26L119.85,485.68Z" fill="#f2c316"/>
<path d="M138.20,498.44L140.35,501.02L138.20,503.60L136.05,501.02Z" fill="#f2c316"/>
<path d="M154.40,511.78L156.55,514.36L154.40,516.94L152.25,514.36Z" fill="#f2c316"/>
<path d="M170.60,517.12L172.75,519.70L170.60,522.28L168.45,519.70Z" fill="#f2c316"/>
<path d="M186.80,517.12L188.95,519.70L186.80,522.28L184.65,519.70Z" fill="#f2c316"/>
<path d="M41.00,451.00 L57.20,453.00 L73.40,455.00 L89.60,457.67 L105.80,460.34 L122.00,475.68 L138.20,488.35 L154.40,509.03 L170.60,519.70 L186.80,519.70" fill="none" stroke="#1f3c7c" stroke-width="1.2" stroke-linejoin="round"/>
<path d="M41.00,447.66V454.33M39.50,447.66H42.50M39.50,454.33H42.50" stroke="#1f3c7c" stroke-width="0.8" fill="none"/>
<path d="M57.20,450.33V455.67M55.70,450.33H58.70M55.70,455.67H58.70" stroke="#1f3c7c" stroke-width="0.8" fill="none"/>
<path d="M73.40,452.33V457.67M71.90,452.33H74.90M71.90,457.67H74.90" stroke="#1f3c7c" stroke-width="0.8" fill="none"/>
<path d="M89.60,455.67V459.67M88.10,455.67H91.10M88.10,459.67H91.10" stroke="#1f3c7c" stroke-width="0.8" fill="none"/>
<path d="M105.80,457.67V463.01M104.30,457.67H107.30M104.30,463.01H107.30" stroke="#1f3c7c" stroke-width="0.8" fill="none"/>
<path d="M122.00,473.01V478.35M120.50,473.01H123.50M120.50,478.35H123.50" stroke="#1f3c7c" stroke-width="0.8" fill="none"/>
<path d="M138.20,485.02V491.69M136.70,485.02H139.70M136.70,491.69H139.70" stroke="#1f3c7c" stroke-width="0.8" fill="none"/>
<path d="M154.40,507.03V511.03M152.90,507.03H155.90M152.90,511.03H155.90" stroke="#1f3c7c" stroke-width="0.8" fill="none"/>
<circle cx="41.00" cy="451.00" r="2.26" fill="#1f3c7c"/>
<circle cx="57.20" cy="453.00" r="2.26" fill="#1f3c7c"/>
<circle cx="73.40" cy="455.00" r="2.26" fill="#1f3c7c"/>
<circle cx="89.60" cy="457.67" r="2.26" fill="#1f3c7c"/>
<circle cx="105.80" cy="460.34" r="2.26" fill="#1f3c7c"/>
<circle cx="122.00" cy="475.68" r="2.26" fill="#1f3c7c"/>
<circle cx="138.20" cy="488.35" r="2.26" fill="#1f3c7c"/>
<circle cx="154.40" cy="509.03" r="2.26" fill="#1f3c7c"/>
<circle cx="170.60" cy="519.70" r="2.26" fill="#1f3c7c"/>
<circle cx="186.80" cy="519.70" r="2.26" fill="#1f3c7c"/>
<line x1="288.30" y1="435.20" x2="288.30" y2="533.64" stroke="#1a1a1a" stroke-width="1.3"/>
<line x1="287.80" y1="533.04" x2="437.55" y2="533.04" stroke="#1a1a1a" stroke-width="1.3"/>
<line x1="284.40" y1="533.04" x2="288.30" y2="533.04" stroke="#1a1a1a" stroke-width="1.0"/>
<text x="282.30" y="535.34" font-size="6.6" text-anchor="end" textLength="9.40" lengthAdjust="spacingAndGlyphs" fill="#222" stroke="#222" stroke-width="0.28">-20</text>
<line x1="284.40" y1="519.70" x2="288.30" y2="519.70" stroke="#1a1a1a" stroke-width="1.0"/>
<text x="282.30" y="522.00" font-size="6.6" text-anchor="end" fill="#222" stroke="#222" stroke-width="0.28">0</text>
<line x1="284.40" y1="506.36" x2="288.30" y2="506.36" stroke="#1a1a1a" stroke-width="1.0"/>
<text x="282.30" y="508.66" font-size="6.6" text-anchor="end" textLength="6.30" lengthAdjust="spacingAndGlyphs" fill="#222" stroke="#222" stroke-width="0.28">20</text>
<line x1="284.40" y1="493.02" x2="288.30" y2="493.02" stroke="#1a1a1a" stroke-width="1.0"/>
<text x="282.30" y="495.32" font-size="6.6" text-anchor="end" textLength="6.30" lengthAdjust="spacingAndGlyphs" fill="#222" stroke="#222" stroke-width="0.28">40</text>
<line x1="284.40" y1="479.68" x2="288.30" y2="479.68" stroke="#1a1a1a" stroke-width="1.0"/>
<text x="282.30" y="481.98" font-size="6.6" text-anchor="end" textLength="6.30" lengthAdjust="spacingAndGlyphs" fill="#222" stroke="#222" stroke-width="0.28">60</text>
<line x1="284.40" y1="466.34" x2="288.30" y2="466.34" stroke="#1a1a1a" stroke-width="1.0"/>
<text x="282.30" y="468.64" font-size="6.6" text-anchor="end" textLength="6.30" lengthAdjust="spacingAndGlyphs" fill="#222" stroke="#222" stroke-width="0.28">80</text>
<line x1="284.40" y1="453.00" x2="288.30" y2="453.00" stroke="#1a1a1a" stroke-width="1.0"/>
<text x="282.30" y="455.30" font-size="6.6" text-anchor="end" textLength="9.40" lengthAdjust="spacingAndGlyphs" fill="#222" stroke="#222" stroke-width="0.28">100</text>
<line x1="284.40" y1="439.66" x2="288.30" y2="439.66" stroke="#1a1a1a" stroke-width="1.0"/>
<text x="282.30" y="441.96" font-size="6.6" text-anchor="end" textLength="9.40" lengthAdjust="spacingAndGlyphs" fill="#222" stroke="#222" stroke-width="0.28">120</text>
<line x1="288.30" y1="533.04" x2="288.30" y2="536.04" stroke="#1a1a1a" stroke-width="1.0"/>
<text x="288.30" y="544.54" font-size="6.4" text-anchor="middle" textLength="14.40" lengthAdjust="spacingAndGlyphs" fill="#222" stroke="#222" stroke-width="0.28">0.125</text>
<line x1="304.55" y1="533.04" x2="304.55" y2="536.04" stroke="#1a1a1a" stroke-width="1.0"/>
<text x="304.55" y="544.54" font-size="6.4" text-anchor="middle" textLength="11.15" lengthAdjust="spacingAndGlyphs" fill="#222" stroke="#222" stroke-width="0.28">0.25</text>
<line x1="320.80" y1="533.04" x2="320.80" y2="536.04" stroke="#1a1a1a" stroke-width="1.0"/>
<text x="320.80" y="544.54" font-size="6.4" text-anchor="middle" textLength="7.90" lengthAdjust="spacingAndGlyphs" fill="#222" stroke="#222" stroke-width="0.28">0.5</text>
<line x1="337.05" y1="533.04" x2="337.05" y2="536.04" stroke="#1a1a1a" stroke-width="1.0"/>
<text x="337.05" y="544.54" font-size="6.4" text-anchor="middle" fill="#222" stroke="#222" stroke-width="0.28">1</text>
<line x1="353.30" y1="533.04" x2="353.30" y2="536.04" stroke="#1a1a1a" stroke-width="1.0"/>
<text x="353.30" y="544.54" font-size="6.4" text-anchor="middle" fill="#222" stroke="#222" stroke-width="0.28">2</text>
<line x1="369.55" y1="533.04" x2="369.55" y2="536.04" stroke="#1a1a1a" stroke-width="1.0"/>
<text x="369.55" y="544.54" font-size="6.4" text-anchor="middle" fill="#222" stroke="#222" stroke-width="0.28">4</text>
<line x1="385.80" y1="533.04" x2="385.80" y2="536.04" stroke="#1a1a1a" stroke-width="1.0"/>
<text x="385.80" y="544.54" font-size="6.4" text-anchor="middle" fill="#222" stroke="#222" stroke-width="0.28">8</text>
<line x1="402.05" y1="533.04" x2="402.05" y2="536.04" stroke="#1a1a1a" stroke-width="1.0"/>
<text x="402.05" y="544.54" font-size="6.4" text-anchor="middle" textLength="6.50" lengthAdjust="spacingAndGlyphs" fill="#222" stroke="#222" stroke-width="0.28">16</text>
<line x1="418.30" y1="533.04" x2="418.30" y2="536.04" stroke="#1a1a1a" stroke-width="1.0"/>
<text x="418.30" y="544.54" font-size="6.4" text-anchor="middle" textLength="6.50" lengthAdjust="spacingAndGlyphs" fill="#222" stroke="#222" stroke-width="0.28">32</text>
<line x1="434.55" y1="533.04" x2="434.55" y2="536.04" stroke="#1a1a1a" stroke-width="1.0"/>
<text x="434.55" y="544.54" font-size="6.4" text-anchor="middle" textLength="6.50" lengthAdjust="spacingAndGlyphs" fill="#222" stroke="#222" stroke-width="0.28">64</text>
<line x1="290.80" y1="519.70" x2="418.30" y2="519.70" stroke="#222" stroke-width="0.95" stroke-dasharray="1,1.05"/>
<text x="335.40" y="557.34" font-size="8.7" textLength="54.80" lengthAdjust="spacingAndGlyphs" fill="#222" stroke="#222" stroke-width="0.28">Sorafenib (μM)</text>
<text transform="translate(266.00,506.40) rotate(-90)" font-size="8.7" fill="#222" stroke="#222" stroke-width="0.28" textLength="43.5" lengthAdjust="spacingAndGlyphs">Viability (%)</text>
<path d="M288.30,453.67 L304.55,452.33 L320.80,452.33 L337.05,452.33 L353.30,454.33 L369.55,463.01 L385.80,491.69 L402.05,509.70 L418.30,514.36 L434.55,515.03" fill="none" stroke="#c6c6c6" stroke-width="1.2" stroke-linejoin="round"/>
<path d="M288.30,447.00V460.34M286.80,447.00H289.80M286.80,460.34H289.80" stroke="#c6c6c6" stroke-width="0.8" fill="none"/>
<path d="M304.55,447.00V457.67M303.05,447.00H306.05M303.05,457.67H306.05" stroke="#c6c6c6" stroke-width="0.8" fill="none"/>
<path d="M320.80,449.67V455.00M319.30,449.67H322.30M319.30,455.00H322.30" stroke="#c6c6c6" stroke-width="0.8" fill="none"/>
<path d="M337.05,449.67V455.00M335.55,449.67H338.55M335.55,455.00H338.55" stroke="#c6c6c6" stroke-width="0.8" fill="none"/>
<path d="M353.30,451.67V457.00M351.80,451.67H354.80M351.80,457.00H354.80" stroke="#c6c6c6" stroke-width="0.8" fill="none"/>
<path d="M369.55,460.34V465.67M368.05,460.34H371.05M368.05,465.67H371.05" stroke="#c6c6c6" stroke-width="0.8" fill="none"/>
<path d="M385.80,486.35V497.02M384.30,486.35H387.30M384.30,497.02H387.30" stroke="#c6c6c6" stroke-width="0.8" fill="none"/>
<path d="M402.05,505.69V513.70M400.55,505.69H403.55M400.55,513.70H403.55" stroke="#c6c6c6" stroke-width="0.8" fill="none"/>
<path d="M418.30,505.03V523.70M416.80,505.03H419.80M416.80,523.70H419.80" stroke="#c6c6c6" stroke-width="0.8" fill="none"/>
<path d="M434.55,508.36V521.70M433.05,508.36H436.05M433.05,521.70H436.05" stroke="#c6c6c6" stroke-width="0.8" fill="none"/>
<path d="M286.15,453.67H290.45M288.30,451.52V455.82" stroke="#c6c6c6" stroke-width="0.9"/>
<path d="M302.40,452.33H306.70M304.55,450.18V454.48" stroke="#c6c6c6" stroke-width="0.9"/>
<path d="M318.65,452.33H322.95M320.80,450.18V454.48" stroke="#c6c6c6" stroke-width="0.9"/>
<path d="M334.90,452.33H339.20M337.05,450.18V454.48" stroke="#c6c6c6" stroke-width="0.9"/>
<path d="M351.15,454.33H355.45M353.30,452.18V456.48" stroke="#c6c6c6" stroke-width="0.9"/>
<path d="M367.40,463.01H371.70M369.55,460.86V465.16" stroke="#c6c6c6" stroke-width="0.9"/>
<path d="M383.65,491.69H387.95M385.80,489.54V493.84" stroke="#c6c6c6" stroke-width="0.9"/>
<path d="M399.90,509.70H404.20M402.05,507.55V511.85" stroke="#c6c6c6" stroke-width="0.9"/>
<path d="M416.15,514.36H420.45M418.30,512.21V516.51" stroke="#c6c6c6" stroke-width="0.9"/>
<path d="M432.40,515.03H436.70M434.55,512.88V517.18" stroke="#c6c6c6" stroke-width="0.9"/>
<path d="M288.30,452.33 L304.55,452.33 L320.80,453.00 L337.05,451.00 L353.30,451.67 L369.55,454.33 L385.80,485.02 L402.05,505.69 L418.30,517.03 L434.55,519.70" fill="none" stroke="#8c86cc" stroke-width="1.2" stroke-linejoin="round"/>
<path d="M288.30,449.00V455.67M286.80,449.00H289.80M286.80,455.67H289.80" stroke="#8c86cc" stroke-width="0.8" fill="none"/>
<path d="M304.55,449.00V455.67M303.05,449.00H306.05M303.05,455.67H306.05" stroke="#8c86cc" stroke-width="0.8" fill="none"/>
<path d="M320.80,450.33V455.67M319.30,450.33H322.30M319.30,455.67H322.30" stroke="#8c86cc" stroke-width="0.8" fill="none"/>
<path d="M337.05,448.33V453.67M335.55,448.33H338.55M335.55,453.67H338.55" stroke="#8c86cc" stroke-width="0.8" fill="none"/>
<path d="M353.30,449.00V454.33M351.80,449.00H354.80M351.80,454.33H354.80" stroke="#8c86cc" stroke-width="0.8" fill="none"/>
<path d="M369.55,451.67V457.00M368.05,451.67H371.05M368.05,457.00H371.05" stroke="#8c86cc" stroke-width="0.8" fill="none"/>
<path d="M385.80,478.35V491.69M384.30,478.35H387.30M384.30,491.69H387.30" stroke="#8c86cc" stroke-width="0.8" fill="none"/>
<path d="M402.05,503.03V508.36M400.55,503.03H403.55M400.55,508.36H403.55" stroke="#8c86cc" stroke-width="0.8" fill="none"/>
<path d="M418.30,513.70V520.37M416.80,513.70H419.80M416.80,520.37H419.80" stroke="#8c86cc" stroke-width="0.8" fill="none"/>
<path d="M288.30,449.75L290.45,452.33L288.30,454.91L286.15,452.33Z" fill="#8c86cc"/>
<path d="M304.55,449.75L306.70,452.33L304.55,454.91L302.40,452.33Z" fill="#8c86cc"/>
<path d="M320.80,450.42L322.95,453.00L320.80,455.58L318.65,453.00Z" fill="#8c86cc"/>
<path d="M337.05,448.42L339.20,451.00L337.05,453.58L334.90,451.00Z" fill="#8c86cc"/>
<path d="M353.30,449.09L355.45,451.67L353.30,454.25L351.15,451.67Z" fill="#8c86cc"/>
<path d="M369.55,451.75L371.70,454.33L369.55,456.91L367.40,454.33Z" fill="#8c86cc"/>
<path d="M385.80,482.44L387.95,485.02L385.80,487.60L383.65,485.02Z" fill="#8c86cc"/>
<path d="M402.05,503.11L404.20,505.69L402.05,508.27L399.90,505.69Z" fill="#8c86cc"/>
<path d="M418.30,514.45L420.45,517.03L418.30,519.61L416.15,517.03Z" fill="#8c86cc"/>
<path d="M434.55,517.12L436.70,519.70L434.55,522.28L432.40,519.70Z" fill="#8c86cc"/>
<path d="M288.30,453.00 L304.55,453.00 L320.80,453.00 L337.05,454.33 L353.30,461.00 L369.55,479.68 L385.80,507.03 L402.05,513.03 L418.30,517.70 L434.55,519.70" fill="none" stroke="#3c1f6c" stroke-width="1.2" stroke-linejoin="round"/>
<path d="M288.30,450.33V455.67M286.80,450.33H289.80M286.80,455.67H289.80" stroke="#3c1f6c" stroke-width="0.8" fill="none"/>
<path d="M304.55,450.33V455.67M303.05,450.33H306.05M303.05,455.67H306.05" stroke="#3c1f6c" stroke-width="0.8" fill="none"/>
<path d="M320.80,450.33V455.67M319.30,450.33H322.30M319.30,455.67H322.30" stroke="#3c1f6c" stroke-width="0.8" fill="none"/>
<path d="M337.05,451.67V457.00M335.55,451.67H338.55M335.55,457.00H338.55" stroke="#3c1f6c" stroke-width="0.8" fill="none"/>
<path d="M353.30,458.34V463.67M351.80,458.34H354.80M351.80,463.67H354.80" stroke="#3c1f6c" stroke-width="0.8" fill="none"/>
<path d="M369.55,476.35V483.02M368.05,476.35H371.05M368.05,483.02H371.05" stroke="#3c1f6c" stroke-width="0.8" fill="none"/>
<path d="M385.80,504.36V509.70M384.30,504.36H387.30M384.30,509.70H387.30" stroke="#3c1f6c" stroke-width="0.8" fill="none"/>
<path d="M402.05,510.36V515.70M400.55,510.36H403.55M400.55,515.70H403.55" stroke="#3c1f6c" stroke-width="0.8" fill="none"/>
<path d="M418.30,515.70V519.70M416.80,515.70H419.80M416.80,519.70H419.80" stroke="#3c1f6c" stroke-width="0.8" fill="none"/>
<path d="M285.94,454.72L290.67,454.72L288.30,450.64Z" fill="#3c1f6c"/>
<path d="M302.19,454.72L306.92,454.72L304.55,450.64Z" fill="#3c1f6c"/>
<path d="M318.44,454.72L323.17,454.72L320.80,450.64Z" fill="#3c1f6c"/>
<path d="M334.69,456.05L339.42,456.05L337.05,451.97Z" fill="#3c1f6c"/>
<path d="M350.94,462.72L355.67,462.72L353.30,458.64Z" fill="#3c1f6c"/>
<path d="M367.19,481.40L371.92,481.40L369.55,477.32Z" fill="#3c1f6c"/>
<path d="M383.44,508.75L388.17,508.75L385.80,504.66Z" fill="#3c1f6c"/>
<path d="M399.69,514.75L404.42,514.75L402.05,510.67Z" fill="#3c1f6c"/>
<path d="M415.94,519.42L420.67,519.42L418.30,515.33Z" fill="#3c1f6c"/>
<path d="M432.19,521.42L436.92,521.42L434.55,517.34Z" fill="#3c1f6c"/>
<path d="M288.30,453.00 L304.55,455.67 L320.80,453.00 L337.05,455.00 L353.30,467.01 L369.55,491.02 L385.80,507.69 L402.05,514.36 L418.30,518.37 L434.55,519.70" fill="none" stroke="#b0102d" stroke-width="1.2" stroke-linejoin="round"/>
<path d="M288.30,441.66V464.34M286.80,441.66H289.80M286.80,464.34H289.80" stroke="#b0102d" stroke-width="0.8" fill="none"/>
<path d="M304.55,452.33V459.00M303.05,452.33H306.05M303.05,459.00H306.05" stroke="#b0102d" stroke-width="0.8" fill="none"/>
<path d="M320.80,444.33V461.67M319.30,444.33H322.30M319.30,461.67H322.30" stroke="#b0102d" stroke-width="0.8" fill="none"/>
<path d="M337.05,452.33V457.67M335.55,452.33H338.55M335.55,457.67H338.55" stroke="#b0102d" stroke-width="0.8" fill="none"/>
<path d="M353.30,463.01V471.01M351.80,463.01H354.80M351.80,471.01H354.80" stroke="#b0102d" stroke-width="0.8" fill="none"/>
<path d="M369.55,488.35V493.69M368.05,488.35H371.05M368.05,493.69H371.05" stroke="#b0102d" stroke-width="0.8" fill="none"/>
<path d="M385.80,505.69V509.70M384.30,505.69H387.30M384.30,509.70H387.30" stroke="#b0102d" stroke-width="0.8" fill="none"/>
<path d="M402.05,512.36V516.37M400.55,512.36H403.55M400.55,516.37H403.55" stroke="#b0102d" stroke-width="0.8" fill="none"/>
<path d="M418.30,517.03V519.70M416.80,517.03H419.80M416.80,519.70H419.80" stroke="#b0102d" stroke-width="0.8" fill="none"/>
<rect x="286.37" y="451.07" width="3.87" height="3.87" fill="#b0102d"/>
<rect x="302.62" y="453.73" width="3.87" height="3.87" fill="#b0102d"/>
<rect x="318.87" y="451.07" width="3.87" height="3.87" fill="#b0102d"/>
<rect x="335.12" y="453.07" width="3.87" height="3.87" fill="#b0102d"/>
<rect x="351.37" y="465.07" width="3.87" height="3.87" fill="#b0102d"/>
<rect x="367.62" y="489.08" width="3.87" height="3.87" fill="#b0102d"/>
<rect x="383.87" y="505.76" width="3.87" height="3.87" fill="#b0102d"/>
<rect x="400.12" y="512.43" width="3.87" height="3.87" fill="#b0102d"/>
<rect x="416.37" y="516.43" width="3.87" height="3.87" fill="#b0102d"/>
<rect x="432.62" y="517.77" width="3.87" height="3.87" fill="#b0102d"/>
<path d="M288.30,452.33 L304.55,452.33 L320.80,452.33 L337.05,452.33 L353.30,452.33 L369.55,458.34 L385.80,489.69 L402.05,503.69 L418.30,518.37 L434.55,519.70" fill="none" stroke="#e88a17" stroke-width="1.2" stroke-linejoin="round"/>
<path d="M288.30,449.00V455.67M286.80,449.00H289.80M286.80,455.67H289.80" stroke="#e88a17" stroke-width="0.8" fill="none"/>
<path d="M304.55,449.00V455.67M303.05,449.00H306.05M303.05,455.67H306.05" stroke="#e88a17" stroke-width="0.8" fill="none"/>
<path d="M320.80,449.67V455.00M319.30,449.67H322.30M319.30,455.00H322.30" stroke="#e88a17" stroke-width="0.8" fill="none"/>
<path d="M337.05,449.67V455.00M335.55,449.67H338.55M335.55,455.00H338.55" stroke="#e88a17" stroke-width="0.8" fill="none"/>
<path d="M353.30,449.67V455.00M351.80,449.67H354.80M351.80,455.00H354.80" stroke="#e88a17" stroke-width="0.8" fill="none"/>
<path d="M369.55,455.67V461.00M368.05,455.67H371.05M368.05,461.00H371.05" stroke="#e88a17" stroke-width="0.8" fill="none"/>
<path d="M385.80,483.02V496.36M384.30,483.02H387.30M384.30,496.36H387.30" stroke="#e88a17" stroke-width="0.8" fill="none"/>
<path d="M402.05,500.36V507.03M400.55,500.36H403.55M400.55,507.03H403.55" stroke="#e88a17" stroke-width="0.8" fill="none"/>
<path d="M418.30,516.37V520.37M416.80,516.37H419.80M416.80,520.37H419.80" stroke="#e88a17" stroke-width="0.8" fill="none"/>
<circle cx="288.30" cy="452.33" r="2.26" fill="#e88a17"/>
<circle cx="304.55" cy="452.33" r="2.26" fill="#e88a17"/>
<circle cx="320.80" cy="452.33" r="2.26" fill="#e88a17"/>
<circle cx="337.05" cy="452.33" r="2.26" fill="#e88a17"/>
<circle cx="353.30" cy="452.33" r="2.26" fill="#e88a17"/>
<circle cx="369.55" cy="458.34" r="2.26" fill="#e88a17"/>
<circle cx="385.80" cy="489.69" r="2.26" fill="#e88a17"/>
<circle cx="402.05" cy="503.69" r="2.26" fill="#e88a17"/>
<circle cx="418.30" cy="518.37" r="2.26" fill="#e88a17"/>
<circle cx="434.55" cy="519.70" r="2.26" fill="#e88a17"/>
<path d="M288.30,453.00 L304.55,453.67 L320.80,453.00 L337.05,451.00 L353.30,451.67 L369.55,459.00 L385.80,490.35 L402.05,502.36 L418.30,517.70 L434.55,519.70" fill="none" stroke="#5cb040" stroke-width="1.2" stroke-linejoin="round"/>
<path d="M288.30,450.33V455.67M286.80,450.33H289.80M286.80,455.67H289.80" stroke="#5cb040" stroke-width="0.8" fill="none"/>
<path d="M304.55,451.00V456.34M303.05,451.00H306.05M303.05,456.34H306.05" stroke="#5cb040" stroke-width="0.8" fill="none"/>
<path d="M320.80,450.33V455.67M319.30,450.33H322.30M319.30,455.67H322.30" stroke="#5cb040" stroke-width="0.8" fill="none"/>
<path d="M337.05,448.33V453.67M335.55,448.33H338.55M335.55,453.67H338.55" stroke="#5cb040" stroke-width="0.8" fill="none"/>
<path d="M353.30,449.00V454.33M351.80,449.00H354.80M351.80,454.33H354.80" stroke="#5cb040" stroke-width="0.8" fill="none"/>
<path d="M369.55,455.67V462.34M368.05,455.67H371.05M368.05,462.34H371.05" stroke="#5cb040" stroke-width="0.8" fill="none"/>
<path d="M385.80,487.68V493.02M384.30,487.68H387.30M384.30,493.02H387.30" stroke="#5cb040" stroke-width="0.8" fill="none"/>
<path d="M402.05,499.69V505.03M400.55,499.69H403.55M400.55,505.03H403.55" stroke="#5cb040" stroke-width="0.8" fill="none"/>
<path d="M418.30,515.70V519.70M416.80,515.70H419.80M416.80,519.70H419.80" stroke="#5cb040" stroke-width="0.8" fill="none"/>
<rect x="286.37" y="451.07" width="3.87" height="3.87" fill="#5cb040"/>
<rect x="302.62" y="451.73" width="3.87" height="3.87" fill="#5cb040"/>
<rect x="318.87" y="451.07" width="3.87" height="3.87" fill="#5cb040"/>
<rect x="335.12" y="449.06" width="3.87" height="3.87" fill="#5cb040"/>
<rect x="351.37" y="449.73" width="3.87" height="3.87" fill="#5cb040"/>
<rect x="367.62" y="457.07" width="3.87" height="3.87" fill="#5cb040"/>
<rect x="383.87" y="488.42" width="3.87" height="3.87" fill="#5cb040"/>
<rect x="400.12" y="500.42" width="3.87" height="3.87" fill="#5cb040"/>
<rect x="416.37" y="515.76" width="3.87" height="3.87" fill="#5cb040"/>
<rect x="432.62" y="517.77" width="3.87" height="3.87" fill="#5cb040"/>
<path d="M288.30,452.33 L304.55,453.00 L320.80,452.33 L337.05,453.67 L353.30,457.00 L369.55,469.01 L385.80,495.69 L402.05,509.70 L418.30,517.70 L434.55,519.70" fill="none" stroke="#1f5a47" stroke-width="1.2" stroke-linejoin="round"/>
<path d="M288.30,449.67V455.00M286.80,449.67H289.80M286.80,455.00H289.80" stroke="#1f5a47" stroke-width="0.8" fill="none"/>
<path d="M304.55,450.33V455.67M303.05,450.33H306.05M303.05,455.67H306.05" stroke="#1f5a47" stroke-width="0.8" fill="none"/>
<path d="M320.80,449.67V455.00M319.30,449.67H322.30M319.30,455.00H322.30" stroke="#1f5a47" stroke-width="0.8" fill="none"/>
<path d="M337.05,451.00V456.34M335.55,451.00H338.55M335.55,456.34H338.55" stroke="#1f5a47" stroke-width="0.8" fill="none"/>
<path d="M353.30,454.33V459.67M351.80,454.33H354.80M351.80,459.67H354.80" stroke="#1f5a47" stroke-width="0.8" fill="none"/>
<path d="M369.55,465.67V472.34M368.05,465.67H371.05M368.05,472.34H371.05" stroke="#1f5a47" stroke-width="0.8" fill="none"/>
<path d="M385.80,493.02V498.36M384.30,493.02H387.30M384.30,498.36H387.30" stroke="#1f5a47" stroke-width="0.8" fill="none"/>
<path d="M402.05,507.03V512.36M400.55,507.03H403.55M400.55,512.36H403.55" stroke="#1f5a47" stroke-width="0.8" fill="none"/>
<path d="M418.30,515.70V519.70M416.80,515.70H419.80M416.80,519.70H419.80" stroke="#1f5a47" stroke-width="0.8" fill="none"/>
<path d="M285.94,450.61L290.67,450.61L288.30,454.70Z" fill="#1f5a47"/>
<path d="M302.19,451.28L306.92,451.28L304.55,455.37Z" fill="#1f5a47"/>
<path d="M318.44,450.61L323.17,450.61L320.80,454.70Z" fill="#1f5a47"/>
<path d="M334.69,451.95L339.42,451.95L337.05,456.03Z" fill="#1f5a47"/>
<path d="M350.94,455.28L355.67,455.28L353.30,459.37Z" fill="#1f5a47"/>
<path d="M367.19,467.29L371.92,467.29L369.55,471.37Z" fill="#1f5a47"/>
<path d="M383.44,493.97L388.17,493.97L385.80,498.05Z" fill="#1f5a47"/>
<path d="M399.69,507.98L404.42,507.98L402.05,512.06Z" fill="#1f5a47"/>
<path d="M415.94,515.98L420.67,515.98L418.30,520.06Z" fill="#1f5a47"/>
<path d="M432.19,517.98L436.92,517.98L434.55,522.07Z" fill="#1f5a47"/>
<path d="M288.30,451.00 L304.55,451.67 L320.80,451.67 L337.05,453.67 L353.30,466.34 L369.55,488.35 L385.80,506.36 L402.05,513.03 L418.30,518.37 L434.55,519.70" fill="none" stroke="#f2c316" stroke-width="1.2" stroke-linejoin="round"/>
<path d="M288.30,447.66V454.33M286.80,447.66H289.80M286.80,454.33H289.80" stroke="#f2c316" stroke-width="0.8" fill="none"/>
<path d="M304.55,446.33V457.00M303.05,446.33H306.05M303.05,457.00H306.05" stroke="#f2c316" stroke-width="0.8" fill="none"/>
<path d="M320.80,449.00V454.33M319.30,449.00H322.30M319.30,454.33H322.30" stroke="#f2c316" stroke-width="0.8" fill="none"/>
<path d="M337.05,451.00V456.34M335.55,451.00H338.55M335.55,456.34H338.55" stroke="#f2c316" stroke-width="0.8" fill="none"/>
<path d="M353.30,462.34V470.34M351.80,462.34H354.80M351.80,470.34H354.80" stroke="#f2c316" stroke-width="0.8" fill="none"/>
<path d="M369.55,485.02V491.69M368.05,485.02H371.05M368.05,491.69H371.05" stroke="#f2c316" stroke-width="0.8" fill="none"/>
<path d="M385.80,504.36V508.36M384.30,504.36H387.30M384.30,508.36H387.30" stroke="#f2c316" stroke-width="0.8" fill="none"/>
<path d="M402.05,511.03V515.03M400.55,511.03H403.55M400.55,515.03H403.55" stroke="#f2c316" stroke-width="0.8" fill="none"/>
<path d="M418.30,517.03V519.70M416.80,517.03H419.80M416.80,519.70H419.80" stroke="#f2c316" stroke-width="0.8" fill="none"/>
<path d="M288.30,448.42L290.45,451.00L288.30,453.58L286.15,451.00Z" fill="#f2c316"/>
<path d="M304.55,449.09L306.70,451.67L304.55,454.25L302.40,451.67Z" fill="#f2c316"/>
<path d="M320.80,449.09L322.95,451.67L320.80,454.25L318.65,451.67Z" fill="#f2c316"/>
<path d="M337.05,451.09L339.20,453.67L337.05,456.25L334.90,453.67Z" fill="#f2c316"/>
<path d="M353.30,463.76L355.45,466.34L353.30,468.92L351.15,466.34Z" fill="#f2c316"/>
<path d="M369.55,485.77L371.70,488.35L369.55,490.93L367.40,488.35Z" fill="#f2c316"/>
<path d="M385.80,503.78L387.95,506.36L385.80,508.94L383.65,506.36Z" fill="#f2c316"/>
<path d="M402.05,510.45L404.20,513.03L402.05,515.61L399.90,513.03Z" fill="#f2c316"/>
<path d="M418.30,515.79L420.45,518.37L418.30,520.95L416.15,518.37Z" fill="#f2c316"/>
<path d="M434.55,517.12L436.70,519.70L434.55,522.28L432.40,519.70Z" fill="#f2c316"/>
<path d="M288.30,453.67 L304.55,451.67 L320.80,453.00 L337.05,455.00 L353.30,459.00 L369.55,474.34 L385.80,502.36 L402.05,507.03 L418.30,515.03 L434.55,519.70" fill="none" stroke="#1f3c7c" stroke-width="1.2" stroke-linejoin="round"/>
<path d="M288.30,451.00V456.34M286.80,451.00H289.80M286.80,456.34H289.80" stroke="#1f3c7c" stroke-width="0.8" fill="none"/>
<path d="M304.55,449.00V454.33M303.05,449.00H306.05M303.05,454.33H306.05" stroke="#1f3c7c" stroke-width="0.8" fill="none"/>
<path d="M320.80,450.33V455.67M319.30,450.33H322.30M319.30,455.67H322.30" stroke="#1f3c7c" stroke-width="0.8" fill="none"/>
<path d="M337.05,452.33V457.67M335.55,452.33H338.55M335.55,457.67H338.55" stroke="#1f3c7c" stroke-width="0.8" fill="none"/>
<path d="M353.30,456.34V461.67M351.80,456.34H354.80M351.80,461.67H354.80" stroke="#1f3c7c" stroke-width="0.8" fill="none"/>
<path d="M369.55,471.01V477.68M368.05,471.01H371.05M368.05,477.68H371.05" stroke="#1f3c7c" stroke-width="0.8" fill="none"/>
<path d="M385.80,499.69V505.03M384.30,499.69H387.30M384.30,505.03H387.30" stroke="#1f3c7c" stroke-width="0.8" fill="none"/>
<path d="M402.05,504.36V509.70M400.55,504.36H403.55M400.55,509.70H403.55" stroke="#1f3c7c" stroke-width="0.8" fill="none"/>
<path d="M418.30,513.03V517.03M416.80,513.03H419.80M416.80,517.03H419.80" stroke="#1f3c7c" stroke-width="0.8" fill="none"/>
<circle cx="288.30" cy="453.67" r="2.26" fill="#1f3c7c"/>
<circle cx="304.55" cy="451.67" r="2.26" fill="#1f3c7c"/>
<circle cx="320.80" cy="453.00" r="2.26" fill="#1f3c7c"/>
<circle cx="337.05" cy="455.00" r="2.26" fill="#1f3c7c"/>
<circle cx="353.30" cy="459.00" r="2.26" fill="#1f3c7c"/>
<circle cx="369.55" cy="474.34" r="2.26" fill="#1f3c7c"/>
<circle cx="385.80" cy="502.36" r="2.26" fill="#1f3c7c"/>
<circle cx="402.05" cy="507.03" r="2.26" fill="#1f3c7c"/>
<circle cx="418.30" cy="515.03" r="2.26" fill="#1f3c7c"/>
<circle cx="434.55" cy="519.70" r="2.26" fill="#1f3c7c"/>
<line x1="440.60" y1="431.00" x2="450.90" y2="431.00" stroke="#1f3c7c" stroke-width="1.3"/>
<circle cx="445.75" cy="431.00" r="2.42" fill="#1f3c7c"/>
<text x="454.00" y="433.30" font-size="6.1" textLength="25.40" lengthAdjust="spacingAndGlyphs" fill="#2a2a2a" stroke="#2a2a2a" stroke-width="0.06">GFP-RPS15</text>
<text x="479.80" y="430.00" font-size="3.2" textLength="4.20" lengthAdjust="spacingAndGlyphs" fill="#333" stroke="#333" stroke-width="0.06">WT</text>
<line x1="440.60" y1="443.30" x2="450.90" y2="443.30" stroke="#5cb040" stroke-width="1.3"/>
<rect x="443.68" y="441.23" width="4.14" height="4.14" fill="#5cb040"/>
<text x="454.00" y="445.60" font-size="6.1" textLength="25.40" lengthAdjust="spacingAndGlyphs" fill="#2a2a2a" stroke="#2a2a2a" stroke-width="0.06">GFP-RPS15</text>
<text x="479.80" y="442.30" font-size="3.2" textLength="8.00" lengthAdjust="spacingAndGlyphs" fill="#333" stroke="#333" stroke-width="0.06">P131S</text>
<line x1="440.60" y1="455.60" x2="450.90" y2="455.60" stroke="#1f5a47" stroke-width="1.3"/>
<path d="M443.22,453.76L448.28,453.76L445.75,458.13Z" fill="#1f5a47"/>
<text x="454.00" y="457.90" font-size="6.1" textLength="25.40" lengthAdjust="spacingAndGlyphs" fill="#2a2a2a" stroke="#2a2a2a" stroke-width="0.06">GFP-RPS15</text>
<text x="479.80" y="454.60" font-size="3.2" textLength="8.00" lengthAdjust="spacingAndGlyphs" fill="#333" stroke="#333" stroke-width="0.06">G132S</text>
<line x1="440.60" y1="467.90" x2="450.90" y2="467.90" stroke="#f2c316" stroke-width="1.3"/>
<path d="M445.75,465.14L448.05,467.90L445.75,470.66L443.45,467.90Z" fill="#f2c316"/>
<text x="454.00" y="470.20" font-size="6.1" textLength="25.40" lengthAdjust="spacingAndGlyphs" fill="#2a2a2a" stroke="#2a2a2a" stroke-width="0.06">GFP-RPS15</text>
<text x="479.80" y="466.90" font-size="3.2" textLength="8.00" lengthAdjust="spacingAndGlyphs" fill="#333" stroke="#333" stroke-width="0.06">G134R</text>
<line x1="440.60" y1="480.20" x2="450.90" y2="480.20" stroke="#e88a17" stroke-width="1.3"/>
<circle cx="445.75" cy="480.20" r="2.42" fill="#e88a17"/>
<text x="454.00" y="482.50" font-size="6.1" textLength="25.40" lengthAdjust="spacingAndGlyphs" fill="#2a2a2a" stroke="#2a2a2a" stroke-width="0.06">GFP-RPS15</text>
<text x="479.80" y="479.20" font-size="3.2" textLength="8.00" lengthAdjust="spacingAndGlyphs" fill="#333" stroke="#333" stroke-width="0.06">T136A</text>
<line x1="440.60" y1="492.50" x2="450.90" y2="492.50" stroke="#b0102d" stroke-width="1.3"/>
<rect x="443.68" y="490.43" width="4.14" height="4.14" fill="#b0102d"/>
<text x="454.00" y="494.80" font-size="6.1" textLength="25.40" lengthAdjust="spacingAndGlyphs" fill="#2a2a2a" stroke="#2a2a2a" stroke-width="0.06">GFP-RPS15</text>
<text x="479.80" y="491.50" font-size="3.2" textLength="8.00" lengthAdjust="spacingAndGlyphs" fill="#333" stroke="#333" stroke-width="0.06">H137Y</text>
<line x1="440.60" y1="504.80" x2="450.90" y2="504.80" stroke="#3c1f6c" stroke-width="1.3"/>
<path d="M443.22,506.64L448.28,506.64L445.75,502.27Z" fill="#3c1f6c"/>
<text x="454.00" y="507.10" font-size="6.1" textLength="25.40" lengthAdjust="spacingAndGlyphs" fill="#2a2a2a" stroke="#2a2a2a" stroke-width="0.06">GFP-RPS15</text>
<text x="479.80" y="503.80" font-size="3.2" textLength="8.00" lengthAdjust="spacingAndGlyphs" fill="#333" stroke="#333" stroke-width="0.06">S138F</text>
<line x1="440.60" y1="517.10" x2="450.90" y2="517.10" stroke="#8c86cc" stroke-width="1.3"/>
<path d="M445.75,514.34L448.05,517.10L445.75,519.86L443.45,517.10Z" fill="#8c86cc"/>
<text x="454.00" y="519.40" font-size="6.1" textLength="25.40" lengthAdjust="spacingAndGlyphs" fill="#2a2a2a" stroke="#2a2a2a" stroke-width="0.06">GFP-RPS15</text>
<text x="479.80" y="516.10" font-size="3.2" textLength="8.00" lengthAdjust="spacingAndGlyphs" fill="#333" stroke="#333" stroke-width="0.06">S139F</text>
<line x1="440.60" y1="529.40" x2="450.90" y2="529.40" stroke="#c6c6c6" stroke-width="1.3"/>
<path d="M443.45,529.40H448.05M445.75,527.10V531.70" stroke="#c6c6c6" stroke-width="0.9"/>
<text x="454.00" y="531.70" font-size="6.1" textLength="25.40" lengthAdjust="spacingAndGlyphs" fill="#2a2a2a" stroke="#2a2a2a" stroke-width="0.06">GFP-RPS15</text>
<text x="479.80" y="528.40" font-size="3.2" textLength="8.00" lengthAdjust="spacingAndGlyphs" fill="#333" stroke="#333" stroke-width="0.06">K145N</text>
<line x1="41.00" y1="584.00" x2="41.00" y2="679.05" stroke="#1a1a1a" stroke-width="1.3"/>
<line x1="40.50" y1="678.45" x2="186.20" y2="678.45" stroke="#1a1a1a" stroke-width="1.3"/>
<line x1="37.10" y1="678.45" x2="41.00" y2="678.45" stroke="#1a1a1a" stroke-width="1.0"/>
<text x="35.00" y="680.75" font-size="6.6" text-anchor="end" textLength="9.40" lengthAdjust="spacingAndGlyphs" fill="#222" stroke="#222" stroke-width="0.28">-20</text>
<line x1="37.10" y1="665.30" x2="41.00" y2="665.30" stroke="#1a1a1a" stroke-width="1.0"/>
<text x="35.00" y="667.60" font-size="6.6" text-anchor="end" fill="#222" stroke="#222" stroke-width="0.28">0</text>
<line x1="37.10" y1="652.15" x2="41.00" y2="652.15" stroke="#1a1a1a" stroke-width="1.0"/>
<text x="35.00" y="654.45" font-size="6.6" text-anchor="end" textLength="6.30" lengthAdjust="spacingAndGlyphs" fill="#222" stroke="#222" stroke-width="0.28">20</text>
<line x1="37.10" y1="639.00" x2="41.00" y2="639.00" stroke="#1a1a1a" stroke-width="1.0"/>
<text x="35.00" y="641.30" font-size="6.6" text-anchor="end" textLength="6.30" lengthAdjust="spacingAndGlyphs" fill="#222" stroke="#222" stroke-width="0.28">40</text>
<line x1="37.10" y1="625.85" x2="41.00" y2="625.85" stroke="#1a1a1a" stroke-width="1.0"/>
<text x="35.00" y="628.15" font-size="6.6" text-anchor="end" textLength="6.30" lengthAdjust="spacingAndGlyphs" fill="#222" stroke="#222" stroke-width="0.28">60</text>
<line x1="37.10" y1="612.70" x2="41.00" y2="612.70" stroke="#1a1a1a" stroke-width="1.0"/>
<text x="35.00" y="615.00" font-size="6.6" text-anchor="end" textLength="6.30" lengthAdjust="spacingAndGlyphs" fill="#222" stroke="#222" stroke-width="0.28">80</text>
<line x1="37.10" y1="599.55" x2="41.00" y2="599.55" stroke="#1a1a1a" stroke-width="1.0"/>
<text x="35.00" y="601.85" font-size="6.6" text-anchor="end" textLength="9.40" lengthAdjust="spacingAndGlyphs" fill="#222" stroke="#222" stroke-width="0.28">100</text>
<line x1="37.10" y1="586.40" x2="41.00" y2="586.40" stroke="#1a1a1a" stroke-width="1.0"/>
<text x="35.00" y="588.70" font-size="6.6" text-anchor="end" textLength="9.40" lengthAdjust="spacingAndGlyphs" fill="#222" stroke="#222" stroke-width="0.28">120</text>
<line x1="41.00" y1="678.45" x2="41.00" y2="681.45" stroke="#1a1a1a" stroke-width="1.0"/>
<text x="41.00" y="689.95" font-size="5.9" text-anchor="middle" fill="#222" stroke="#222" stroke-width="0.28">1</text>
<line x1="56.80" y1="678.45" x2="56.80" y2="681.45" stroke="#1a1a1a" stroke-width="1.0"/>
<text x="56.80" y="689.95" font-size="5.9" text-anchor="middle" fill="#222" stroke="#222" stroke-width="0.28">2</text>
<line x1="72.60" y1="678.45" x2="72.60" y2="681.45" stroke="#1a1a1a" stroke-width="1.0"/>
<text x="72.60" y="689.95" font-size="5.9" text-anchor="middle" fill="#222" stroke="#222" stroke-width="0.28">4</text>
<line x1="88.40" y1="678.45" x2="88.40" y2="681.45" stroke="#1a1a1a" stroke-width="1.0"/>
<text x="88.40" y="689.95" font-size="5.9" text-anchor="middle" fill="#222" stroke="#222" stroke-width="0.28">8</text>
<line x1="104.20" y1="678.45" x2="104.20" y2="681.45" stroke="#1a1a1a" stroke-width="1.0"/>
<text x="104.20" y="689.95" font-size="5.9" text-anchor="middle" textLength="6.50" lengthAdjust="spacingAndGlyphs" fill="#222" stroke="#222" stroke-width="0.28">16</text>
<line x1="120.00" y1="678.45" x2="120.00" y2="681.45" stroke="#1a1a1a" stroke-width="1.0"/>
<text x="120.00" y="689.95" font-size="5.9" text-anchor="middle" textLength="6.50" lengthAdjust="spacingAndGlyphs" fill="#222" stroke="#222" stroke-width="0.28">32</text>
<line x1="135.80" y1="678.45" x2="135.80" y2="681.45" stroke="#1a1a1a" stroke-width="1.0"/>
<text x="135.80" y="689.95" font-size="5.9" text-anchor="middle" textLength="6.50" lengthAdjust="spacingAndGlyphs" fill="#222" stroke="#222" stroke-width="0.28">64</text>
<line x1="151.60" y1="678.45" x2="151.60" y2="681.45" stroke="#1a1a1a" stroke-width="1.0"/>
<text x="151.60" y="689.95" font-size="5.9" text-anchor="middle" textLength="9.75" lengthAdjust="spacingAndGlyphs" fill="#222" stroke="#222" stroke-width="0.28">128</text>
<line x1="167.40" y1="678.45" x2="167.40" y2="681.45" stroke="#1a1a1a" stroke-width="1.0"/>
<text x="167.40" y="689.95" font-size="5.9" text-anchor="middle" textLength="9.75" lengthAdjust="spacingAndGlyphs" fill="#222" stroke="#222" stroke-width="0.28">256</text>
<line x1="183.20" y1="678.45" x2="183.20" y2="681.45" stroke="#1a1a1a" stroke-width="1.0"/>
<text x="183.20" y="689.95" font-size="5.9" text-anchor="middle" textLength="9.75" lengthAdjust="spacingAndGlyphs" fill="#222" stroke="#222" stroke-width="0.28">512</text>
<line x1="43.50" y1="665.30" x2="183.20" y2="665.30" stroke="#222" stroke-width="0.95" stroke-dasharray="1,1.05"/>
<text x="82.30" y="702.75" font-size="8.7" textLength="62.30" lengthAdjust="spacingAndGlyphs" fill="#222" stroke="#222" stroke-width="0.28">Fludarabine (μM)</text>
<text transform="translate(18.40,653.50) rotate(-90)" font-size="8.7" fill="#222" stroke="#222" stroke-width="0.28" textLength="43.5" lengthAdjust="spacingAndGlyphs">Viability (%)</text>
<path d="M41.00,599.55 L56.80,600.21 L72.60,598.89 L88.40,599.55 L104.20,601.52 L120.00,609.41 L135.80,627.16 L151.60,639.00 L167.40,645.57 L183.20,650.18" fill="none" stroke="#c6c6c6" stroke-width="1.2" stroke-linejoin="round"/>
<path d="M41.00,596.92V602.18M39.50,596.92H42.50M39.50,602.18H42.50" stroke="#c6c6c6" stroke-width="0.8" fill="none"/>
<path d="M56.80,597.58V602.84M55.30,597.58H58.30M55.30,602.84H58.30" stroke="#c6c6c6" stroke-width="0.8" fill="none"/>
<path d="M72.60,596.26V601.52M71.10,596.26H74.10M71.10,601.52H74.10" stroke="#c6c6c6" stroke-width="0.8" fill="none"/>
<path d="M88.40,596.92V602.18M86.90,596.92H89.90M86.90,602.18H89.90" stroke="#c6c6c6" stroke-width="0.8" fill="none"/>
<path d="M104.20,598.89V604.15M102.70,598.89H105.70M102.70,604.15H105.70" stroke="#c6c6c6" stroke-width="0.8" fill="none"/>
<path d="M120.00,605.47V613.36M118.50,605.47H121.50M118.50,613.36H121.50" stroke="#c6c6c6" stroke-width="0.8" fill="none"/>
<path d="M135.80,623.22V631.11M134.30,623.22H137.30M134.30,631.11H137.30" stroke="#c6c6c6" stroke-width="0.8" fill="none"/>
<path d="M151.60,635.71V642.29M150.10,635.71H153.10M150.10,642.29H153.10" stroke="#c6c6c6" stroke-width="0.8" fill="none"/>
<path d="M167.40,642.94V648.20M165.90,642.94H168.90M165.90,648.20H168.90" stroke="#c6c6c6" stroke-width="0.8" fill="none"/>
<path d="M183.20,648.20V652.15M181.70,648.20H184.70M181.70,652.15H184.70" stroke="#c6c6c6" stroke-width="0.8" fill="none"/>
<path d="M38.85,599.55H43.15M41.00,597.40V601.70" stroke="#c6c6c6" stroke-width="0.9"/>
<path d="M54.65,600.21H58.95M56.80,598.06V602.36" stroke="#c6c6c6" stroke-width="0.9"/>
<path d="M70.45,598.89H74.75M72.60,596.74V601.04" stroke="#c6c6c6" stroke-width="0.9"/>
<path d="M86.25,599.55H90.55M88.40,597.40V601.70" stroke="#c6c6c6" stroke-width="0.9"/>
<path d="M102.05,601.52H106.35M104.20,599.37V603.67" stroke="#c6c6c6" stroke-width="0.9"/>
<path d="M117.85,609.41H122.15M120.00,607.26V611.56" stroke="#c6c6c6" stroke-width="0.9"/>
<path d="M133.65,627.16H137.95M135.80,625.01V629.31" stroke="#c6c6c6" stroke-width="0.9"/>
<path d="M149.45,639.00H153.75M151.60,636.85V641.15" stroke="#c6c6c6" stroke-width="0.9"/>
<path d="M165.25,645.57H169.55M167.40,643.42V647.72" stroke="#c6c6c6" stroke-width="0.9"/>
<path d="M181.05,650.18H185.35M183.20,648.03V652.33" stroke="#c6c6c6" stroke-width="0.9"/>
<path d="M41.00,599.55 L56.80,600.21 L72.60,598.89 L88.40,599.55 L104.20,600.87 L120.00,610.07 L135.80,623.22 L151.60,634.40 L167.40,642.29 L183.20,645.57" fill="none" stroke="#8c86cc" stroke-width="1.2" stroke-linejoin="round"/>
<path d="M41.00,596.92V602.18M39.50,596.92H42.50M39.50,602.18H42.50" stroke="#8c86cc" stroke-width="0.8" fill="none"/>
<path d="M56.80,597.58V602.84M55.30,597.58H58.30M55.30,602.84H58.30" stroke="#8c86cc" stroke-width="0.8" fill="none"/>
<path d="M72.60,596.26V601.52M71.10,596.26H74.10M71.10,601.52H74.10" stroke="#8c86cc" stroke-width="0.8" fill="none"/>
<path d="M88.40,596.92V602.18M86.90,596.92H89.90M86.90,602.18H89.90" stroke="#8c86cc" stroke-width="0.8" fill="none"/>
<path d="M104.20,598.23V603.50M102.70,598.23H105.70M102.70,603.50H105.70" stroke="#8c86cc" stroke-width="0.8" fill="none"/>
<path d="M120.00,606.12V614.01M118.50,606.12H121.50M118.50,614.01H121.50" stroke="#8c86cc" stroke-width="0.8" fill="none"/>
<path d="M135.80,619.27V627.16M134.30,619.27H137.30M134.30,627.16H137.30" stroke="#8c86cc" stroke-width="0.8" fill="none"/>
<path d="M151.60,631.11V637.68M150.10,631.11H153.10M150.10,637.68H153.10" stroke="#8c86cc" stroke-width="0.8" fill="none"/>
<path d="M167.40,639.66V644.92M165.90,639.66H168.90M165.90,644.92H168.90" stroke="#8c86cc" stroke-width="0.8" fill="none"/>
<path d="M183.20,643.60V647.55M181.70,643.60H184.70M181.70,647.55H184.70" stroke="#8c86cc" stroke-width="0.8" fill="none"/>
<path d="M41.00,596.97L43.15,599.55L41.00,602.13L38.85,599.55Z" fill="#8c86cc"/>
<path d="M56.80,597.63L58.95,600.21L56.80,602.79L54.65,600.21Z" fill="#8c86cc"/>
<path d="M72.60,596.31L74.75,598.89L72.60,601.47L70.45,598.89Z" fill="#8c86cc"/>
<path d="M88.40,596.97L90.55,599.55L88.40,602.13L86.25,599.55Z" fill="#8c86cc"/>
<path d="M104.20,598.28L106.35,600.87L104.20,603.45L102.05,600.87Z" fill="#8c86cc"/>
<path d="M120.00,607.49L122.15,610.07L120.00,612.65L117.85,610.07Z" fill="#8c86cc"/>
<path d="M135.80,620.64L137.95,623.22L135.80,625.80L133.65,623.22Z" fill="#8c86cc"/>
<path d="M151.60,631.82L153.75,634.40L151.60,636.98L149.45,634.40Z" fill="#8c86cc"/>
<path d="M167.40,639.71L169.55,642.29L167.40,644.87L165.25,642.29Z" fill="#8c86cc"/>
<path d="M183.20,642.99L185.35,645.57L183.20,648.15L181.05,645.57Z" fill="#8c86cc"/>
<path d="M41.00,599.55 L56.80,600.87 L72.60,598.23 L88.40,602.18 L104.20,604.15 L120.00,614.67 L135.80,627.82 L151.60,640.97 L167.40,648.86 L183.20,652.15" fill="none" stroke="#3c1f6c" stroke-width="1.2" stroke-linejoin="round"/>
<path d="M41.00,596.92V602.18M39.50,596.92H42.50M39.50,602.18H42.50" stroke="#3c1f6c" stroke-width="0.8" fill="none"/>
<path d="M56.80,598.23V603.50M55.30,598.23H58.30M55.30,603.50H58.30" stroke="#3c1f6c" stroke-width="0.8" fill="none"/>
<path d="M72.60,595.61V600.87M71.10,595.61H74.10M71.10,600.87H74.10" stroke="#3c1f6c" stroke-width="0.8" fill="none"/>
<path d="M88.40,599.55V604.81M86.90,599.55H89.90M86.90,604.81H89.90" stroke="#3c1f6c" stroke-width="0.8" fill="none"/>
<path d="M104.20,601.52V606.78M102.70,601.52H105.70M102.70,606.78H105.70" stroke="#3c1f6c" stroke-width="0.8" fill="none"/>
<path d="M120.00,610.73V618.62M118.50,610.73H121.50M118.50,618.62H121.50" stroke="#3c1f6c" stroke-width="0.8" fill="none"/>
<path d="M135.80,623.88V631.77M134.30,623.88H137.30M134.30,631.77H137.30" stroke="#3c1f6c" stroke-width="0.8" fill="none"/>
<path d="M151.60,637.68V644.26M150.10,637.68H153.10M150.10,644.26H153.10" stroke="#3c1f6c" stroke-width="0.8" fill="none"/>
<path d="M167.40,646.23V651.49M165.90,646.23H168.90M165.90,651.49H168.90" stroke="#3c1f6c" stroke-width="0.8" fill="none"/>
<path d="M183.20,650.18V654.12M181.70,650.18H184.70M181.70,654.12H184.70" stroke="#3c1f6c" stroke-width="0.8" fill="none"/>
<path d="M38.63,601.27L43.37,601.27L41.00,597.18Z" fill="#3c1f6c"/>
<path d="M54.43,602.59L59.16,602.59L56.80,598.50Z" fill="#3c1f6c"/>
<path d="M70.23,599.95L74.96,599.95L72.60,595.87Z" fill="#3c1f6c"/>
<path d="M86.04,603.90L90.77,603.90L88.40,599.81Z" fill="#3c1f6c"/>
<path d="M101.84,605.87L106.56,605.87L104.20,601.79Z" fill="#3c1f6c"/>
<path d="M117.64,616.39L122.36,616.39L120.00,612.31Z" fill="#3c1f6c"/>
<path d="M133.44,629.54L138.17,629.54L135.80,625.46Z" fill="#3c1f6c"/>
<path d="M149.24,642.69L153.97,642.69L151.60,638.61Z" fill="#3c1f6c"/>
<path d="M165.03,650.58L169.77,650.58L167.40,646.50Z" fill="#3c1f6c"/>
<path d="M180.84,653.87L185.57,653.87L183.20,649.78Z" fill="#3c1f6c"/>
<path d="M41.00,598.23 L56.80,600.21 L72.60,601.52 L88.40,598.89 L104.20,603.50 L120.00,615.99 L135.80,629.14 L151.60,639.66 L167.40,648.20 L183.20,650.83" fill="none" stroke="#b0102d" stroke-width="1.2" stroke-linejoin="round"/>
<path d="M41.00,591.66V604.81M39.50,591.66H42.50M39.50,604.81H42.50" stroke="#b0102d" stroke-width="0.8" fill="none"/>
<path d="M56.80,597.58V602.84M55.30,597.58H58.30M55.30,602.84H58.30" stroke="#b0102d" stroke-width="0.8" fill="none"/>
<path d="M72.60,598.23V604.81M71.10,598.23H74.10M71.10,604.81H74.10" stroke="#b0102d" stroke-width="0.8" fill="none"/>
<path d="M88.40,596.26V601.52M86.90,596.26H89.90M86.90,601.52H89.90" stroke="#b0102d" stroke-width="0.8" fill="none"/>
<path d="M104.20,600.87V606.12M102.70,600.87H105.70M102.70,606.12H105.70" stroke="#b0102d" stroke-width="0.8" fill="none"/>
<path d="M120.00,609.41V622.56M118.50,609.41H121.50M118.50,622.56H121.50" stroke="#b0102d" stroke-width="0.8" fill="none"/>
<path d="M135.80,625.85V632.42M134.30,625.85H137.30M134.30,632.42H137.30" stroke="#b0102d" stroke-width="0.8" fill="none"/>
<path d="M151.60,636.37V642.94M150.10,636.37H153.10M150.10,642.94H153.10" stroke="#b0102d" stroke-width="0.8" fill="none"/>
<path d="M167.40,645.57V650.83M165.90,645.57H168.90M165.90,650.83H168.90" stroke="#b0102d" stroke-width="0.8" fill="none"/>
<path d="M183.20,648.86V652.81M181.70,648.86H184.70M181.70,652.81H184.70" stroke="#b0102d" stroke-width="0.8" fill="none"/>
<rect x="39.06" y="596.30" width="3.87" height="3.87" fill="#b0102d"/>
<rect x="54.86" y="598.27" width="3.87" height="3.87" fill="#b0102d"/>
<rect x="70.66" y="599.59" width="3.87" height="3.87" fill="#b0102d"/>
<rect x="86.47" y="596.96" width="3.87" height="3.87" fill="#b0102d"/>
<rect x="102.27" y="601.56" width="3.87" height="3.87" fill="#b0102d"/>
<rect x="118.06" y="614.05" width="3.87" height="3.87" fill="#b0102d"/>
<rect x="133.87" y="627.20" width="3.87" height="3.87" fill="#b0102d"/>
<rect x="149.67" y="637.72" width="3.87" height="3.87" fill="#b0102d"/>
<rect x="165.47" y="646.27" width="3.87" height="3.87" fill="#b0102d"/>
<rect x="181.27" y="648.90" width="3.87" height="3.87" fill="#b0102d"/>
<path d="M41.00,598.89 L56.80,599.55 L72.60,598.89 L88.40,598.89 L104.20,599.55 L120.00,608.75 L135.80,613.36 L151.60,617.96 L167.40,627.16 L183.20,637.03" fill="none" stroke="#e88a17" stroke-width="1.2" stroke-linejoin="round"/>
<path d="M41.00,596.26V601.52M39.50,596.26H42.50M39.50,601.52H42.50" stroke="#e88a17" stroke-width="0.8" fill="none"/>
<path d="M56.80,596.26V602.84M55.30,596.26H58.30M55.30,602.84H58.30" stroke="#e88a17" stroke-width="0.8" fill="none"/>
<path d="M72.60,596.26V601.52M71.10,596.26H74.10M71.10,601.52H74.10" stroke="#e88a17" stroke-width="0.8" fill="none"/>
<path d="M88.40,596.26V601.52M86.90,596.26H89.90M86.90,601.52H89.90" stroke="#e88a17" stroke-width="0.8" fill="none"/>
<path d="M104.20,596.92V602.18M102.70,596.92H105.70M102.70,602.18H105.70" stroke="#e88a17" stroke-width="0.8" fill="none"/>
<path d="M120.00,604.81V612.70M118.50,604.81H121.50M118.50,612.70H121.50" stroke="#e88a17" stroke-width="0.8" fill="none"/>
<path d="M135.80,608.75V617.96M134.30,608.75H137.30M134.30,617.96H137.30" stroke="#e88a17" stroke-width="0.8" fill="none"/>
<path d="M151.60,614.01V621.90M150.10,614.01H153.10M150.10,621.90H153.10" stroke="#e88a17" stroke-width="0.8" fill="none"/>
<path d="M167.40,624.53V629.79M165.90,624.53H168.90M165.90,629.79H168.90" stroke="#e88a17" stroke-width="0.8" fill="none"/>
<path d="M183.20,635.05V639.00M181.70,635.05H184.70M181.70,639.00H184.70" stroke="#e88a17" stroke-width="0.8" fill="none"/>
<circle cx="41.00" cy="598.89" r="2.26" fill="#e88a17"/>
<circle cx="56.80" cy="599.55" r="2.26" fill="#e88a17"/>
<circle cx="72.60" cy="598.89" r="2.26" fill="#e88a17"/>
<circle cx="88.40" cy="598.89" r="2.26" fill="#e88a17"/>
<circle cx="104.20" cy="599.55" r="2.26" fill="#e88a17"/>
<circle cx="120.00" cy="608.75" r="2.26" fill="#e88a17"/>
<circle cx="135.80" cy="613.36" r="2.26" fill="#e88a17"/>
<circle cx="151.60" cy="617.96" r="2.26" fill="#e88a17"/>
<circle cx="167.40" cy="627.16" r="2.26" fill="#e88a17"/>
<circle cx="183.20" cy="637.03" r="2.26" fill="#e88a17"/>
<path d="M41.00,601.52 L56.80,600.21 L72.60,598.23 L88.40,598.23 L104.20,598.23 L120.00,607.44 L135.80,616.64 L151.60,625.85 L167.40,633.74 L183.20,640.31" fill="none" stroke="#5cb040" stroke-width="1.2" stroke-linejoin="round"/>
<path d="M41.00,598.89V604.15M39.50,598.89H42.50M39.50,604.15H42.50" stroke="#5cb040" stroke-width="0.8" fill="none"/>
<path d="M56.80,597.58V602.84M55.30,597.58H58.30M55.30,602.84H58.30" stroke="#5cb040" stroke-width="0.8" fill="none"/>
<path d="M72.60,595.61V600.87M71.10,595.61H74.10M71.10,600.87H74.10" stroke="#5cb040" stroke-width="0.8" fill="none"/>
<path d="M88.40,595.61V600.87M86.90,595.61H89.90M86.90,600.87H89.90" stroke="#5cb040" stroke-width="0.8" fill="none"/>
<path d="M104.20,595.61V600.87M102.70,595.61H105.70M102.70,600.87H105.70" stroke="#5cb040" stroke-width="0.8" fill="none"/>
<path d="M120.00,603.50V611.38M118.50,603.50H121.50M118.50,611.38H121.50" stroke="#5cb040" stroke-width="0.8" fill="none"/>
<path d="M135.80,612.70V620.59M134.30,612.70H137.30M134.30,620.59H137.30" stroke="#5cb040" stroke-width="0.8" fill="none"/>
<path d="M151.60,622.56V629.14M150.10,622.56H153.10M150.10,629.14H153.10" stroke="#5cb040" stroke-width="0.8" fill="none"/>
<path d="M167.40,631.11V636.37M165.90,631.11H168.90M165.90,636.37H168.90" stroke="#5cb040" stroke-width="0.8" fill="none"/>
<path d="M183.20,638.34V642.29M181.70,638.34H184.70M181.70,642.29H184.70" stroke="#5cb040" stroke-width="0.8" fill="none"/>
<rect x="39.06" y="599.59" width="3.87" height="3.87" fill="#5cb040"/>
<rect x="54.86" y="598.27" width="3.87" height="3.87" fill="#5cb040"/>
<rect x="70.66" y="596.30" width="3.87" height="3.87" fill="#5cb040"/>
<rect x="86.47" y="596.30" width="3.87" height="3.87" fill="#5cb040"/>
<rect x="102.27" y="596.30" width="3.87" height="3.87" fill="#5cb040"/>
<rect x="118.06" y="605.50" width="3.87" height="3.87" fill="#5cb040"/>
<rect x="133.87" y="614.71" width="3.87" height="3.87" fill="#5cb040"/>
<rect x="149.67" y="623.91" width="3.87" height="3.87" fill="#5cb040"/>
<rect x="165.47" y="631.81" width="3.87" height="3.87" fill="#5cb040"/>
<rect x="181.27" y="638.38" width="3.87" height="3.87" fill="#5cb040"/>
<path d="M41.00,600.21 L56.80,600.87 L72.60,597.58 L88.40,598.23 L104.20,601.52 L120.00,607.44 L135.80,637.03 L151.60,650.83 L167.40,654.12 L183.20,654.78" fill="none" stroke="#1f5a47" stroke-width="1.2" stroke-linejoin="round"/>
<path d="M41.00,597.58V602.84M39.50,597.58H42.50M39.50,602.84H42.50" stroke="#1f5a47" stroke-width="0.8" fill="none"/>
<path d="M56.80,598.23V603.50M55.30,598.23H58.30M55.30,603.50H58.30" stroke="#1f5a47" stroke-width="0.8" fill="none"/>
<path d="M72.60,594.95V600.21M71.10,594.95H74.10M71.10,600.21H74.10" stroke="#1f5a47" stroke-width="0.8" fill="none"/>
<path d="M88.40,595.61V600.87M86.90,595.61H89.90M86.90,600.87H89.90" stroke="#1f5a47" stroke-width="0.8" fill="none"/>
<path d="M104.20,598.89V604.15M102.70,598.89H105.70M102.70,604.15H105.70" stroke="#1f5a47" stroke-width="0.8" fill="none"/>
<path d="M120.00,599.55V615.33M118.50,599.55H121.50M118.50,615.33H121.50" stroke="#1f5a47" stroke-width="0.8" fill="none"/>
<path d="M135.80,631.77V642.29M134.30,631.77H137.30M134.30,642.29H137.30" stroke="#1f5a47" stroke-width="0.8" fill="none"/>
<path d="M151.60,645.57V656.09M150.10,645.57H153.10M150.10,656.09H153.10" stroke="#1f5a47" stroke-width="0.8" fill="none"/>
<path d="M167.40,648.20V660.04M165.90,648.20H168.90M165.90,660.04H168.90" stroke="#1f5a47" stroke-width="0.8" fill="none"/>
<path d="M183.20,650.83V658.72M181.70,650.83H184.70M181.70,658.72H184.70" stroke="#1f5a47" stroke-width="0.8" fill="none"/>
<path d="M38.63,598.49L43.37,598.49L41.00,602.57Z" fill="#1f5a47"/>
<path d="M54.43,599.14L59.16,599.14L56.80,603.23Z" fill="#1f5a47"/>
<path d="M70.23,595.86L74.96,595.86L72.60,599.94Z" fill="#1f5a47"/>
<path d="M86.04,596.51L90.77,596.51L88.40,600.60Z" fill="#1f5a47"/>
<path d="M101.84,599.80L106.56,599.80L104.20,603.89Z" fill="#1f5a47"/>
<path d="M117.64,605.72L122.36,605.72L120.00,609.80Z" fill="#1f5a47"/>
<path d="M133.44,635.31L138.17,635.31L135.80,639.39Z" fill="#1f5a47"/>
<path d="M149.24,649.11L153.97,649.11L151.60,653.20Z" fill="#1f5a47"/>
<path d="M165.03,652.40L169.77,652.40L167.40,656.49Z" fill="#1f5a47"/>
<path d="M180.84,653.06L185.57,653.06L183.20,657.14Z" fill="#1f5a47"/>
<path d="M41.00,597.58 L56.80,598.89 L72.60,598.89 L88.40,600.21 L104.20,607.44 L120.00,614.01 L135.80,629.14 L151.60,639.00 L167.40,646.23 L183.20,648.86" fill="none" stroke="#f2c316" stroke-width="1.2" stroke-linejoin="round"/>
<path d="M41.00,593.63V601.52M39.50,593.63H42.50M39.50,601.52H42.50" stroke="#f2c316" stroke-width="0.8" fill="none"/>
<path d="M56.80,594.95V602.84M55.30,594.95H58.30M55.30,602.84H58.30" stroke="#f2c316" stroke-width="0.8" fill="none"/>
<path d="M72.60,596.26V601.52M71.10,596.26H74.10M71.10,601.52H74.10" stroke="#f2c316" stroke-width="0.8" fill="none"/>
<path d="M88.40,597.58V602.84M86.90,597.58H89.90M86.90,602.84H89.90" stroke="#f2c316" stroke-width="0.8" fill="none"/>
<path d="M104.20,602.84V612.04M102.70,602.84H105.70M102.70,612.04H105.70" stroke="#f2c316" stroke-width="0.8" fill="none"/>
<path d="M120.00,610.07V617.96M118.50,610.07H121.50M118.50,617.96H121.50" stroke="#f2c316" stroke-width="0.8" fill="none"/>
<path d="M135.80,625.85V632.42M134.30,625.85H137.30M134.30,632.42H137.30" stroke="#f2c316" stroke-width="0.8" fill="none"/>
<path d="M151.60,635.71V642.29M150.10,635.71H153.10M150.10,642.29H153.10" stroke="#f2c316" stroke-width="0.8" fill="none"/>
<path d="M167.40,643.60V648.86M165.90,643.60H168.90M165.90,648.86H168.90" stroke="#f2c316" stroke-width="0.8" fill="none"/>
<path d="M183.20,646.89V650.83M181.70,646.89H184.70M181.70,650.83H184.70" stroke="#f2c316" stroke-width="0.8" fill="none"/>
<path d="M41.00,595.00L43.15,597.58L41.00,600.16L38.85,597.58Z" fill="#f2c316"/>
<path d="M56.80,596.31L58.95,598.89L56.80,601.47L54.65,598.89Z" fill="#f2c316"/>
<path d="M72.60,596.31L74.75,598.89L72.60,601.47L70.45,598.89Z" fill="#f2c316"/>
<path d="M88.40,597.63L90.55,600.21L88.40,602.79L86.25,600.21Z" fill="#f2c316"/>
<path d="M104.20,604.86L106.35,607.44L104.20,610.02L102.05,607.44Z" fill="#f2c316"/>
<path d="M120.00,611.43L122.15,614.01L120.00,616.60L117.85,614.01Z" fill="#f2c316"/>
<path d="M135.80,626.56L137.95,629.14L135.80,631.72L133.65,629.14Z" fill="#f2c316"/>
<path d="M151.60,636.42L153.75,639.00L151.60,641.58L149.45,639.00Z" fill="#f2c316"/>
<path d="M167.40,643.65L169.55,646.23L167.40,648.81L165.25,646.23Z" fill="#f2c316"/>
<path d="M183.20,646.28L185.35,648.86L183.20,651.44L181.05,648.86Z" fill="#f2c316"/>
<path d="M41.00,599.55 L56.80,600.87 L72.60,598.89 L88.40,598.89 L104.20,602.18 L120.00,609.41 L135.80,630.45 L151.60,642.29 L167.40,649.52 L183.20,654.12" fill="none" stroke="#1f3c7c" stroke-width="1.2" stroke-linejoin="round"/>
<path d="M41.00,596.92V602.18M39.50,596.92H42.50M39.50,602.18H42.50" stroke="#1f3c7c" stroke-width="0.8" fill="none"/>
<path d="M56.80,598.23V603.50M55.30,598.23H58.30M55.30,603.50H58.30" stroke="#1f3c7c" stroke-width="0.8" fill="none"/>
<path d="M72.60,596.26V601.52M71.10,596.26H74.10M71.10,601.52H74.10" stroke="#1f3c7c" stroke-width="0.8" fill="none"/>
<path d="M88.40,596.26V601.52M86.90,596.26H89.90M86.90,601.52H89.90" stroke="#1f3c7c" stroke-width="0.8" fill="none"/>
<path d="M104.20,599.55V604.81M102.70,599.55H105.70M102.70,604.81H105.70" stroke="#1f3c7c" stroke-width="0.8" fill="none"/>
<path d="M120.00,605.47V613.36M118.50,605.47H121.50M118.50,613.36H121.50" stroke="#1f3c7c" stroke-width="0.8" fill="none"/>
<path d="M135.80,626.51V634.40M134.30,626.51H137.30M134.30,634.40H137.30" stroke="#1f3c7c" stroke-width="0.8" fill="none"/>
<path d="M151.60,639.00V645.57M150.10,639.00H153.10M150.10,645.57H153.10" stroke="#1f3c7c" stroke-width="0.8" fill="none"/>
<path d="M167.40,646.89V652.15M165.90,646.89H168.90M165.90,652.15H168.90" stroke="#1f3c7c" stroke-width="0.8" fill="none"/>
<path d="M183.20,652.15V656.09M181.70,652.15H184.70M181.70,656.09H184.70" stroke="#1f3c7c" stroke-width="0.8" fill="none"/>
<circle cx="41.00" cy="599.55" r="2.26" fill="#1f3c7c"/>
<circle cx="56.80" cy="600.87" r="2.26" fill="#1f3c7c"/>
<circle cx="72.60" cy="598.89" r="2.26" fill="#1f3c7c"/>
<circle cx="88.40" cy="598.89" r="2.26" fill="#1f3c7c"/>
<circle cx="104.20" cy="602.18" r="2.26" fill="#1f3c7c"/>
<circle cx="120.00" cy="609.41" r="2.26" fill="#1f3c7c"/>
<circle cx="135.80" cy="630.45" r="2.26" fill="#1f3c7c"/>
<circle cx="151.60" cy="642.29" r="2.26" fill="#1f3c7c"/>
<circle cx="167.40" cy="649.52" r="2.26" fill="#1f3c7c"/>
<circle cx="183.20" cy="654.12" r="2.26" fill="#1f3c7c"/>
<rect x="264.50" y="569.90" width="226.30" height="6.90" fill="#000"/>
<rect x="264.50" y="578.80" width="226.30" height="14.00" fill="#000"/>
<text x="362.30" y="575.70" font-size="6.0" textLength="30.70" lengthAdjust="spacingAndGlyphs" fill="#fff" stroke="#fff" stroke-width="0.08">IC50 ± SEM</text>
<text x="281.50" y="588.10" font-size="6.6" textLength="25.10" lengthAdjust="spacingAndGlyphs" fill="#fff" stroke="#fff" stroke-width="0.08">Mutation</text>
<text x="355.80" y="583.90" font-size="6.6" text-anchor="middle" textLength="23.90" lengthAdjust="spacingAndGlyphs" fill="#fff" stroke="#fff" stroke-width="0.08">Ibrutinib</text>
<text x="355.80" y="591.30" font-size="6.6" text-anchor="middle" textLength="13.00" lengthAdjust="spacingAndGlyphs" fill="#fff" stroke="#fff" stroke-width="0.08">(μM)</text>
<text x="408.30" y="583.90" font-size="6.6" text-anchor="middle" textLength="27.00" lengthAdjust="spacingAndGlyphs" fill="#fff" stroke="#fff" stroke-width="0.08">Sorafenib</text>
<text x="408.30" y="591.30" font-size="6.6" text-anchor="middle" textLength="13.00" lengthAdjust="spacingAndGlyphs" fill="#fff" stroke="#fff" stroke-width="0.08">(μM)</text>
<text x="464.00" y="583.90" font-size="6.6" text-anchor="middle" textLength="32.70" lengthAdjust="spacingAndGlyphs" fill="#fff" stroke="#fff" stroke-width="0.08">Fludarabine</text>
<text x="464.00" y="591.30" font-size="6.6" text-anchor="middle" textLength="13.00" lengthAdjust="spacingAndGlyphs" fill="#fff" stroke="#fff" stroke-width="0.08">(μM)</text>
<text x="273.00" y="604.90" font-size="7.2" textLength="30.00" lengthAdjust="spacingAndGlyphs" fill="#222" stroke="#222" stroke-width="0.2">GFP-RPS15</text>
<text x="303.60" y="601.40" font-size="4.3" textLength="6.00" lengthAdjust="spacingAndGlyphs" fill="#333" stroke="#333" stroke-width="0.08">WT</text>
<text x="355.90" y="604.90" font-size="6.7" text-anchor="middle" textLength="29.92" lengthAdjust="spacingAndGlyphs" fill="#222" stroke="#222" stroke-width="0.16">6.52 ± 0.55</text>
<text x="408.40" y="604.90" font-size="6.7" text-anchor="middle" textLength="29.92" lengthAdjust="spacingAndGlyphs" fill="#222" stroke="#222" stroke-width="0.16">5.45 ± 0.33</text>
<text x="463.90" y="604.90" font-size="6.7" text-anchor="middle" textLength="32.64" lengthAdjust="spacingAndGlyphs" fill="#222" stroke="#222" stroke-width="0.16">89.70 ± 9.81</text>
<rect x="264.50" y="611.00" width="226.30" height="8.00" fill="#c3c3c3"/>
<text x="273.00" y="616.90" font-size="7.2" textLength="30.00" lengthAdjust="spacingAndGlyphs" fill="#222" stroke="#222" stroke-width="0.2">GFP-RPS15</text>
<text x="303.60" y="613.40" font-size="4.3" textLength="11.00" lengthAdjust="spacingAndGlyphs" fill="#333" stroke="#333" stroke-width="0.08">P131S</text>
<text x="355.90" y="616.90" font-size="6.7" text-anchor="middle" textLength="29.92" lengthAdjust="spacingAndGlyphs" fill="#222" stroke="#222" stroke-width="0.16">9.98 ± 0.62</text>
<text x="408.40" y="616.90" font-size="6.7" text-anchor="middle" textLength="29.92" lengthAdjust="spacingAndGlyphs" fill="#222" stroke="#222" stroke-width="0.16">8.10 ± 0.48</text>
<text x="463.90" y="616.90" font-size="6.7" text-anchor="middle" textLength="38.08" lengthAdjust="spacingAndGlyphs" fill="#222" stroke="#222" stroke-width="0.16">242.34 ± 26.55</text>
<text x="273.00" y="632.10" font-size="7.2" textLength="30.00" lengthAdjust="spacingAndGlyphs" fill="#222" stroke="#222" stroke-width="0.2">GFP-RPS15</text>
<text x="303.60" y="628.60" font-size="4.3" textLength="11.00" lengthAdjust="spacingAndGlyphs" fill="#333" stroke="#333" stroke-width="0.08">G132S</text>
<text x="355.90" y="632.10" font-size="6.7" text-anchor="middle" textLength="29.92" lengthAdjust="spacingAndGlyphs" fill="#222" stroke="#222" stroke-width="0.16">9.24 ± 0.50</text>
<text x="408.40" y="632.10" font-size="6.7" text-anchor="middle" textLength="29.92" lengthAdjust="spacingAndGlyphs" fill="#222" stroke="#222" stroke-width="0.16">5.58 ± 0.29</text>
<text x="463.90" y="632.10" font-size="6.7" text-anchor="middle" textLength="35.36" lengthAdjust="spacingAndGlyphs" fill="#222" stroke="#222" stroke-width="0.16">69.82 ± 05.12</text>
<rect x="264.50" y="638.20" width="226.30" height="8.00" fill="#c3c3c3"/>
<text x="273.00" y="644.10" font-size="7.2" textLength="30.00" lengthAdjust="spacingAndGlyphs" fill="#222" stroke="#222" stroke-width="0.2">GFP-RPS15</text>
<text x="303.60" y="640.60" font-size="4.3" textLength="11.00" lengthAdjust="spacingAndGlyphs" fill="#333" stroke="#333" stroke-width="0.08">G134R</text>
<text x="355.90" y="644.10" font-size="6.7" text-anchor="middle" textLength="29.92" lengthAdjust="spacingAndGlyphs" fill="#222" stroke="#222" stroke-width="0.16">4.12 ± 0.27</text>
<text x="408.40" y="644.10" font-size="6.7" text-anchor="middle" textLength="29.92" lengthAdjust="spacingAndGlyphs" fill="#222" stroke="#222" stroke-width="0.16">3.89 ± 0.21</text>
<text x="463.90" y="644.10" font-size="6.7" text-anchor="middle" textLength="32.64" lengthAdjust="spacingAndGlyphs" fill="#222" stroke="#222" stroke-width="0.16">93.57 ± 7.61</text>
<text x="273.00" y="659.30" font-size="7.2" textLength="30.00" lengthAdjust="spacingAndGlyphs" fill="#222" stroke="#222" stroke-width="0.2">GFP-RPS15</text>
<text x="303.60" y="655.80" font-size="4.3" textLength="11.00" lengthAdjust="spacingAndGlyphs" fill="#333" stroke="#333" stroke-width="0.08">T136A</text>
<text x="355.90" y="659.30" font-size="6.7" text-anchor="middle" textLength="32.64" lengthAdjust="spacingAndGlyphs" fill="#222" stroke="#222" stroke-width="0.16">10.34 ± 0.59</text>
<text x="408.40" y="659.30" font-size="6.7" text-anchor="middle" textLength="29.92" lengthAdjust="spacingAndGlyphs" fill="#222" stroke="#222" stroke-width="0.16">7.98 ± 0.43</text>
<text x="463.90" y="659.30" font-size="6.7" text-anchor="middle" textLength="38.08" lengthAdjust="spacingAndGlyphs" fill="#222" stroke="#222" stroke-width="0.16">356.07 ± 35.56</text>
<rect x="264.50" y="665.40" width="226.30" height="8.00" fill="#c3c3c3"/>
<text x="273.00" y="671.30" font-size="7.2" textLength="30.00" lengthAdjust="spacingAndGlyphs" fill="#222" stroke="#222" stroke-width="0.2">GFP-RPS15</text>
<text x="303.60" y="667.80" font-size="4.3" textLength="11.00" lengthAdjust="spacingAndGlyphs" fill="#333" stroke="#333" stroke-width="0.08">H137Y</text>
<text x="355.90" y="671.30" font-size="6.7" text-anchor="middle" textLength="29.92" lengthAdjust="spacingAndGlyphs" fill="#222" stroke="#222" stroke-width="0.16">4.93 ± 0.26</text>
<text x="408.40" y="671.30" font-size="6.7" text-anchor="middle" textLength="29.92" lengthAdjust="spacingAndGlyphs" fill="#222" stroke="#222" stroke-width="0.16">3.66 ± 0.17</text>
<text x="463.90" y="671.30" font-size="6.7" text-anchor="middle" textLength="32.64" lengthAdjust="spacingAndGlyphs" fill="#222" stroke="#222" stroke-width="0.16">92.80 ± 7.31</text>
<text x="273.00" y="686.50" font-size="7.2" textLength="30.00" lengthAdjust="spacingAndGlyphs" fill="#222" stroke="#222" stroke-width="0.2">GFP-RPS15</text>
<text x="303.60" y="683.00" font-size="4.3" textLength="11.00" lengthAdjust="spacingAndGlyphs" fill="#333" stroke="#333" stroke-width="0.08">S138F</text>
<text x="355.90" y="686.50" font-size="6.7" text-anchor="middle" textLength="29.92" lengthAdjust="spacingAndGlyphs" fill="#222" stroke="#222" stroke-width="0.16">6.15 ± 0.39</text>
<text x="408.40" y="686.50" font-size="6.7" text-anchor="middle" textLength="29.92" lengthAdjust="spacingAndGlyphs" fill="#222" stroke="#222" stroke-width="0.16">4.73 ± 0.25</text>
<text x="463.90" y="686.50" font-size="6.7" text-anchor="middle" textLength="32.64" lengthAdjust="spacingAndGlyphs" fill="#222" stroke="#222" stroke-width="0.16">88.09 ± 7.49</text>
<rect x="264.50" y="692.60" width="226.30" height="8.00" fill="#c3c3c3"/>
<text x="273.00" y="698.50" font-size="7.2" textLength="30.00" lengthAdjust="spacingAndGlyphs" fill="#222" stroke="#222" stroke-width="0.2">GFP-RPS15</text>
<text x="303.60" y="695.00" font-size="4.3" textLength="11.00" lengthAdjust="spacingAndGlyphs" fill="#333" stroke="#333" stroke-width="0.08">S139F</text>
<text x="355.90" y="698.50" font-size="6.7" text-anchor="middle" textLength="29.92" lengthAdjust="spacingAndGlyphs" fill="#222" stroke="#222" stroke-width="0.16">7.71 ± 0.43</text>
<text x="408.40" y="698.50" font-size="6.7" text-anchor="middle" textLength="29.92" lengthAdjust="spacingAndGlyphs" fill="#222" stroke="#222" stroke-width="0.16">7.98 ± 0.41</text>
<text x="463.90" y="698.50" font-size="6.7" text-anchor="middle" textLength="38.08" lengthAdjust="spacingAndGlyphs" fill="#222" stroke="#222" stroke-width="0.16">133.11 ± 10.06</text>
<text x="273.00" y="713.70" font-size="7.2" textLength="30.00" lengthAdjust="spacingAndGlyphs" fill="#222" stroke="#222" stroke-width="0.2">GFP-RPS15</text>
<text x="303.60" y="710.20" font-size="4.3" textLength="11.00" lengthAdjust="spacingAndGlyphs" fill="#333" stroke="#333" stroke-width="0.08">K145N</text>
<text x="355.90" y="713.70" font-size="6.7" text-anchor="middle" textLength="29.92" lengthAdjust="spacingAndGlyphs" fill="#222" stroke="#222" stroke-width="0.16">8.01 ± 0.46</text>
<text x="408.40" y="713.70" font-size="6.7" text-anchor="middle" textLength="29.92" lengthAdjust="spacingAndGlyphs" fill="#222" stroke="#222" stroke-width="0.16">7.45 ± 0.53</text>
<text x="463.90" y="713.70" font-size="6.7" text-anchor="middle" textLength="32.64" lengthAdjust="spacingAndGlyphs" fill="#222" stroke="#222" stroke-width="0.16">91.27 ± 6.99</text>
<line x1="264.50" y1="718.60" x2="490.80" y2="718.60" stroke="#111" stroke-width="1.2"/>
<rect x="0.00" y="0.00" width="520.00" height="1.35" fill="#000"/>
<rect x="0.00" y="0.00" width="1.50" height="726.00" fill="#000"/>
<rect x="518.55" y="0.00" width="1.45" height="726.00" fill="#383838"/>
<rect x="0.00" y="724.60" width="520.00" height="1.40" fill="#111"/>
</svg>
</body></html>
